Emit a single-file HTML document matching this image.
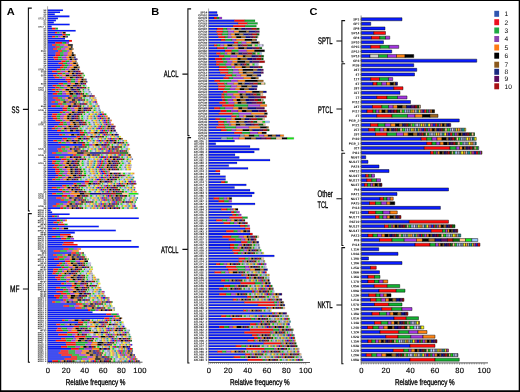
<!DOCTYPE html>
<html><head><meta charset="utf-8"><title>Figure</title>
<style>
html,body{margin:0;padding:0;background:#fff;}
body{width:520px;height:392px;overflow:hidden;}
svg{display:block;font-family:"Liberation Sans",sans-serif;will-change:transform;text-rendering:geometricPrecision;}
</style></head><body>
<svg width="520" height="392" viewBox="0 0 520 392">
<rect x="0" y="0" width="520" height="392" fill="#fff"/>
<text x="47.95" y="372.80" font-size="7.6" text-anchor="middle" font-weight="normal" fill="#000" stroke="#000" stroke-width="0.15" letter-spacing="0.3">0</text>
<text x="66.35" y="372.80" font-size="7.6" text-anchor="middle" font-weight="normal" fill="#000" stroke="#000" stroke-width="0.15" letter-spacing="0.3">20</text>
<text x="84.75" y="372.80" font-size="7.6" text-anchor="middle" font-weight="normal" fill="#000" stroke="#000" stroke-width="0.15" letter-spacing="0.3">40</text>
<text x="103.15" y="372.80" font-size="7.6" text-anchor="middle" font-weight="normal" fill="#000" stroke="#000" stroke-width="0.15" letter-spacing="0.3">60</text>
<text x="121.55" y="372.80" font-size="7.6" text-anchor="middle" font-weight="normal" fill="#000" stroke="#000" stroke-width="0.15" letter-spacing="0.3">80</text>
<text x="139.95" y="372.80" font-size="7.6" text-anchor="middle" font-weight="normal" fill="#000" stroke="#000" stroke-width="0.15" letter-spacing="0.3">100</text>
<text x="95.60" y="385.30" font-size="8.4" text-anchor="middle" font-weight="normal" fill="#000" textLength="59.8" lengthAdjust="spacingAndGlyphs" stroke="#000" stroke-width="0.32">Relative frequency %</text>
<path d="M31.80 8.10H28.40V211.00H30.00" fill="none" stroke="#111" stroke-width="1.1"/>
<path d="M31.80 213.60H28.40V362.30H30.00" fill="none" stroke="#111" stroke-width="1.1"/>
<text x="11.50" y="112.50" font-size="9.5" text-anchor="start" font-weight="normal" fill="#000" textLength="7.9" lengthAdjust="spacingAndGlyphs" stroke="#000" stroke-width="0.32">SS</text>
<text x="10.00" y="291.90" font-size="9.3" text-anchor="start" font-weight="normal" fill="#000" textLength="9.4" lengthAdjust="spacingAndGlyphs" stroke="#000" stroke-width="0.32">MF</text>
<text x="208.95" y="372.80" font-size="7.6" text-anchor="middle" font-weight="normal" fill="#000" stroke="#000" stroke-width="0.15" letter-spacing="0.3">0</text>
<text x="228.33" y="372.80" font-size="7.6" text-anchor="middle" font-weight="normal" fill="#000" stroke="#000" stroke-width="0.15" letter-spacing="0.3">20</text>
<text x="247.71" y="372.80" font-size="7.6" text-anchor="middle" font-weight="normal" fill="#000" stroke="#000" stroke-width="0.15" letter-spacing="0.3">40</text>
<text x="267.09" y="372.80" font-size="7.6" text-anchor="middle" font-weight="normal" fill="#000" stroke="#000" stroke-width="0.15" letter-spacing="0.3">60</text>
<text x="286.47" y="372.80" font-size="7.6" text-anchor="middle" font-weight="normal" fill="#000" stroke="#000" stroke-width="0.15" letter-spacing="0.3">80</text>
<text x="305.85" y="372.80" font-size="7.6" text-anchor="middle" font-weight="normal" fill="#000" stroke="#000" stroke-width="0.15" letter-spacing="0.3">100</text>
<text x="259.80" y="385.30" font-size="8.4" text-anchor="middle" font-weight="normal" fill="#000" textLength="59.8" lengthAdjust="spacingAndGlyphs" stroke="#000" stroke-width="0.32">Relative frequency %</text>
<path d="M191.10 8.90H187.90V135.60H189.50" fill="none" stroke="#111" stroke-width="1.1"/>
<path d="M191.10 137.60H187.90V363.00H189.50" fill="none" stroke="#111" stroke-width="1.1"/>
<text x="163.80" y="77.25" font-size="9.3" text-anchor="start" font-weight="normal" fill="#000" textLength="14.6" lengthAdjust="spacingAndGlyphs" stroke="#000" stroke-width="0.32">ALCL</text>
<text x="161.00" y="252.60" font-size="9.3" text-anchor="start" font-weight="normal" fill="#000" textLength="17.4" lengthAdjust="spacingAndGlyphs" stroke="#000" stroke-width="0.32">ATCLL</text>
<text x="361.45" y="372.80" font-size="7.6" text-anchor="middle" font-weight="normal" fill="#000" stroke="#000" stroke-width="0.15" letter-spacing="0.3">0</text>
<text x="386.01" y="372.80" font-size="7.6" text-anchor="middle" font-weight="normal" fill="#000" stroke="#000" stroke-width="0.15" letter-spacing="0.3">20</text>
<text x="410.57" y="372.80" font-size="7.6" text-anchor="middle" font-weight="normal" fill="#000" stroke="#000" stroke-width="0.15" letter-spacing="0.3">40</text>
<text x="435.13" y="372.80" font-size="7.6" text-anchor="middle" font-weight="normal" fill="#000" stroke="#000" stroke-width="0.15" letter-spacing="0.3">60</text>
<text x="459.69" y="372.80" font-size="7.6" text-anchor="middle" font-weight="normal" fill="#000" stroke="#000" stroke-width="0.15" letter-spacing="0.3">80</text>
<text x="484.25" y="372.80" font-size="7.6" text-anchor="middle" font-weight="normal" fill="#000" stroke="#000" stroke-width="0.15" letter-spacing="0.3">100</text>
<text x="424.80" y="385.30" font-size="8.4" text-anchor="middle" font-weight="normal" fill="#000" textLength="59.8" lengthAdjust="spacingAndGlyphs" stroke="#000" stroke-width="0.32">Relative frequency %</text>
<path d="M345.10 20.60H341.90V61.90H343.50" fill="none" stroke="#111" stroke-width="1.1"/>
<path d="M345.10 63.80H341.90V150.70H343.50" fill="none" stroke="#111" stroke-width="1.1"/>
<path d="M345.10 153.30H341.90V245.50H343.50" fill="none" stroke="#111" stroke-width="1.1"/>
<path d="M345.10 247.60H341.90V363.70H343.50" fill="none" stroke="#111" stroke-width="1.1"/>
<text x="318.00" y="44.40" font-size="9.5" text-anchor="start" font-weight="normal" fill="#000" textLength="14.6" lengthAdjust="spacingAndGlyphs" stroke="#000" stroke-width="0.32">SPTL</text>
<text x="318.00" y="112.50" font-size="9.5" text-anchor="start" font-weight="normal" fill="#000" textLength="14.6" lengthAdjust="spacingAndGlyphs" stroke="#000" stroke-width="0.32">PTCL</text>
<text x="317.60" y="196.60" font-size="9.5" text-anchor="start" font-weight="normal" fill="#000" textLength="15.2" lengthAdjust="spacingAndGlyphs" stroke="#000" stroke-width="0.32">Other</text>
<text x="317.60" y="208.00" font-size="9.5" text-anchor="start" font-weight="normal" fill="#000" textLength="10.6" lengthAdjust="spacingAndGlyphs" stroke="#000" stroke-width="0.32">TCL</text>
<text x="317.60" y="308.00" font-size="9.5" text-anchor="start" font-weight="normal" fill="#000" textLength="15.0" lengthAdjust="spacingAndGlyphs" stroke="#000" stroke-width="0.32">NKTL</text>
<text x="504.60" y="16.20" font-size="6.6" text-anchor="start" font-weight="normal" fill="#000">1</text>
<text x="504.60" y="24.60" font-size="6.6" text-anchor="start" font-weight="normal" fill="#000">2</text>
<text x="504.60" y="32.90" font-size="6.6" text-anchor="start" font-weight="normal" fill="#000">3</text>
<text x="504.60" y="41.40" font-size="6.6" text-anchor="start" font-weight="normal" fill="#000">4</text>
<text x="504.60" y="49.90" font-size="6.6" text-anchor="start" font-weight="normal" fill="#000">5</text>
<text x="504.60" y="58.10" font-size="6.6" text-anchor="start" font-weight="normal" fill="#000">6</text>
<text x="504.60" y="67.10" font-size="6.6" text-anchor="start" font-weight="normal" fill="#000">7</text>
<text x="504.60" y="74.20" font-size="6.6" text-anchor="start" font-weight="normal" fill="#000">8</text>
<text x="504.60" y="81.30" font-size="6.6" text-anchor="start" font-weight="normal" fill="#000">9</text>
<text x="504.60" y="88.70" font-size="6.6" text-anchor="start" font-weight="normal" fill="#000">10</text>
<path fill="#0a1cff" stroke="#000" stroke-width="0.07" d="M47.8 9.47h15.1v1.55h-15.1zM47.8 11.51h12.2v1.55h-12.2zM47.8 13.55h6.95v1.55h-6.95zM47.8 15.6h21.6v1.55h-21.6zM47.8 17.64h10.1v1.55h-10.1zM47.8 19.68h8.1v1.55h-8.1zM47.8 21.72h5.95v1.55h-5.95zM47.8 23.76h21.8v1.55h-21.8zM47.8 25.8h3.8v1.55h-3.8zM47.8 27.84h4.3v1.55h-4.3zM47.8 29.88h27.8v1.55h-27.8zM47.8 31.91h7.2v1.55h-7.2zM47.8 33.96h14.7v1.55h-14.7zM47.8 35.99h4.3v1.55h-4.3zM47.8 38.04h17.2v1.55h-17.2zM47.8 40.08h21.2v1.55h-21.2zM47.8 42.12h7.45v1.55h-7.45zM47.8 44.16h4.3v1.55h-4.3zM47.8 46.2h7.96v1.55h-7.96zM47.8 48.23h5.27v1.55h-5.27zM47.8 50.27h10.34v1.55h-10.34zM47.8 52.32h7.89v1.55h-7.89zM47.8 54.36h7.8v1.55h-7.8zM47.8 56.4h5.66v1.55h-5.66zM47.8 58.44h6.64v1.55h-6.64zM47.8 60.48h13.67v1.55h-13.67zM47.8 62.52h10.82v1.55h-10.82zM47.8 64.55h14v1.55h-14zM47.8 66.59h12.26v1.55h-12.26zM47.8 68.63h9.32v1.55h-9.32zM47.8 70.67h4.22v1.55h-4.22zM47.8 72.72h10.03v1.55h-10.03zM47.8 74.75h5.27v1.55h-5.27zM47.8 76.8h7.02v1.55h-7.02zM47.8 78.83h17.87v1.55h-17.87zM47.8 80.88h19.62v1.55h-19.62zM47.8 82.91h10.94v1.55h-10.94zM47.8 84.95h4.94v1.55h-4.94zM47.8 86.99h7.75v1.55h-7.75zM47.8 89.03h4.11v1.55h-4.11zM47.8 91.07h7.9v1.55h-7.9zM47.8 93.11h5.06v1.55h-5.06zM47.8 95.16h21.63v1.55h-21.63zM47.8 97.19h5.08v1.55h-5.08zM47.8 99.23h7.94v1.55h-7.94zM47.8 101.27h3.9v1.55h-3.9zM94.56 101.27h1.61v1.55h-1.61zM47.8 103.31h10.17v1.55h-10.17zM47.8 105.35h3.64v1.55h-3.64zM98.88 105.35h0.35v1.55h-0.35zM47.8 107.39h14.98v1.55h-14.98zM47.8 109.44h15.14v1.55h-15.14zM47.8 111.47h11.99v1.55h-11.99zM47.8 113.52h4.6v1.55h-4.6zM99.89 113.52h2.21v1.55h-2.21zM47.8 115.55h3.96v1.55h-3.96zM97.79 115.55h2.16v1.55h-2.16zM47.8 117.59h5.13v1.55h-5.13zM99.6 117.59h1.6v1.55h-1.6zM47.8 119.63h7.93v1.55h-7.93zM103.57 119.63h2.18v1.55h-2.18zM47.8 121.67h12.39v1.55h-12.39zM104.2 121.67h1.64v1.55h-1.64zM47.8 123.72h11.06v1.55h-11.06zM105.93 123.72h1.34v1.55h-1.34zM47.8 125.75h6.64v1.55h-6.64zM99.38 125.75h1.7v1.55h-1.7zM47.8 127.79h4.1v1.55h-4.1zM98.17 127.79h2.04v1.55h-2.04zM47.8 129.84h9.26v1.55h-9.26zM101.35 129.84h1.77v1.55h-1.77zM47.8 131.88h31.97v1.55h-31.97zM47.8 133.91h11.6v1.55h-11.6zM103.96 133.91h1.59v1.55h-1.59zM47.8 135.96h28.74v1.55h-28.74zM47.8 138h14.79v1.55h-14.79zM109.65 138h1.28v1.55h-1.28zM47.8 140.03h5.67v1.55h-5.67zM98.35 140.03h1.67v1.55h-1.67zM47.8 142.07h10.72v1.55h-10.72zM105.14 142.07h1.54v1.55h-1.54zM47.8 144.12h34.34v1.55h-34.34zM47.8 146.16h13.48v1.55h-13.48zM103.36 146.16h1.41v1.55h-1.41zM47.8 148.19h9.64v1.55h-9.64zM99.32 148.19h1.86v1.55h-1.86zM47.8 150.23h10.47v1.55h-10.47zM108.04 150.23h2.09v1.55h-2.09zM47.8 152.28h4.27v1.55h-4.27zM47.8 154.31h25.34v1.55h-25.34zM119.13 154.31h2.06v1.55h-2.06zM47.8 156.35h7.69v1.55h-7.69zM101.06 156.35h1.9v1.55h-1.9zM47.8 158.4h13.53v1.55h-13.53zM104.9 158.4h1.47v1.55h-1.47zM47.8 160.44h4.53v1.55h-4.53zM99.26 160.44h2.2v1.55h-2.2zM47.8 162.47h4.15v1.55h-4.15zM99.58 162.47h1.35v1.55h-1.35zM47.8 164.51h6.92v1.55h-6.92zM99.02 164.51h1.39v1.55h-1.39zM47.8 166.56h5v1.55h-5zM97.12 166.56h1.84v1.55h-1.84zM47.8 168.59h7.34v1.55h-7.34zM99.8 168.59h2.07v1.55h-2.07zM47.8 170.63h7.51v1.55h-7.51zM100.75 170.63h2.19v1.55h-2.19zM47.8 172.67h8.16v1.55h-8.16zM101.86 172.67h2.14v1.55h-2.14zM47.8 174.72h10.42v1.55h-10.42zM106.51 174.72h1.83v1.55h-1.83zM47.8 176.75h7.33v1.55h-7.33zM100.98 176.75h2.14v1.55h-2.14zM47.8 178.79h4.54v1.55h-4.54zM96.88 178.79h2.1v1.55h-2.1zM47.8 180.84h36.95v1.55h-36.95zM129.18 180.84h1.96v1.55h-1.96zM47.8 182.88h25.87v1.55h-25.87zM118.59 182.88h1.55v1.55h-1.55zM47.8 184.91h14.45v1.55h-14.45zM105.42 184.91h1.49v1.55h-1.49zM47.8 186.95h4.13v1.55h-4.13zM97.35 186.95h1.96v1.55h-1.96zM47.8 189h10.76v1.55h-10.76zM100.62 189h1.87v1.55h-1.87zM47.8 191.03h14.64v1.55h-14.64zM106.61 191.03h1.32v1.55h-1.32zM47.8 193.07h4.32v1.55h-4.32zM47.8 195.12h14.18v1.55h-14.18zM107.59 195.12h1.57v1.55h-1.57zM47.8 197.16h8.47v1.55h-8.47zM101.99 197.16h1.62v1.55h-1.62zM47.8 199.19h13.05v1.55h-13.05zM103.3 199.19h1.8v1.55h-1.8zM47.8 201.23h19.85v1.55h-19.85zM113.23 201.23h2.22v1.55h-2.22zM47.8 203.28h8.18v1.55h-8.18zM100.5 203.28h1.78v1.55h-1.78zM47.8 205.31h4.96v1.55h-4.96zM95.77 205.31h1.43v1.55h-1.43zM133.91 205.31h1.38v1.55h-1.38zM47.8 207.35h12.36v1.55h-12.36zM101.84 207.35h1.84v1.55h-1.84zM47.8 209.4h2.8v1.55h-2.8zM47.8 211.44h4.3v1.55h-4.3zM47.8 213.47h21.8v1.55h-21.8zM47.8 215.51h4.3v1.55h-4.3zM47.8 217.56h90.95v1.55h-90.95zM47.8 219.59h9.1v1.55h-9.1zM47.8 221.63h5.7v1.55h-5.7zM47.8 223.68h10.3v1.55h-10.3zM47.8 225.72h50.95v1.55h-50.95zM47.8 227.75h4.7v1.55h-4.7zM47.8 229.79h67.95v1.55h-67.95zM47.8 231.84h26.95v1.55h-26.95zM47.8 233.88h12.2v1.55h-12.2zM47.8 235.91h4.1v1.55h-4.1zM47.8 237.96h13.45v1.55h-13.45zM47.8 240h83.45v1.55h-83.45zM47.8 242.03h15.95v1.55h-15.95zM47.8 244.07h14.7v1.55h-14.7zM47.8 246.12h90.95v1.55h-90.95zM47.8 248.16h15.95v1.55h-15.95zM47.8 250.19h5.95v1.55h-5.95zM47.8 252.23h23.45v1.55h-23.45zM47.8 254.28h5.33v1.55h-5.33zM47.8 256.32h9.86v1.55h-9.86zM47.8 258.36h6.23v1.55h-6.23zM47.8 260.4h17.44v1.55h-17.44zM47.8 262.44h11.52v1.55h-11.52zM47.8 264.48h9.05v1.55h-9.05zM47.8 266.52h13.73v1.55h-13.73zM47.8 268.56h5.76v1.55h-5.76zM47.8 270.6h5.36v1.55h-5.36zM47.8 272.64h4.69v1.55h-4.69zM47.8 274.68h10.3v1.55h-10.3zM47.8 276.72h7.48v1.55h-7.48zM47.8 278.76h9.38v1.55h-9.38zM47.8 280.8h18.55v1.55h-18.55zM47.8 282.84h13.56v1.55h-13.56zM47.8 284.88h24.12v1.55h-24.12zM47.8 286.92h8.24v1.55h-8.24zM47.8 288.96h15.66v1.55h-15.66zM47.8 291h8.79v1.55h-8.79zM104.12 291h0.31v1.55h-0.31zM47.8 293.04h13.16v1.55h-13.16zM47.8 295.08h6.46v1.55h-6.46zM47.8 297.12h8.21v1.55h-8.21zM102.96 297.12h2.4v1.55h-2.4zM47.8 299.16h15.48v1.55h-15.48zM108.73 299.16h0.59v1.55h-0.59zM47.8 301.2h4.39v1.55h-4.39zM94.5 301.2h0.99v1.55h-0.99zM47.8 303.24h28.13v1.55h-28.13zM47.8 305.28h15.86v1.55h-15.86zM47.8 307.32h27.8v1.55h-27.8zM47.8 309.36h40.2v1.55h-40.2zM47.8 311.4h44.7v1.55h-44.7zM47.8 313.44h58.5v1.55h-58.5zM47.8 315.48h65.74v1.55h-65.74zM47.8 317.52h56.6v1.55h-56.6zM47.8 319.56h14.32v1.55h-14.32zM105.6 319.56h1.71v1.55h-1.71zM47.8 321.6h30.28v1.55h-30.28zM47.8 323.64h8.56v1.55h-8.56zM101.63 323.64h1.17v1.55h-1.17zM47.8 325.68h26.09v1.55h-26.09zM122.95 325.68h1.46v1.55h-1.46zM47.8 327.72h9.72v1.55h-9.72zM107.23 327.72h2.36v1.55h-2.36zM47.8 329.76h8.4v1.55h-8.4zM108.18 329.76h1.4v1.55h-1.4zM47.8 331.8h19.36v1.55h-19.36zM124.56 331.8h1.99v1.55h-1.99zM47.8 333.84h10.74v1.55h-10.74zM107.69 333.84h1.87v1.55h-1.87zM47.8 335.88h26.98v1.55h-26.98zM47.8 337.92h13.31v1.55h-13.31zM111.68 337.92h1.95v1.55h-1.95zM47.8 339.96h8.07v1.55h-8.07zM112.18 339.96h2.32v1.55h-2.32zM47.8 342h18.02v1.55h-18.02zM47.8 344.04h18.27v1.55h-18.27zM131.15 344.04h1.08v1.55h-1.08zM47.8 346.08h13.29v1.55h-13.29zM113.31 346.08h1.32v1.55h-1.32zM47.8 348.12h23.3v1.55h-23.3zM127.38 348.12h2.43v1.55h-2.43zM47.8 350.16h12.83v1.55h-12.83zM119.19 350.16h1.29v1.55h-1.29zM47.8 352.2h11v1.55h-11zM119.99 352.2h1.27v1.55h-1.27zM47.8 354.24h13.78v1.55h-13.78zM121.46 354.24h0.94v1.55h-0.94zM47.8 356.28h23.27v1.55h-23.27zM129.32 356.28h0.81v1.55h-0.81zM47.8 358.32h16.95v1.55h-16.95zM131.37 358.32h1.21v1.55h-1.21zM47.8 360.36h4.5v1.55h-4.5zM92.5 360.36h1.57v1.55h-1.57zM128.9 360.36h1.32v1.55h-1.32z"/>
<path fill="#ff0a0a" stroke="#000" stroke-width="0.07" d="M52.1 27.84h3.5v1.55h-3.5zM55 31.91h2.25v1.55h-2.25zM62.5 33.96h3.4v1.55h-3.4zM52.1 35.99h3.15v1.55h-3.15zM69 40.08h2.9v1.55h-2.9zM55.25 42.12h7v1.55h-7zM52.1 44.16h3.9v1.55h-3.9zM55.76 46.2h4.05v1.55h-4.05zM53.07 48.23h4.25v1.55h-4.25zM58.14 50.27h3.86v1.55h-3.86zM55.69 52.32h4.26v1.55h-4.26zM55.6 54.36h4.52v1.55h-4.52zM53.46 56.4h4.66v1.55h-4.66zM54.44 58.44h3.7v1.55h-3.7zM61.47 60.48h4.34v1.55h-4.34zM58.62 62.52h4.52v1.55h-4.52zM61.8 64.55h3.06v1.55h-3.06zM60.06 66.59h3.68v1.55h-3.68zM57.12 68.63h4.01v1.55h-4.01zM52.02 70.67h4.93v1.55h-4.93zM57.83 72.72h4.66v1.55h-4.66zM53.07 74.75h3.37v1.55h-3.37zM54.82 76.8h4.4v1.55h-4.4zM65.67 78.83h5.27v1.55h-5.27zM67.42 80.88h3.29v1.55h-3.29zM58.74 82.91h4.47v1.55h-4.47zM52.74 84.95h3.99v1.55h-3.99zM55.55 86.99h4.09v1.55h-4.09zM51.91 89.03h3.41v1.55h-3.41zM55.7 91.07h3.65v1.55h-3.65zM52.86 93.11h4.7v1.55h-4.7zM69.43 95.16h2.97v1.55h-2.97zM52.88 97.19h5.15v1.55h-5.15zM55.74 99.23h4.53v1.55h-4.53zM51.7 101.27h3.27v1.55h-3.27zM96.17 101.27h0.97v1.55h-0.97zM57.97 103.31h4.46v1.55h-4.46zM51.44 105.35h4.53v1.55h-4.53zM62.78 107.39h4.64v1.55h-4.64zM62.94 109.44h4.49v1.55h-4.49zM59.79 111.47h2.99v1.55h-2.99zM52.4 113.52h5.13v1.55h-5.13zM102.1 113.52h2.14v1.55h-2.14zM51.76 115.55h4.65v1.55h-4.65zM99.95 115.55h1.72v1.55h-1.72zM52.93 117.59h4.2v1.55h-4.2zM101.21 117.59h1.88v1.55h-1.88zM55.73 119.63h4.28v1.55h-4.28zM105.75 119.63h1.88v1.55h-1.88zM60.19 121.67h3.28v1.55h-3.28zM105.84 121.67h1.59v1.55h-1.59zM58.86 123.72h4.66v1.55h-4.66zM107.27 123.72h1.25v1.55h-1.25zM54.44 125.75h3.27v1.55h-3.27zM101.08 125.75h1.59v1.55h-1.59zM51.9 127.79h3.29v1.55h-3.29zM100.21 127.79h2.17v1.55h-2.17zM57.06 129.84h4.09v1.55h-4.09zM103.11 129.84h2.02v1.55h-2.02zM79.77 131.88h4.26v1.55h-4.26zM59.4 133.91h3.29v1.55h-3.29zM105.55 133.91h1.86v1.55h-1.86zM76.54 135.96h3.83v1.55h-3.83zM62.59 138h4.83v1.55h-4.83zM110.93 138h1.95v1.55h-1.95zM53.47 140.03h3.81v1.55h-3.81zM100.02 140.03h1.66v1.55h-1.66zM58.52 142.07h3v1.55h-3zM106.68 142.07h1.85v1.55h-1.85zM82.14 144.12h3.09v1.55h-3.09zM61.28 146.16h4.28v1.55h-4.28zM104.77 146.16h1.86v1.55h-1.86zM57.44 148.19h4.1v1.55h-4.1zM101.18 148.19h2.25v1.55h-2.25zM58.27 150.23h4.53v1.55h-4.53zM110.13 150.23h1.76v1.55h-1.76zM52.07 152.28h3.91v1.55h-3.91zM73.14 154.31h2.92v1.55h-2.92zM121.2 154.31h2.19v1.55h-2.19zM55.49 156.35h3.79v1.55h-3.79zM102.96 156.35h1.98v1.55h-1.98zM61.33 158.4h5.31v1.55h-5.31zM106.36 158.4h1.98v1.55h-1.98zM52.33 160.44h3.86v1.55h-3.86zM101.46 160.44h1.75v1.55h-1.75zM51.95 162.47h2.99v1.55h-2.99zM100.93 162.47h1.9v1.55h-1.9zM54.72 164.51h4.02v1.55h-4.02zM100.4 164.51h1.67v1.55h-1.67zM52.8 166.56h4.04v1.55h-4.04zM98.96 166.56h1.92v1.55h-1.92zM55.14 168.59h4.04v1.55h-4.04zM101.87 168.59h1.7v1.55h-1.7zM55.31 170.63h4.87v1.55h-4.87zM102.95 170.63h2.24v1.55h-2.24zM55.96 172.67h2.82v1.55h-2.82zM104.01 172.67h2.17v1.55h-2.17zM58.22 174.72h3.85v1.55h-3.85zM108.35 174.72h2.15v1.55h-2.15zM55.13 176.75h3.01v1.55h-3.01zM103.12 176.75h1.75v1.55h-1.75zM52.34 178.79h3.32v1.55h-3.32zM98.98 178.79h2.15v1.55h-2.15zM84.75 180.84h4.59v1.55h-4.59zM131.14 180.84h1.4v1.55h-1.4zM73.67 182.88h3.04v1.55h-3.04zM120.14 182.88h1.37v1.55h-1.37zM62.25 184.91h3.89v1.55h-3.89zM106.9 184.91h1.38v1.55h-1.38zM51.93 186.95h4.84v1.55h-4.84zM99.3 186.95h2.06v1.55h-2.06zM58.56 189h3.97v1.55h-3.97zM102.49 189h1.93v1.55h-1.93zM62.44 191.03h3.27v1.55h-3.27zM107.93 191.03h1.2v1.55h-1.2zM52.12 193.07h4.24v1.55h-4.24zM61.98 195.12h5.31v1.55h-5.31zM109.16 195.12h1.75v1.55h-1.75zM56.27 197.16h5.09v1.55h-5.09zM103.61 197.16h1.79v1.55h-1.79zM60.85 199.19h3.32v1.55h-3.32zM105.09 199.19h2.12v1.55h-2.12zM67.65 201.23h3.05v1.55h-3.05zM115.44 201.23h1.72v1.55h-1.72zM55.98 203.28h3.71v1.55h-3.71zM102.28 203.28h1.69v1.55h-1.69zM52.76 205.31h4.09v1.55h-4.09zM97.2 205.31h1.33v1.55h-1.33zM135.29 205.31h0.62v1.55h-0.62zM60.16 207.35h3.21v1.55h-3.21zM103.68 207.35h1.24v1.55h-1.24zM52.1 215.51h2.65v1.55h-2.65zM56.9 219.59h3.35v1.55h-3.35zM53.5 221.63h3.4v1.55h-3.4zM58.1 223.68h6.5v1.55h-6.5zM52.5 227.75h3.75v1.55h-3.75zM60 233.88h10.6v1.55h-10.6zM51.9 235.91h4.1v1.55h-4.1zM61.25 237.96h5v1.55h-5zM63.75 242.03h9.75v1.55h-9.75zM62.5 244.07h15v1.55h-15zM63.75 248.16h5v1.55h-5zM53.75 250.19h6.25v1.55h-6.25zM71.25 252.23h4.75v1.55h-4.75zM53.13 254.28h3.63v1.55h-3.63zM57.66 256.32h5.82v1.55h-5.82zM54.03 258.36h5.15v1.55h-5.15zM65.24 260.4h5.1v1.55h-5.1zM59.32 262.44h2.86v1.55h-2.86zM56.85 264.48h3.76v1.55h-3.76zM61.53 266.52h2.48v1.55h-2.48zM53.56 268.56h4.88v1.55h-4.88zM53.16 270.6h4.57v1.55h-4.57zM52.49 272.64h3.29v1.55h-3.29zM58.1 274.68h3.85v1.55h-3.85zM55.28 276.72h5.37v1.55h-5.37zM57.18 278.76h3.26v1.55h-3.26zM66.35 280.8h2.49v1.55h-2.49zM61.36 282.84h2.85v1.55h-2.85zM71.92 284.88h4.29v1.55h-4.29zM56.04 286.92h4.36v1.55h-4.36zM63.46 288.96h2.42v1.55h-2.42zM56.59 291h6.54v1.55h-6.54zM60.96 293.04h5.79v1.55h-5.79zM54.26 295.08h5.79v1.55h-5.79zM56.01 297.12h3.25v1.55h-3.25zM105.36 297.12h1.03v1.55h-1.03zM63.28 299.16h3.18v1.55h-3.18zM52.19 301.2h3.28v1.55h-3.28zM95.49 301.2h1.39v1.55h-1.39zM75.93 303.24h6.6v1.55h-6.6zM63.66 305.28h5.4v1.55h-5.4zM75.6 307.32h6.22v1.55h-6.22zM88 309.36h2.5v1.55h-2.5zM106.3 313.44h5.14v1.55h-5.14zM113.54 315.48h2.4v1.55h-2.4zM104.4 317.52h5.01v1.55h-5.01zM62.12 319.56h2.57v1.55h-2.57zM107.31 319.56h2.36v1.55h-2.36zM78.08 321.6h5.49v1.55h-5.49zM56.36 323.64h4.21v1.55h-4.21zM102.8 323.64h1.54v1.55h-1.54zM73.89 325.68h5.18v1.55h-5.18zM57.52 327.72h4.04v1.55h-4.04zM109.59 327.72h0.96v1.55h-0.96zM56.2 329.76h6.7v1.55h-6.7zM109.58 329.76h1.91v1.55h-1.91zM67.16 331.8h11.49v1.55h-11.49zM126.55 331.8h0.9v1.55h-0.9zM58.54 333.84h8.99v1.55h-8.99zM109.56 333.84h1.13v1.55h-1.13zM74.78 335.88h10.86v1.55h-10.86zM61.11 337.92h4.63v1.55h-4.63zM113.63 337.92h0.87v1.55h-0.87zM55.87 339.96h10.55v1.55h-10.55zM114.5 339.96h1.64v1.55h-1.64zM65.82 342h9.99v1.55h-9.99zM66.07 344.04h9.82v1.55h-9.82zM61.09 346.08h6.26v1.55h-6.26zM114.63 346.08h1.88v1.55h-1.88zM71.1 348.12h7.8v1.55h-7.8zM129.81 348.12h2.36v1.55h-2.36zM60.63 350.16h7.93v1.55h-7.93zM120.48 350.16h2.37v1.55h-2.37zM58.8 352.2h9.91v1.55h-9.91zM121.26 352.2h1.13v1.55h-1.13zM61.58 354.24h10.57v1.55h-10.57zM122.4 354.24h1.37v1.55h-1.37zM71.07 356.28h5.96v1.55h-5.96zM130.13 356.28h1.14v1.55h-1.14zM64.75 358.32h12.47v1.55h-12.47zM132.58 358.32h2.33v1.55h-2.33zM52.3 360.36h5.71v1.55h-5.71zM94.07 360.36h1.93v1.55h-1.93zM130.22 360.36h1.3v1.55h-1.3z"/>
<path fill="#12b030" stroke="#000" stroke-width="0.07" d="M55.6 27.84h2.3v1.55h-2.3zM57.25 31.91h2.35v1.55h-2.35zM65.9 33.96h4.1v1.55h-4.1zM55.25 35.99h2.85v1.55h-2.85zM62.25 42.12h3.75v1.55h-3.75zM56 44.16h4v1.55h-4zM59.81 46.2h3.84v1.55h-3.84zM57.32 48.23h3.83v1.55h-3.83zM62 50.27h4.85v1.55h-4.85zM59.95 52.32h3.66v1.55h-3.66zM60.12 54.36h3.63v1.55h-3.63zM58.12 56.4h3.52v1.55h-3.52zM58.15 58.44h4.65v1.55h-4.65zM65.81 60.48h3.33v1.55h-3.33zM63.13 62.52h3.89v1.55h-3.89zM64.86 64.55h3.91v1.55h-3.91zM63.74 66.59h3.43v1.55h-3.43zM61.13 68.63h4.19v1.55h-4.19zM56.95 70.67h3.79v1.55h-3.79zM62.5 72.72h3.11v1.55h-3.11zM56.45 74.75h3.04v1.55h-3.04zM59.22 76.8h2.78v1.55h-2.78zM70.95 78.83h4.1v1.55h-4.1zM70.71 80.88h4.6v1.55h-4.6zM63.21 82.91h4.46v1.55h-4.46zM56.73 84.95h4.25v1.55h-4.25zM59.64 86.99h4.18v1.55h-4.18zM55.32 89.03h2.74v1.55h-2.74zM59.35 91.07h3.02v1.55h-3.02zM57.56 93.11h4.46v1.55h-4.46zM72.4 95.16h4.56v1.55h-4.56zM58.03 97.19h4.02v1.55h-4.02zM60.27 99.23h4.83v1.55h-4.83zM54.97 101.27h3.18v1.55h-3.18zM62.43 103.31h4.21v1.55h-4.21zM55.97 105.35h4.4v1.55h-4.4zM67.42 107.39h3.03v1.55h-3.03zM67.43 109.44h4.15v1.55h-4.15zM62.78 111.47h2.76v1.55h-2.76zM57.54 113.52h4.19v1.55h-4.19zM104.24 113.52h2.06v1.55h-2.06zM56.4 115.55h3.59v1.55h-3.59zM101.67 115.55h1.43v1.55h-1.43zM57.13 117.59h3.29v1.55h-3.29zM103.09 117.59h1.65v1.55h-1.65zM60.01 119.63h2.55v1.55h-2.55zM107.63 119.63h1.52v1.55h-1.52zM63.48 121.67h3.15v1.55h-3.15zM107.43 121.67h1.72v1.55h-1.72zM63.52 123.72h3.71v1.55h-3.71zM108.52 123.72h1.25v1.55h-1.25zM57.71 125.75h4.69v1.55h-4.69zM102.67 125.75h2.17v1.55h-2.17zM55.19 127.79h2.69v1.55h-2.69zM102.38 127.79h2.06v1.55h-2.06zM61.15 129.84h3.44v1.55h-3.44zM105.13 129.84h2v1.55h-2zM84.03 131.88h3.29v1.55h-3.29zM62.69 133.91h2.71v1.55h-2.71zM107.4 133.91h1.27v1.55h-1.27zM80.37 135.96h3.19v1.55h-3.19zM67.42 138h3.45v1.55h-3.45zM112.88 138h1.93v1.55h-1.93zM57.28 140.03h3.72v1.55h-3.72zM101.68 140.03h1.22v1.55h-1.22zM61.52 142.07h4.25v1.55h-4.25zM108.52 142.07h2.16v1.55h-2.16zM85.23 144.12h3.75v1.55h-3.75zM65.56 146.16h4.05v1.55h-4.05zM106.63 146.16h1.7v1.55h-1.7zM61.55 148.19h3.66v1.55h-3.66zM103.44 148.19h1.97v1.55h-1.97zM62.8 150.23h4.62v1.55h-4.62zM111.9 150.23h1.7v1.55h-1.7zM55.99 152.28h5.77v1.55h-5.77zM76.07 154.31h3.82v1.55h-3.82zM123.39 154.31h1.44v1.55h-1.44zM59.29 156.35h4.55v1.55h-4.55zM104.94 156.35h1.37v1.55h-1.37zM66.64 158.4h2.9v1.55h-2.9zM108.34 158.4h1.2v1.55h-1.2zM56.19 160.44h4.3v1.55h-4.3zM103.2 160.44h1.3v1.55h-1.3zM54.94 162.47h4.6v1.55h-4.6zM102.83 162.47h2.08v1.55h-2.08zM58.74 164.51h3.94v1.55h-3.94zM102.08 164.51h2.03v1.55h-2.03zM56.84 166.56h2.65v1.55h-2.65zM100.89 166.56h2.19v1.55h-2.19zM59.18 168.59h3.28v1.55h-3.28zM103.56 168.59h2.01v1.55h-2.01zM60.18 170.63h4.3v1.55h-4.3zM105.19 170.63h1.7v1.55h-1.7zM58.79 172.67h4.03v1.55h-4.03zM106.17 172.67h1.25v1.55h-1.25zM62.07 174.72h3.39v1.55h-3.39zM110.5 174.72h2.05v1.55h-2.05zM58.15 176.75h3.77v1.55h-3.77zM104.86 176.75h1.7v1.55h-1.7zM55.66 178.79h4.48v1.55h-4.48zM101.13 178.79h2.11v1.55h-2.11zM89.34 180.84h3.97v1.55h-3.97zM132.54 180.84h1.23v1.55h-1.23zM76.71 182.88h4.61v1.55h-4.61zM121.51 182.88h1.72v1.55h-1.72zM66.14 184.91h3.1v1.55h-3.1zM108.29 184.91h2.09v1.55h-2.09zM56.77 186.95h3.26v1.55h-3.26zM101.37 186.95h2.12v1.55h-2.12zM62.53 189h3.04v1.55h-3.04zM104.43 189h1.83v1.55h-1.83zM65.72 191.03h3.23v1.55h-3.23zM109.13 191.03h1.44v1.55h-1.44zM56.36 193.07h6.8v1.55h-6.8zM67.29 195.12h3.11v1.55h-3.11zM110.91 195.12h1.83v1.55h-1.83zM61.36 197.16h2.52v1.55h-2.52zM105.4 197.16h1.8v1.55h-1.8zM64.18 199.19h4.51v1.55h-4.51zM107.22 199.19h2.15v1.55h-2.15zM70.71 201.23h4.53v1.55h-4.53zM117.17 201.23h2.21v1.55h-2.21zM59.7 203.28h3.25v1.55h-3.25zM103.97 203.28h2.04v1.55h-2.04zM56.85 205.31h3.71v1.55h-3.71zM98.53 205.31h1.96v1.55h-1.96zM63.36 207.35h2.94v1.55h-2.94zM104.92 207.35h1.45v1.55h-1.45zM54.75 215.51h2.15v1.55h-2.15zM60.25 219.59h2.5v1.55h-2.5zM56.9 221.63h2.5v1.55h-2.5zM64.6 223.68h2.9v1.55h-2.9zM56.25 227.75h2.75v1.55h-2.75zM56 235.91h4v1.55h-4zM66.25 237.96h4.15v1.55h-4.15zM68.75 248.16h5v1.55h-5zM60 250.19h6.9v1.55h-6.9zM76 252.23h3v1.55h-3zM56.75 254.28h5.92v1.55h-5.92zM63.48 256.32h3.28v1.55h-3.28zM59.18 258.36h5.44v1.55h-5.44zM70.34 260.4h5.33v1.55h-5.33zM62.17 262.44h2.89v1.55h-2.89zM60.62 264.48h3.76v1.55h-3.76zM64.01 266.52h4.74v1.55h-4.74zM58.44 268.56h4.24v1.55h-4.24zM57.73 270.6h4.38v1.55h-4.38zM55.79 272.64h3.49v1.55h-3.49zM61.95 274.68h3.97v1.55h-3.97zM60.66 276.72h3.52v1.55h-3.52zM60.44 278.76h5.9v1.55h-5.9zM68.84 280.8h6.03v1.55h-6.03zM64.21 282.84h2.25v1.55h-2.25zM76.21 284.88h3.79v1.55h-3.79zM60.4 286.92h5.95v1.55h-5.95zM65.88 288.96h2.26v1.55h-2.26zM63.14 291h5.55v1.55h-5.55zM66.74 293.04h3.23v1.55h-3.23zM60.05 295.08h3.02v1.55h-3.02zM59.26 297.12h3.5v1.55h-3.5zM106.39 297.12h1.3v1.55h-1.3zM66.46 299.16h2.17v1.55h-2.17zM55.48 301.2h5.22v1.55h-5.22zM96.88 301.2h1.63v1.55h-1.63zM82.53 303.24h3.06v1.55h-3.06zM69.07 305.28h4.96v1.55h-4.96zM81.82 307.32h3.42v1.55h-3.42zM90.5 309.36h5.07v1.55h-5.07zM111.44 313.44h5.49v1.55h-5.49zM115.94 315.48h3.6v1.55h-3.6zM109.41 317.52h3.01v1.55h-3.01zM64.69 319.56h3.79v1.55h-3.79zM109.67 319.56h1.29v1.55h-1.29zM83.57 321.6h3.94v1.55h-3.94zM60.58 323.64h4.18v1.55h-4.18zM104.34 323.64h1.14v1.55h-1.14zM79.07 325.68h7.93v1.55h-7.93zM61.56 327.72h5.44v1.55h-5.44zM110.54 327.72h1.61v1.55h-1.61zM62.9 329.76h5.59v1.55h-5.59zM111.5 329.76h0.95v1.55h-0.95zM78.65 331.8h3.3v1.55h-3.3zM127.46 331.8h1.21v1.55h-1.21zM67.52 333.84h4.51v1.55h-4.51zM110.7 333.84h1.85v1.55h-1.85zM85.64 335.88h6.09v1.55h-6.09zM65.74 337.92h7.44v1.55h-7.44zM114.5 337.92h2.18v1.55h-2.18zM66.43 339.96h4.77v1.55h-4.77zM116.14 339.96h1.41v1.55h-1.41zM75.82 342h11.97v1.55h-11.97zM75.89 344.04h9.39v1.55h-9.39zM67.35 346.08h8.31v1.55h-8.31zM116.51 346.08h2.43v1.55h-2.43zM78.89 348.12h5.62v1.55h-5.62zM132.17 348.12h0.61v1.55h-0.61zM68.56 350.16h6.75v1.55h-6.75zM122.85 350.16h2.42v1.55h-2.42zM68.71 352.2h6.55v1.55h-6.55zM122.39 352.2h2.04v1.55h-2.04zM72.15 354.24h7.2v1.55h-7.2zM123.77 354.24h1.34v1.55h-1.34zM77.02 356.28h10.26v1.55h-10.26zM131.27 356.28h1.4v1.55h-1.4zM77.22 358.32h4.81v1.55h-4.81zM134.9 358.32h1.14v1.55h-1.14zM58.01 360.36h1.92v1.55h-1.92zM96 360.36h1.74v1.55h-1.74zM131.51 360.36h1.63v1.55h-1.63z"/>
<path fill="#a436e0" stroke="#000" stroke-width="0.07" d="M59.6 31.91h2.3v1.55h-2.3zM58.1 35.99h2.5v1.55h-2.5zM66 42.12h3.1v1.55h-3.1zM60 44.16h4.4v1.55h-4.4zM63.65 46.2h4.1v1.55h-4.1zM61.15 48.23h4.31v1.55h-4.31zM66.84 50.27h2.58v1.55h-2.58zM63.61 52.32h4.22v1.55h-4.22zM63.75 54.36h3.95v1.55h-3.95zM61.64 56.4h4.38v1.55h-4.38zM62.8 58.44h4.47v1.55h-4.47zM69.14 60.48h2.67v1.55h-2.67zM67.02 62.52h3.25v1.55h-3.25zM68.77 64.55h3.55v1.55h-3.55zM67.17 66.59h2.65v1.55h-2.65zM65.32 68.63h3.49v1.55h-3.49zM60.74 70.67h4.33v1.55h-4.33zM65.61 72.72h3.49v1.55h-3.49zM59.48 74.75h2.82v1.55h-2.82zM62 76.8h4.4v1.55h-4.4zM75.05 78.83h3.12v1.55h-3.12zM75.31 80.88h2.43v1.55h-2.43zM67.67 82.91h3.47v1.55h-3.47zM60.99 84.95h3.55v1.55h-3.55zM63.82 86.99h3.33v1.55h-3.33zM58.06 89.03h3.78v1.55h-3.78zM62.37 91.07h3.03v1.55h-3.03zM62.03 93.11h4.16v1.55h-4.16zM76.96 95.16h3.31v1.55h-3.31zM62.04 97.19h3.48v1.55h-3.48zM65.11 99.23h3.07v1.55h-3.07zM58.15 101.27h2.35v1.55h-2.35zM66.64 103.31h4.2v1.55h-4.2zM60.37 105.35h3.84v1.55h-3.84zM70.45 107.39h3.9v1.55h-3.9zM71.58 109.44h3.76v1.55h-3.76zM65.54 111.47h3.9v1.55h-3.9zM61.73 113.52h4.22v1.55h-4.22zM59.99 115.55h3.91v1.55h-3.91zM103.09 115.55h2.16v1.55h-2.16zM60.41 117.59h3.1v1.55h-3.1zM104.74 117.59h1.52v1.55h-1.52zM62.56 119.63h3.14v1.55h-3.14zM109.15 119.63h1.33v1.55h-1.33zM66.62 121.67h3.97v1.55h-3.97zM109.15 121.67h1.57v1.55h-1.57zM67.23 123.72h2.75v1.55h-2.75zM109.77 123.72h1.61v1.55h-1.61zM62.4 125.75h3.87v1.55h-3.87zM104.84 125.75h1.4v1.55h-1.4zM57.88 127.79h3.58v1.55h-3.58zM104.44 127.79h1.33v1.55h-1.33zM64.59 129.84h2.64v1.55h-2.64zM107.14 129.84h2.03v1.55h-2.03zM87.32 131.88h3.13v1.55h-3.13zM65.4 133.91h3.37v1.55h-3.37zM108.68 133.91h1.22v1.55h-1.22zM83.56 135.96h2.94v1.55h-2.94zM70.87 138h3.49v1.55h-3.49zM114.81 138h2.14v1.55h-2.14zM61 140.03h3.09v1.55h-3.09zM102.89 140.03h1.85v1.55h-1.85zM65.78 142.07h4.15v1.55h-4.15zM110.68 142.07h1.68v1.55h-1.68zM88.98 144.12h3.61v1.55h-3.61zM69.61 146.16h2.94v1.55h-2.94zM108.33 146.16h1.33v1.55h-1.33zM65.2 148.19h2.63v1.55h-2.63zM105.4 148.19h1.7v1.55h-1.7zM67.42 150.23h4.29v1.55h-4.29zM113.59 150.23h1.76v1.55h-1.76zM61.76 152.28h5.98v1.55h-5.98zM79.88 154.31h3.75v1.55h-3.75zM124.83 154.31h1.37v1.55h-1.37zM63.84 156.35h2.46v1.55h-2.46zM106.31 156.35h1.66v1.55h-1.66zM69.54 158.4h3.63v1.55h-3.63zM109.54 158.4h1.45v1.55h-1.45zM60.49 160.44h3.74v1.55h-3.74zM104.5 160.44h1.81v1.55h-1.81zM59.54 162.47h3.56v1.55h-3.56zM104.91 162.47h2.04v1.55h-2.04zM62.68 164.51h2.45v1.55h-2.45zM104.11 164.51h1.41v1.55h-1.41zM59.49 166.56h3.22v1.55h-3.22zM103.07 166.56h1.54v1.55h-1.54zM62.46 168.59h4.27v1.55h-4.27zM105.58 168.59h1.25v1.55h-1.25zM64.48 170.63h3.41v1.55h-3.41zM106.89 170.63h1.63v1.55h-1.63zM62.82 172.67h4.27v1.55h-4.27zM107.42 172.67h1.22v1.55h-1.22zM65.46 174.72h3.86v1.55h-3.86zM112.55 174.72h1.49v1.55h-1.49zM61.91 176.75h3.88v1.55h-3.88zM106.56 176.75h1.82v1.55h-1.82zM60.14 178.79h3.4v1.55h-3.4zM103.24 178.79h1.88v1.55h-1.88zM93.31 180.84h4.25v1.55h-4.25zM133.77 180.84h2.03v1.55h-2.03zM81.32 182.88h3.95v1.55h-3.95zM123.22 182.88h1.53v1.55h-1.53zM69.24 184.91h2.73v1.55h-2.73zM110.38 184.91h1.75v1.55h-1.75zM60.03 186.95h3.94v1.55h-3.94zM103.49 186.95h1.53v1.55h-1.53zM65.58 189h3.14v1.55h-3.14zM106.25 189h1.84v1.55h-1.84zM68.95 191.03h2.64v1.55h-2.64zM110.58 191.03h1.23v1.55h-1.23zM63.16 193.07h7.21v1.55h-7.21zM70.4 195.12h3.5v1.55h-3.5zM112.74 195.12h1.88v1.55h-1.88zM63.88 197.16h2.33v1.55h-2.33zM107.2 197.16h2.13v1.55h-2.13zM68.68 199.19h3.06v1.55h-3.06zM109.37 199.19h1.74v1.55h-1.74zM75.23 201.23h3.39v1.55h-3.39zM119.37 201.23h1.45v1.55h-1.45zM62.95 203.28h3.97v1.55h-3.97zM106.01 203.28h1.45v1.55h-1.45zM60.56 205.31h2.76v1.55h-2.76zM100.49 205.31h1.49v1.55h-1.49zM66.3 207.35h2.83v1.55h-2.83zM106.37 207.35h1.31v1.55h-1.31zM56.9 215.51h2.1v1.55h-2.1zM62.75 219.59h2.25v1.55h-2.25zM59.4 221.63h1.85v1.55h-1.85zM59 227.75h2.9v1.55h-2.9zM60 235.91h3.75v1.55h-3.75zM70.4 237.96h3.6v1.55h-3.6zM73.75 248.16h3.75v1.55h-3.75zM66.9 250.19h5.6v1.55h-5.6zM79 252.23h2v1.55h-2zM62.67 254.28h2.33v1.55h-2.33zM66.76 256.32h3.06v1.55h-3.06zM64.61 258.36h5.13v1.55h-5.13zM75.67 260.4h4.32v1.55h-4.32zM65.07 262.44h2.25v1.55h-2.25zM64.38 264.48h4.18v1.55h-4.18zM68.75 266.52h3.97v1.55h-3.97zM62.68 268.56h5.19v1.55h-5.19zM62.1 270.6h2.04v1.55h-2.04zM59.27 272.64h1.8v1.55h-1.8zM65.91 274.68h4.73v1.55h-4.73zM64.18 276.72h2.27v1.55h-2.27zM66.34 278.76h3.63v1.55h-3.63zM74.87 280.8h3.05v1.55h-3.05zM66.47 282.84h5.27v1.55h-5.27zM80 284.88h3.82v1.55h-3.82zM66.35 286.92h4.27v1.55h-4.27zM68.14 288.96h4.73v1.55h-4.73zM68.69 291h1.84v1.55h-1.84zM69.97 293.04h4.57v1.55h-4.57zM63.07 295.08h3.96v1.55h-3.96zM62.77 297.12h5.06v1.55h-5.06zM107.7 297.12h0.95v1.55h-0.95zM68.63 299.16h4.6v1.55h-4.6zM60.69 301.2h4.27v1.55h-4.27zM98.51 301.2h2.34v1.55h-2.34zM85.58 303.24h2.93v1.55h-2.93zM74.03 305.28h5.37v1.55h-5.37zM85.24 307.32h1.98v1.55h-1.98zM95.58 309.36h3.08v1.55h-3.08zM116.93 313.44h1.73v1.55h-1.73zM112.42 317.52h2.62v1.55h-2.62zM68.48 319.56h3.18v1.55h-3.18zM110.96 319.56h1.35v1.55h-1.35zM87.51 321.6h1.94v1.55h-1.94zM64.75 323.64h2.86v1.55h-2.86zM105.47 323.64h1.15v1.55h-1.15zM86.99 325.68h3v1.55h-3zM67 327.72h5.68v1.55h-5.68zM112.16 327.72h2.25v1.55h-2.25zM68.5 329.76h3.12v1.55h-3.12zM112.45 329.76h0.81v1.55h-0.81zM81.95 331.8h7.64v1.55h-7.64zM128.67 331.8h0.44v1.55h-0.44zM72.03 333.84h3.59v1.55h-3.59zM112.55 333.84h2.22v1.55h-2.22zM91.73 335.88h6.88v1.55h-6.88zM73.17 337.92h3.04v1.55h-3.04zM116.68 337.92h1.11v1.55h-1.11zM71.2 339.96h4.35v1.55h-4.35zM117.55 339.96h2.44v1.55h-2.44zM87.79 342h4.22v1.55h-4.22zM85.29 344.04h5.78v1.55h-5.78zM75.66 346.08h4.8v1.55h-4.8zM118.94 346.08h1.86v1.55h-1.86zM84.52 348.12h7.56v1.55h-7.56zM75.31 350.16h6.75v1.55h-6.75zM125.28 350.16h1.69v1.55h-1.69zM75.26 352.2h5.91v1.55h-5.91zM124.42 352.2h1.67v1.55h-1.67zM79.35 354.24h6.31v1.55h-6.31zM125.1 354.24h2.31v1.55h-2.31zM87.29 356.28h5.46v1.55h-5.46zM132.67 356.28h2.28v1.55h-2.28zM82.03 358.32h6.73v1.55h-6.73zM136.04 358.32h0.8v1.55h-0.8zM59.93 360.36h1.67v1.55h-1.67zM97.74 360.36h1.15v1.55h-1.15zM133.14 360.36h1.77v1.55h-1.77z"/>
<path fill="#ff8212" stroke="#000" stroke-width="0.07" d="M61.9 31.91h1.2v1.55h-1.2zM60.6 35.99h2.3v1.55h-2.3zM64.4 44.16h3.7v1.55h-3.7zM67.76 46.2h3.18v1.55h-3.18zM65.46 48.23h3.71v1.55h-3.71zM69.42 50.27h2.85v1.55h-2.85zM67.84 52.32h4.13v1.55h-4.13zM67.71 54.36h4v1.55h-4zM66.02 56.4h3.22v1.55h-3.22zM67.26 58.44h2.52v1.55h-2.52zM71.81 60.48h3.93v1.55h-3.93zM70.27 62.52h3v1.55h-3zM72.31 64.55h4.1v1.55h-4.1zM69.82 66.59h3.89v1.55h-3.89zM68.82 68.63h2.61v1.55h-2.61zM65.07 70.67h2.9v1.55h-2.9zM69.1 72.72h2.9v1.55h-2.9zM62.3 74.75h3.42v1.55h-3.42zM66.4 76.8h3.61v1.55h-3.61zM78.17 78.83h3.26v1.55h-3.26zM77.74 80.88h2.6v1.55h-2.6zM71.14 82.91h3.8v1.55h-3.8zM64.54 84.95h2.81v1.55h-2.81zM67.14 86.99h3.21v1.55h-3.21zM61.84 89.03h3.7v1.55h-3.7zM65.41 91.07h3.57v1.55h-3.57zM66.18 93.11h3.48v1.55h-3.48zM80.27 95.16h2.82v1.55h-2.82zM65.52 97.19h2.55v1.55h-2.55zM68.18 99.23h3.76v1.55h-3.76zM60.5 101.27h2.85v1.55h-2.85zM70.84 103.31h2.9v1.55h-2.9zM64.21 105.35h3.98v1.55h-3.98zM74.35 107.39h4.01v1.55h-4.01zM75.34 109.44h2.69v1.55h-2.69zM69.45 111.47h2.63v1.55h-2.63zM65.96 113.52h2.68v1.55h-2.68zM63.9 115.55h3.36v1.55h-3.36zM105.25 115.55h2.26v1.55h-2.26zM63.51 117.59h3.67v1.55h-3.67zM106.26 117.59h2.06v1.55h-2.06zM65.71 119.63h3.88v1.55h-3.88zM110.47 119.63h1.28v1.55h-1.28zM70.6 121.67h2.12v1.55h-2.12zM69.98 123.72h3.95v1.55h-3.95zM111.38 123.72h2.12v1.55h-2.12zM66.28 125.75h2.17v1.55h-2.17zM106.24 125.75h1.58v1.55h-1.58zM61.45 127.79h2.79v1.55h-2.79zM105.77 127.79h1.72v1.55h-1.72zM67.23 129.84h2.87v1.55h-2.87zM109.16 129.84h1.5v1.55h-1.5zM90.45 131.88h3.97v1.55h-3.97zM68.78 133.91h2.43v1.55h-2.43zM109.9 133.91h1.72v1.55h-1.72zM86.5 135.96h3.88v1.55h-3.88zM74.36 138h3.83v1.55h-3.83zM116.95 138h1.88v1.55h-1.88zM64.1 140.03h2.32v1.55h-2.32zM104.75 140.03h1.71v1.55h-1.71zM69.92 142.07h3.3v1.55h-3.3zM112.36 142.07h1.46v1.55h-1.46zM92.58 144.12h2.75v1.55h-2.75zM72.54 146.16h2.08v1.55h-2.08zM109.66 146.16h2.19v1.55h-2.19zM67.83 148.19h2.07v1.55h-2.07zM107.11 148.19h1.77v1.55h-1.77zM71.71 150.23h2.62v1.55h-2.62zM115.35 150.23h1.2v1.55h-1.2zM67.73 152.28h9.39v1.55h-9.39zM83.63 154.31h3.6v1.55h-3.6zM126.2 154.31h2.2v1.55h-2.2zM66.29 156.35h3.7v1.55h-3.7zM107.97 156.35h2.02v1.55h-2.02zM73.17 158.4h2.42v1.55h-2.42zM110.99 158.4h2.1v1.55h-2.1zM64.23 160.44h3.21v1.55h-3.21zM106.31 160.44h1.77v1.55h-1.77zM63.1 162.47h3.29v1.55h-3.29zM106.95 162.47h1.63v1.55h-1.63zM65.13 164.51h3.7v1.55h-3.7zM105.52 164.51h1.62v1.55h-1.62zM62.71 166.56h2.31v1.55h-2.31zM104.62 166.56h2.24v1.55h-2.24zM66.73 168.59h3.64v1.55h-3.64zM106.83 168.59h1.73v1.55h-1.73zM67.89 170.63h2.51v1.55h-2.51zM108.52 170.63h1.3v1.55h-1.3zM67.09 172.67h3.6v1.55h-3.6zM108.64 172.67h1.25v1.55h-1.25zM69.32 174.72h3.75v1.55h-3.75zM114.04 174.72h1.19v1.55h-1.19zM65.79 176.75h2.39v1.55h-2.39zM108.39 176.75h1.39v1.55h-1.39zM63.54 178.79h3.09v1.55h-3.09zM105.12 178.79h2.18v1.55h-2.18zM97.56 180.84h2.12v1.55h-2.12zM85.28 182.88h3.16v1.55h-3.16zM124.76 182.88h2.16v1.55h-2.16zM71.97 184.91h2.44v1.55h-2.44zM112.13 184.91h1.44v1.55h-1.44zM63.98 186.95h3.57v1.55h-3.57zM105.02 186.95h1.95v1.55h-1.95zM68.71 189h2.64v1.55h-2.64zM108.09 189h1.23v1.55h-1.23zM71.6 191.03h3.21v1.55h-3.21zM111.81 191.03h1.31v1.55h-1.31zM70.38 193.07h9.54v1.55h-9.54zM73.9 195.12h3.13v1.55h-3.13zM114.63 195.12h1.2v1.55h-1.2zM66.21 197.16h3.01v1.55h-3.01zM109.34 197.16h2.22v1.55h-2.22zM71.74 199.19h2.1v1.55h-2.1zM111.11 199.19h1.34v1.55h-1.34zM78.63 201.23h2.61v1.55h-2.61zM120.82 201.23h1.61v1.55h-1.61zM66.92 203.28h2.58v1.55h-2.58zM107.46 203.28h1.58v1.55h-1.58zM63.33 205.31h3.36v1.55h-3.36zM101.98 205.31h1.62v1.55h-1.62zM69.13 207.35h2.65v1.55h-2.65zM107.68 207.35h2.04v1.55h-2.04zM65 219.59h1.9v1.55h-1.9zM61.25 221.63h1.85v1.55h-1.85zM61.9 227.75h2.1v1.55h-2.1zM63.75 235.91h3.75v1.55h-3.75zM77.5 248.16h3.4v1.55h-3.4zM72.5 250.19h6.25v1.55h-6.25zM81 252.23h1.5v1.55h-1.5zM65 254.28h3v1.55h-3zM69.82 256.32h1.85v1.55h-1.85zM69.75 258.36h2.1v1.55h-2.1zM80 260.4h4.5v1.55h-4.5zM67.32 262.44h3.62v1.55h-3.62zM68.56 264.48h4.24v1.55h-4.24zM72.72 266.52h2.52v1.55h-2.52zM67.87 268.56h2.72v1.55h-2.72zM64.14 270.6h2.88v1.55h-2.88zM61.07 272.64h3.49v1.55h-3.49zM70.65 274.68h2.7v1.55h-2.7zM66.45 276.72h4.4v1.55h-4.4zM69.97 278.76h2.73v1.55h-2.73zM77.92 280.8h3.42v1.55h-3.42zM71.73 282.84h2.66v1.55h-2.66zM83.83 284.88h2.54v1.55h-2.54zM70.62 286.92h3.9v1.55h-3.9zM72.87 288.96h3.43v1.55h-3.43zM70.52 291h2.58v1.55h-2.58zM74.54 293.04h4.73v1.55h-4.73zM67.03 295.08h3.95v1.55h-3.95zM67.83 297.12h2.77v1.55h-2.77zM108.64 297.12h0.76v1.55h-0.76zM73.24 299.16h4.32v1.55h-4.32zM64.96 301.2h1.67v1.55h-1.67zM100.86 301.2h1.39v1.55h-1.39zM88.52 303.24h1.69v1.55h-1.69zM79.4 305.28h4.24v1.55h-4.24zM87.21 307.32h4.73v1.55h-4.73zM98.65 309.36h2.22v1.55h-2.22zM115.04 317.52h4.32v1.55h-4.32zM71.66 319.56h2.9v1.55h-2.9zM112.31 319.56h1.45v1.55h-1.45zM89.45 321.6h3.8v1.55h-3.8zM67.61 323.64h1.98v1.55h-1.98zM106.63 323.64h2.43v1.55h-2.43zM89.99 325.68h5.38v1.55h-5.38zM72.68 327.72h2.85v1.55h-2.85zM114.41 327.72h1.8v1.55h-1.8zM71.62 329.76h5.57v1.55h-5.57zM113.26 329.76h1.88v1.55h-1.88zM89.59 331.8h4.15v1.55h-4.15zM75.62 333.84h1.83v1.55h-1.83zM114.77 333.84h2.12v1.55h-2.12zM98.61 335.88h2.29v1.55h-2.29zM76.21 337.92h2.89v1.55h-2.89zM117.79 337.92h1.26v1.55h-1.26zM75.55 339.96h2.43v1.55h-2.43zM119.99 339.96h0.9v1.55h-0.9zM92.02 342h5.54v1.55h-5.54zM91.06 344.04h6.29v1.55h-6.29zM80.46 346.08h2.92v1.55h-2.92zM120.8 346.08h1.96v1.55h-1.96zM92.07 348.12h7.31v1.55h-7.31zM82.06 350.16h7.05v1.55h-7.05zM126.97 350.16h1.19v1.55h-1.19zM81.17 352.2h5.09v1.55h-5.09zM126.09 352.2h1.54v1.55h-1.54zM85.66 354.24h4.18v1.55h-4.18zM127.41 354.24h2.44v1.55h-2.44zM92.75 356.28h2.94v1.55h-2.94zM134.95 356.28h0.96v1.55h-0.96zM88.76 358.32h6.39v1.55h-6.39zM136.84 358.32h0.43v1.55h-0.43zM61.6 360.36h2.16v1.55h-2.16zM98.89 360.36h1.11v1.55h-1.11zM134.91 360.36h1.36v1.55h-1.36z"/>
<path fill="#000000" stroke="#000" stroke-width="0.07" d="M63.1 31.91h1.9v1.55h-1.9zM62.9 35.99h2.1v1.55h-2.1zM68.1 44.16h4.65v1.55h-4.65zM70.93 46.2h1.63v1.55h-1.63zM69.16 48.23h2.61v1.55h-2.61zM71.96 52.32h1.52v1.55h-1.52zM71.71 54.36h2.71v1.55h-2.71zM69.24 56.4h2.37v1.55h-2.37zM69.79 58.44h2.38v1.55h-2.38zM75.74 60.48h0.62v1.55h-0.62zM73.27 62.52h2.93v1.55h-2.93zM76.41 64.55h1.99v1.55h-1.99zM73.71 66.59h3.86v1.55h-3.86zM71.43 68.63h3.77v1.55h-3.77zM67.97 70.67h2.44v1.55h-2.44zM72 72.72h2.08v1.55h-2.08zM65.72 74.75h3.66v1.55h-3.66zM70.01 76.8h2.86v1.55h-2.86zM81.43 78.83h2.25v1.55h-2.25zM80.34 80.88h2.91v1.55h-2.91zM74.94 82.91h3.59v1.55h-3.59zM67.35 84.95h2.93v1.55h-2.93zM70.36 86.99h2.85v1.55h-2.85zM65.54 89.03h3.6v1.55h-3.6zM68.98 91.07h2.02v1.55h-2.02zM69.66 93.11h3.67v1.55h-3.67zM83.09 95.16h2.96v1.55h-2.96zM68.07 97.19h2.77v1.55h-2.77zM71.94 99.23h3.22v1.55h-3.22zM63.36 101.27h2.55v1.55h-2.55zM73.73 103.31h2.54v1.55h-2.54zM68.2 105.35h3.09v1.55h-3.09zM78.36 107.39h2.82v1.55h-2.82zM78.03 109.44h2.86v1.55h-2.86zM72.08 111.47h2.58v1.55h-2.58zM68.64 113.52h2.59v1.55h-2.59zM67.26 115.55h2.44v1.55h-2.44zM67.18 117.59h2.29v1.55h-2.29zM108.33 117.59h1.21v1.55h-1.21zM69.59 119.63h3.36v1.55h-3.36zM72.71 121.67h2.86v1.55h-2.86zM73.93 123.72h2.46v1.55h-2.46zM68.44 125.75h3.06v1.55h-3.06zM107.82 125.75h2.15v1.55h-2.15zM64.24 127.79h2.49v1.55h-2.49zM107.49 127.79h1.2v1.55h-1.2zM70.11 129.84h3.02v1.55h-3.02zM110.67 129.84h1.49v1.55h-1.49zM94.42 131.88h2.77v1.55h-2.77zM71.2 133.91h2.93v1.55h-2.93zM111.62 133.91h1.71v1.55h-1.71zM90.39 135.96h2.43v1.55h-2.43zM78.19 138h3.15v1.55h-3.15zM118.83 138h2.11v1.55h-2.11zM66.41 140.03h2.31v1.55h-2.31zM106.46 140.03h1.44v1.55h-1.44zM73.23 142.07h3.22v1.55h-3.22zM113.82 142.07h2.22v1.55h-2.22zM95.33 144.12h3.36v1.55h-3.36zM74.62 146.16h1.93v1.55h-1.93zM111.86 146.16h1.45v1.55h-1.45zM69.9 148.19h1.98v1.55h-1.98zM108.87 148.19h1.59v1.55h-1.59zM74.33 150.23h3.43v1.55h-3.43zM116.55 150.23h1.22v1.55h-1.22zM77.12 152.28h6.65v1.55h-6.65zM87.23 154.31h2.82v1.55h-2.82zM128.39 154.31h2.01v1.55h-2.01zM70 156.35h1.9v1.55h-1.9zM109.99 156.35h1.81v1.55h-1.81zM75.58 158.4h2.1v1.55h-2.1zM113.09 158.4h1.94v1.55h-1.94zM67.44 160.44h2.27v1.55h-2.27zM108.08 160.44h1.96v1.55h-1.96zM66.4 162.47h2.81v1.55h-2.81zM108.59 162.47h2.26v1.55h-2.26zM68.82 164.51h2.09v1.55h-2.09zM107.14 164.51h1.76v1.55h-1.76zM65.02 166.56h2.65v1.55h-2.65zM106.86 166.56h1.74v1.55h-1.74zM70.37 168.59h2.4v1.55h-2.4zM108.56 168.59h1.77v1.55h-1.77zM70.4 170.63h2.33v1.55h-2.33zM70.69 172.67h2.18v1.55h-2.18zM109.9 172.67h2.14v1.55h-2.14zM73.07 174.72h3.11v1.55h-3.11zM115.24 174.72h1.47v1.55h-1.47zM68.18 176.75h3.05v1.55h-3.05zM109.78 176.75h1.4v1.55h-1.4zM66.63 178.79h2.16v1.55h-2.16zM107.29 178.79h1.95v1.55h-1.95zM99.68 180.84h2.05v1.55h-2.05zM88.43 182.88h2.54v1.55h-2.54zM126.91 182.88h1.31v1.55h-1.31zM74.41 184.91h2.44v1.55h-2.44zM113.57 184.91h1.38v1.55h-1.38zM67.55 186.95h2.6v1.55h-2.6zM106.97 186.95h1.6v1.55h-1.6zM71.35 189h1.95v1.55h-1.95zM109.32 189h2.23v1.55h-2.23zM74.8 191.03h2.15v1.55h-2.15zM113.12 191.03h1.56v1.55h-1.56zM79.92 193.07h4.61v1.55h-4.61zM77.03 195.12h2.91v1.55h-2.91zM115.82 195.12h1.99v1.55h-1.99zM69.22 197.16h2.58v1.55h-2.58zM111.56 197.16h1.71v1.55h-1.71zM73.84 199.19h2.68v1.55h-2.68zM112.45 199.19h1.4v1.55h-1.4zM81.24 201.23h2.49v1.55h-2.49zM122.43 201.23h1.96v1.55h-1.96zM69.5 203.28h2.8v1.55h-2.8zM109.05 203.28h1.42v1.55h-1.42zM66.68 205.31h2.38v1.55h-2.38zM103.6 205.31h2.16v1.55h-2.16zM71.78 207.35h1.82v1.55h-1.82zM109.72 207.35h1.42v1.55h-1.42zM64 227.75h4.1v1.55h-4.1zM67.5 235.91h3.75v1.55h-3.75zM82.5 252.23h1.25v1.55h-1.25zM68.01 254.28h3.03v1.55h-3.03zM71.67 256.32h2.21v1.55h-2.21zM71.85 258.36h3.65v1.55h-3.65zM84.49 260.4h3.44v1.55h-3.44zM70.94 262.44h2.54v1.55h-2.54zM72.8 264.48h4v1.55h-4zM75.24 266.52h3.04v1.55h-3.04zM70.6 268.56h2.08v1.55h-2.08zM67.02 270.6h1.59v1.55h-1.59zM64.56 272.64h2v1.55h-2zM73.35 274.68h2.41v1.55h-2.41zM70.85 276.72h2.94v1.55h-2.94zM72.7 278.76h2.91v1.55h-2.91zM81.34 280.8h3.07v1.55h-3.07zM74.4 282.84h2.43v1.55h-2.43zM86.36 284.88h1.87v1.55h-1.87zM74.52 286.92h4.05v1.55h-4.05zM76.3 288.96h3.46v1.55h-3.46zM73.11 291h3.28v1.55h-3.28zM79.28 293.04h2.69v1.55h-2.69zM70.99 295.08h4v1.55h-4zM70.6 297.12h3.28v1.55h-3.28zM77.56 299.16h3.51v1.55h-3.51zM66.63 301.2h2.84v1.55h-2.84zM102.25 301.2h1.16v1.55h-1.16zM90.2 303.24h2.7v1.55h-2.7zM83.64 305.28h3.3v1.55h-3.3zM91.94 307.32h2.15v1.55h-2.15zM100.87 309.36h1.87v1.55h-1.87zM119.35 317.52h1.76v1.55h-1.76zM74.56 319.56h4.09v1.55h-4.09zM113.77 319.56h1.57v1.55h-1.57zM93.25 321.6h2.59v1.55h-2.59zM69.59 323.64h1.98v1.55h-1.98zM109.06 323.64h1.83v1.55h-1.83zM95.38 325.68h2.11v1.55h-2.11zM75.53 327.72h3.33v1.55h-3.33zM116.21 327.72h1.71v1.55h-1.71zM77.19 329.76h4.38v1.55h-4.38zM115.14 329.76h2.21v1.55h-2.21zM93.74 331.8h4.36v1.55h-4.36zM77.45 333.84h1.87v1.55h-1.87zM116.89 333.84h0.96v1.55h-0.96zM100.9 335.88h4.47v1.55h-4.47zM79.1 337.92h5.08v1.55h-5.08zM119.05 337.92h2.41v1.55h-2.41zM77.98 339.96h3.46v1.55h-3.46zM120.88 339.96h2.2v1.55h-2.2zM97.56 342h6.07v1.55h-6.07zM97.35 344.04h4.36v1.55h-4.36zM83.38 346.08h3.38v1.55h-3.38zM122.77 346.08h2.1v1.55h-2.1zM99.38 348.12h2.27v1.55h-2.27zM89.12 350.16h2.29v1.55h-2.29zM128.15 350.16h1.74v1.55h-1.74zM86.26 352.2h2.69v1.55h-2.69zM127.63 352.2h1.13v1.55h-1.13zM89.84 354.24h3.41v1.55h-3.41zM129.85 354.24h2.23v1.55h-2.23zM95.69 356.28h2.25v1.55h-2.25zM95.14 358.32h5.6v1.55h-5.6zM63.76 360.36h1.88v1.55h-1.88zM100 360.36h1.65v1.55h-1.65zM136.27 360.36h1.12v1.55h-1.12z"/>
<path fill="#a0661e" stroke="#000" stroke-width="0.07" d="M65 31.91h0.9v1.55h-0.9zM65 35.99h1.6v1.55h-1.6zM71.78 48.23h1.78v1.55h-1.78zM74.42 54.36h1.13v1.55h-1.13zM71.6 56.4h2.59v1.55h-2.59zM72.17 58.44h2.3v1.55h-2.3zM76.2 62.52h1.48v1.55h-1.48zM77.57 66.59h2.14v1.55h-2.14zM75.2 68.63h2.49v1.55h-2.49zM70.41 70.67h2.78v1.55h-2.78zM74.07 72.72h1.91v1.55h-1.91zM69.38 74.75h3.27v1.55h-3.27zM72.87 76.8h3.1v1.55h-3.1zM83.68 78.83h1.88v1.55h-1.88zM83.26 80.88h3.12v1.55h-3.12zM78.53 82.91h2.06v1.55h-2.06zM70.28 84.95h2.76v1.55h-2.76zM73.21 86.99h3.39v1.55h-3.39zM69.14 89.03h2.08v1.55h-2.08zM71 91.07h2.73v1.55h-2.73zM73.33 93.11h2.48v1.55h-2.48zM86.05 95.16h3.33v1.55h-3.33zM70.84 97.19h2.9v1.55h-2.9zM75.17 99.23h2.84v1.55h-2.84zM65.9 101.27h3.4v1.55h-3.4zM76.27 103.31h3.39v1.55h-3.39zM71.29 105.35h1.93v1.55h-1.93zM81.18 107.39h2.4v1.55h-2.4zM80.89 109.44h2.53v1.55h-2.53zM74.66 111.47h2.74v1.55h-2.74zM71.23 113.52h2.4v1.55h-2.4zM69.69 115.55h1.84v1.55h-1.84zM69.46 117.59h1.79v1.55h-1.79zM72.95 119.63h3.11v1.55h-3.11zM75.57 121.67h3.33v1.55h-3.33zM76.39 123.72h3.04v1.55h-3.04zM71.51 125.75h2.34v1.55h-2.34zM109.97 125.75h1.22v1.55h-1.22zM66.73 127.79h3.23v1.55h-3.23zM108.69 127.79h2.19v1.55h-2.19zM73.13 129.84h2.49v1.55h-2.49zM112.16 129.84h1.48v1.55h-1.48zM97.2 131.88h2.09v1.55h-2.09zM74.14 133.91h2.93v1.55h-2.93zM113.33 133.91h1.63v1.55h-1.63zM92.82 135.96h2.6v1.55h-2.6zM81.33 138h1.98v1.55h-1.98zM120.94 138h1.86v1.55h-1.86zM68.72 140.03h2.83v1.55h-2.83zM107.9 140.03h2.01v1.55h-2.01zM76.44 142.07h1.75v1.55h-1.75zM116.05 142.07h1.7v1.55h-1.7zM98.69 144.12h2.55v1.55h-2.55zM76.56 146.16h1.93v1.55h-1.93zM113.31 146.16h1.35v1.55h-1.35zM71.88 148.19h1.73v1.55h-1.73zM110.46 148.19h1.66v1.55h-1.66zM77.76 150.23h3.05v1.55h-3.05zM117.77 150.23h2.21v1.55h-2.21zM83.77 152.28h6.28v1.55h-6.28zM90.05 154.31h2.11v1.55h-2.11zM130.4 154.31h0.57v1.55h-0.57zM71.9 156.35h1.99v1.55h-1.99zM111.8 156.35h1.33v1.55h-1.33zM77.69 158.4h1.89v1.55h-1.89zM115.03 158.4h1.82v1.55h-1.82zM69.71 160.44h2.3v1.55h-2.3zM110.03 160.44h1.74v1.55h-1.74zM69.2 162.47h1.83v1.55h-1.83zM110.84 162.47h2v1.55h-2zM70.92 164.51h2.11v1.55h-2.11zM108.91 164.51h1.84v1.55h-1.84zM67.67 166.56h2.4v1.55h-2.4zM108.59 166.56h1.71v1.55h-1.71zM72.77 168.59h1.95v1.55h-1.95zM110.33 168.59h1.59v1.55h-1.59zM72.72 170.63h2.27v1.55h-2.27zM72.87 172.67h1.82v1.55h-1.82zM112.04 172.67h1.93v1.55h-1.93zM76.18 174.72h2.47v1.55h-2.47zM116.71 174.72h1.64v1.55h-1.64zM71.22 176.75h3v1.55h-3zM111.17 176.75h1.38v1.55h-1.38zM68.79 178.79h2.98v1.55h-2.98zM109.24 178.79h1.29v1.55h-1.29zM101.72 180.84h2.73v1.55h-2.73zM90.97 182.88h2.11v1.55h-2.11zM128.23 182.88h2.24v1.55h-2.24zM76.85 184.91h2.22v1.55h-2.22zM114.94 184.91h1.83v1.55h-1.83zM70.15 186.95h1.63v1.55h-1.63zM108.57 186.95h1.99v1.55h-1.99zM73.3 189h1.86v1.55h-1.86zM111.55 189h1.25v1.55h-1.25zM76.96 191.03h2.21v1.55h-2.21zM114.68 191.03h1.37v1.55h-1.37zM84.53 193.07h5.52v1.55h-5.52zM79.94 195.12h2.19v1.55h-2.19zM117.81 195.12h2.25v1.55h-2.25zM71.79 197.16h2.9v1.55h-2.9zM113.27 197.16h1.66v1.55h-1.66zM76.52 199.19h1.74v1.55h-1.74zM113.85 199.19h1.83v1.55h-1.83zM83.73 201.23h2.13v1.55h-2.13zM124.39 201.23h1.43v1.55h-1.43zM72.3 203.28h2.94v1.55h-2.94zM110.47 203.28h1.62v1.55h-1.62zM69.06 205.31h2.5v1.55h-2.5zM105.76 205.31h2.02v1.55h-2.02zM73.6 207.35h2.01v1.55h-2.01zM111.13 207.35h2.17v1.55h-2.17zM71.25 235.91h1.85v1.55h-1.85zM71.04 254.28h1.98v1.55h-1.98zM73.88 256.32h2.81v1.55h-2.81zM75.5 258.36h3.37v1.55h-3.37zM73.48 262.44h3.75v1.55h-3.75zM76.8 264.48h1.65v1.55h-1.65zM78.28 266.52h3.69v1.55h-3.69zM72.67 268.56h2.37v1.55h-2.37zM68.61 270.6h2.36v1.55h-2.36zM66.56 272.64h2v1.55h-2zM75.76 274.68h2.07v1.55h-2.07zM73.79 276.72h3.01v1.55h-3.01zM75.61 278.76h2.03v1.55h-2.03zM84.42 280.8h1.59v1.55h-1.59zM76.83 282.84h3.43v1.55h-3.43zM88.23 284.88h1.4v1.55h-1.4zM78.57 286.92h3.39v1.55h-3.39zM79.76 288.96h1.24v1.55h-1.24zM76.38 291h2.04v1.55h-2.04zM81.97 293.04h1.95v1.55h-1.95zM74.99 295.08h3.48v1.55h-3.48zM73.89 297.12h3.45v1.55h-3.45zM81.08 299.16h1.35v1.55h-1.35zM69.48 301.2h1.83v1.55h-1.83zM103.41 301.2h2.43v1.55h-2.43zM92.9 303.24h1.96v1.55h-1.96zM86.94 305.28h1.45v1.55h-1.45zM94.09 307.32h2.93v1.55h-2.93zM102.74 309.36h2.17v1.55h-2.17zM121.11 317.52h1.02v1.55h-1.02zM78.66 319.56h2.89v1.55h-2.89zM115.34 319.56h0.95v1.55h-0.95zM95.85 321.6h2.73v1.55h-2.73zM71.57 323.64h2.91v1.55h-2.91zM110.89 323.64h1.48v1.55h-1.48zM97.48 325.68h1.43v1.55h-1.43zM78.85 327.72h1.48v1.55h-1.48zM117.92 327.72h0.95v1.55h-0.95zM81.57 329.76h3.27v1.55h-3.27zM117.35 329.76h1.31v1.55h-1.31zM98.11 331.8h2.88v1.55h-2.88zM79.33 333.84h2.52v1.55h-2.52zM117.84 333.84h2.01v1.55h-2.01zM105.37 335.88h3.13v1.55h-3.13zM84.18 337.92h2.82v1.55h-2.82zM121.46 337.92h1.41v1.55h-1.41zM81.44 339.96h3.6v1.55h-3.6zM123.09 339.96h1.95v1.55h-1.95zM103.62 342h3.67v1.55h-3.67zM101.71 344.04h2.33v1.55h-2.33zM86.76 346.08h1.8v1.55h-1.8zM124.87 346.08h1.46v1.55h-1.46zM101.65 348.12h1.6v1.55h-1.6zM91.41 350.16h1.65v1.55h-1.65zM129.89 350.16h2.18v1.55h-2.18zM88.95 352.2h4.11v1.55h-4.11zM128.76 352.2h1.98v1.55h-1.98zM93.25 354.24h2.91v1.55h-2.91zM132.08 354.24h1.69v1.55h-1.69zM97.94 356.28h3.69v1.55h-3.69zM100.74 358.32h3.64v1.55h-3.64zM65.64 360.36h1.34v1.55h-1.34zM101.65 360.36h2.21v1.55h-2.21zM137.4 360.36h0.93v1.55h-0.93z"/>
<path fill="#0a0a8c" stroke="#000" stroke-width="0.07" d="M66.6 35.99h1.15v1.55h-1.15zM74.2 56.4h1.31v1.55h-1.31zM74.46 58.44h2.13v1.55h-2.13zM77.69 68.63h1.53v1.55h-1.53zM73.19 70.67h2.51v1.55h-2.51zM75.99 72.72h2.15v1.55h-2.15zM72.65 74.75h2.46v1.55h-2.46zM75.97 76.8h1.84v1.55h-1.84zM85.56 78.83h0.88v1.55h-0.88zM86.37 80.88h0.9v1.55h-0.9zM80.59 82.91h1.93v1.55h-1.93zM73.04 84.95h2.88v1.55h-2.88zM76.6 86.99h2.74v1.55h-2.74zM71.22 89.03h2.76v1.55h-2.76zM73.73 91.07h2.34v1.55h-2.34zM75.81 93.11h2.47v1.55h-2.47zM89.38 95.16h2.06v1.55h-2.06zM73.74 97.19h2.06v1.55h-2.06zM78 99.23h2.25v1.55h-2.25zM69.3 101.27h2.13v1.55h-2.13zM79.66 103.31h1.86v1.55h-1.86zM73.21 105.35h1.7v1.55h-1.7zM83.59 107.39h2.34v1.55h-2.34zM83.41 109.44h2.31v1.55h-2.31zM77.4 111.47h2.54v1.55h-2.54zM73.63 113.52h3.07v1.55h-3.07zM71.54 115.55h2.96v1.55h-2.96zM71.25 117.59h2.87v1.55h-2.87zM76.06 119.63h3v1.55h-3zM78.9 121.67h2v1.55h-2zM79.43 123.72h1.92v1.55h-1.92zM73.84 125.75h2.12v1.55h-2.12zM111.19 125.75h1.63v1.55h-1.63zM69.97 127.79h1.64v1.55h-1.64zM110.88 127.79h1.51v1.55h-1.51zM75.62 129.84h2.35v1.55h-2.35zM113.63 129.84h1.46v1.55h-1.46zM99.29 131.88h2.71v1.55h-2.71zM77.07 133.91h2.5v1.55h-2.5zM114.96 133.91h2.04v1.55h-2.04zM95.42 135.96h2.06v1.55h-2.06zM83.32 138h2.04v1.55h-2.04zM71.55 140.03h2.8v1.55h-2.8zM109.91 140.03h2.03v1.55h-2.03zM78.19 142.07h1.64v1.55h-1.64zM117.75 142.07h1.82v1.55h-1.82zM101.25 144.12h2.35v1.55h-2.35zM78.48 146.16h2.39v1.55h-2.39zM114.66 146.16h1.29v1.55h-1.29zM73.61 148.19h1.79v1.55h-1.79zM112.12 148.19h2.17v1.55h-2.17zM80.81 150.23h1.64v1.55h-1.64zM119.98 150.23h1.44v1.55h-1.44zM90.04 152.28h11.34v1.55h-11.34zM92.17 154.31h2.11v1.55h-2.11zM73.88 156.35h1.87v1.55h-1.87zM113.13 156.35h1.68v1.55h-1.68zM79.58 158.4h1.92v1.55h-1.92zM116.85 158.4h1.88v1.55h-1.88zM72.01 160.44h2.12v1.55h-2.12zM111.77 160.44h1.87v1.55h-1.87zM71.03 162.47h1.91v1.55h-1.91zM112.85 162.47h1.89v1.55h-1.89zM73.03 164.51h2.01v1.55h-2.01zM110.75 164.51h1.93v1.55h-1.93zM70.07 166.56h2.21v1.55h-2.21zM110.3 166.56h2.15v1.55h-2.15zM74.72 168.59h2.14v1.55h-2.14zM111.92 168.59h1.35v1.55h-1.35zM74.99 170.63h1.9v1.55h-1.9zM74.69 172.67h2.1v1.55h-2.1zM113.96 172.67h1.85v1.55h-1.85zM78.65 174.72h1.86v1.55h-1.86zM118.35 174.72h1.82v1.55h-1.82zM74.22 176.75h1.77v1.55h-1.77zM112.56 176.75h1.94v1.55h-1.94zM71.78 178.79h1.83v1.55h-1.83zM110.53 178.79h1.53v1.55h-1.53zM104.45 180.84h2.69v1.55h-2.69zM93.09 182.88h2.53v1.55h-2.53zM130.46 182.88h1.25v1.55h-1.25zM79.07 184.91h1.66v1.55h-1.66zM116.78 184.91h2.08v1.55h-2.08zM71.78 186.95h2.62v1.55h-2.62zM110.56 186.95h1.26v1.55h-1.26zM75.16 189h1.79v1.55h-1.79zM112.79 189h1.58v1.55h-1.58zM79.17 191.03h1.94v1.55h-1.94zM116.05 191.03h1.25v1.55h-1.25zM90.05 193.07h11.3v1.55h-11.3zM82.13 195.12h1.56v1.55h-1.56zM120.06 195.12h1.6v1.55h-1.6zM74.7 197.16h2.41v1.55h-2.41zM114.93 197.16h1.86v1.55h-1.86zM78.25 199.19h2.14v1.55h-2.14zM115.69 199.19h1.35v1.55h-1.35zM85.86 201.23h1.48v1.55h-1.48zM125.82 201.23h1.52v1.55h-1.52zM75.24 203.28h1.94v1.55h-1.94zM112.09 203.28h1.86v1.55h-1.86zM71.56 205.31h2.12v1.55h-2.12zM107.78 205.31h2.14v1.55h-2.14zM75.61 207.35h2.2v1.55h-2.2zM113.3 207.35h1.99v1.55h-1.99zM73.01 254.28h2.37v1.55h-2.37zM76.69 256.32h2.77v1.55h-2.77zM78.87 258.36h2.8v1.55h-2.8zM77.24 262.44h3.05v1.55h-3.05zM78.46 264.48h1.77v1.55h-1.77zM81.96 266.52h2.2v1.55h-2.2zM75.04 268.56h1.69v1.55h-1.69zM70.98 270.6h3.08v1.55h-3.08zM68.56 272.64h2.72v1.55h-2.72zM77.83 274.68h2.48v1.55h-2.48zM76.8 276.72h2.95v1.55h-2.95zM77.64 278.76h1.39v1.55h-1.39zM86 280.8h2.7v1.55h-2.7zM80.26 282.84h1.66v1.55h-1.66zM89.63 284.88h1.79v1.55h-1.79zM81.97 286.92h1.83v1.55h-1.83zM81 288.96h1.71v1.55h-1.71zM78.42 291h2.05v1.55h-2.05zM83.92 293.04h2.29v1.55h-2.29zM78.46 295.08h3.06v1.55h-3.06zM77.34 297.12h1.16v1.55h-1.16zM82.42 299.16h2.87v1.55h-2.87zM71.3 301.2h2.08v1.55h-2.08zM105.83 301.2h2.28v1.55h-2.28zM94.86 303.24h1.85v1.55h-1.85zM88.39 305.28h2.52v1.55h-2.52zM97.02 307.32h2.99v1.55h-2.99zM104.91 309.36h2.64v1.55h-2.64zM81.54 319.56h2.91v1.55h-2.91zM116.29 319.56h2.22v1.55h-2.22zM98.58 321.6h3.39v1.55h-3.39zM74.49 323.64h3.23v1.55h-3.23zM112.37 323.64h2.02v1.55h-2.02zM98.91 325.68h1.13v1.55h-1.13zM80.34 327.72h1.96v1.55h-1.96zM118.87 327.72h1.03v1.55h-1.03zM84.84 329.76h2.03v1.55h-2.03zM118.66 329.76h1.24v1.55h-1.24zM100.99 331.8h2.57v1.55h-2.57zM81.84 333.84h1.94v1.55h-1.94zM119.85 333.84h1.39v1.55h-1.39zM108.5 335.88h1.44v1.55h-1.44zM87.01 337.92h2.73v1.55h-2.73zM122.86 337.92h1.18v1.55h-1.18zM85.04 339.96h2.13v1.55h-2.13zM125.03 339.96h1.74v1.55h-1.74zM107.3 342h1.91v1.55h-1.91zM104.04 344.04h2.6v1.55h-2.6zM88.56 346.08h2.44v1.55h-2.44zM126.33 346.08h2.38v1.55h-2.38zM103.25 348.12h2.81v1.55h-2.81zM93.06 350.16h2.63v1.55h-2.63zM132.07 350.16h0.66v1.55h-0.66zM93.07 352.2h3.6v1.55h-3.6zM130.74 352.2h1.13v1.55h-1.13zM96.16 354.24h2.2v1.55h-2.2zM133.77 354.24h1.07v1.55h-1.07zM101.63 356.28h2.47v1.55h-2.47zM104.38 358.32h2.31v1.55h-2.31zM66.98 360.36h1.66v1.55h-1.66zM103.86 360.36h1.15v1.55h-1.15zM138.33 360.36h0.87v1.55h-0.87z"/>
<path fill="#5a0a64" stroke="#000" stroke-width="0.07" d="M76.59 58.44h0.86v1.55h-0.86zM75.7 70.67h2.51v1.55h-2.51zM78.14 72.72h1.96v1.55h-1.96zM75.11 74.75h2.51v1.55h-2.51zM77.81 76.8h1.8v1.55h-1.8zM82.51 82.91h2.27v1.55h-2.27zM75.92 84.95h1.7v1.55h-1.7zM79.34 86.99h2.77v1.55h-2.77zM73.98 89.03h2.46v1.55h-2.46zM76.07 91.07h1.56v1.55h-1.56zM78.29 93.11h2.24v1.55h-2.24zM91.44 95.16h1.7v1.55h-1.7zM75.8 97.19h2.62v1.55h-2.62zM80.26 99.23h1.99v1.55h-1.99zM71.43 101.27h1.55v1.55h-1.55zM81.52 103.31h2.48v1.55h-2.48zM74.91 105.35h2.36v1.55h-2.36zM85.92 107.39h2.41v1.55h-2.41zM85.72 109.44h1.64v1.55h-1.64zM79.94 111.47h1.85v1.55h-1.85zM76.7 113.52h2.26v1.55h-2.26zM74.49 115.55h1.64v1.55h-1.64zM74.12 117.59h1.97v1.55h-1.97zM79.07 119.63h1.79v1.55h-1.79zM80.89 121.67h1.87v1.55h-1.87zM81.35 123.72h1.74v1.55h-1.74zM75.96 125.75h1.87v1.55h-1.87zM112.82 125.75h2.06v1.55h-2.06zM71.61 127.79h2.4v1.55h-2.4zM112.39 127.79h1.93v1.55h-1.93zM77.97 129.84h1.64v1.55h-1.64zM115.09 129.84h0.79v1.55h-0.79zM102 131.88h2.27v1.55h-2.27zM79.57 133.91h1.43v1.55h-1.43zM117 133.91h1.65v1.55h-1.65zM97.48 135.96h1.95v1.55h-1.95zM85.36 138h1.62v1.55h-1.62zM74.35 140.03h1.46v1.55h-1.46zM111.94 140.03h1.68v1.55h-1.68zM79.83 142.07h2.18v1.55h-2.18zM119.57 142.07h1.85v1.55h-1.85zM103.59 144.12h2.5v1.55h-2.5zM80.87 146.16h1.93v1.55h-1.93zM115.95 146.16h1.87v1.55h-1.87zM75.4 148.19h1.58v1.55h-1.58zM114.29 148.19h1.28v1.55h-1.28zM82.45 150.23h2.01v1.55h-2.01zM121.42 150.23h2.14v1.55h-2.14zM101.39 152.28h7.72v1.55h-7.72zM94.28 154.31h2.02v1.55h-2.02zM75.75 156.35h2.47v1.55h-2.47zM114.81 156.35h2.14v1.55h-2.14zM81.5 158.4h1.72v1.55h-1.72zM118.73 158.4h2.1v1.55h-2.1zM74.13 160.44h2.11v1.55h-2.11zM113.65 160.44h2.08v1.55h-2.08zM72.94 162.47h1.84v1.55h-1.84zM114.73 162.47h2.03v1.55h-2.03zM75.04 164.51h1.45v1.55h-1.45zM112.68 164.51h2.24v1.55h-2.24zM72.28 166.56h2.38v1.55h-2.38zM112.46 166.56h1.23v1.55h-1.23zM76.86 168.59h1.48v1.55h-1.48zM113.27 168.59h1.91v1.55h-1.91zM76.9 170.63h1.85v1.55h-1.85zM76.8 172.67h1.65v1.55h-1.65zM115.81 172.67h1.61v1.55h-1.61zM80.5 174.72h1.39v1.55h-1.39zM120.17 174.72h2.06v1.55h-2.06zM76 176.75h2.03v1.55h-2.03zM114.5 176.75h1.58v1.55h-1.58zM73.61 178.79h1.42v1.55h-1.42zM112.06 178.79h1.44v1.55h-1.44zM107.14 180.84h2.1v1.55h-2.1zM95.61 182.88h1.86v1.55h-1.86zM131.71 182.88h2.15v1.55h-2.15zM80.72 184.91h2.27v1.55h-2.27zM118.86 184.91h2.14v1.55h-2.14zM74.4 186.95h1.84v1.55h-1.84zM111.82 186.95h2.12v1.55h-2.12zM76.95 189h1.82v1.55h-1.82zM114.37 189h1.62v1.55h-1.62zM81.11 191.03h2.43v1.55h-2.43zM117.31 191.03h2.22v1.55h-2.22zM101.36 193.07h9.57v1.55h-9.57zM83.68 195.12h1.74v1.55h-1.74zM121.66 195.12h1.51v1.55h-1.51zM77.1 197.16h1.88v1.55h-1.88zM116.79 197.16h2.26v1.55h-2.26zM80.39 199.19h1.98v1.55h-1.98zM117.03 199.19h1.75v1.55h-1.75zM87.33 201.23h2.26v1.55h-2.26zM127.34 201.23h2.13v1.55h-2.13zM77.18 203.28h2.28v1.55h-2.28zM113.96 203.28h1.81v1.55h-1.81zM73.68 205.31h1.6v1.55h-1.6zM109.92 205.31h2.11v1.55h-2.11zM77.81 207.35h1.44v1.55h-1.44zM115.29 207.35h1.28v1.55h-1.28zM75.38 254.28h1.07v1.55h-1.07zM79.46 256.32h2.4v1.55h-2.4zM81.67 258.36h1.64v1.55h-1.64zM80.29 262.44h1.95v1.55h-1.95zM80.23 264.48h1.88v1.55h-1.88zM84.16 266.52h2.3v1.55h-2.3zM76.73 268.56h1.44v1.55h-1.44zM74.05 270.6h2.1v1.55h-2.1zM71.28 272.64h1.84v1.55h-1.84zM80.31 274.68h1.04v1.55h-1.04zM79.75 276.72h2.91v1.55h-2.91zM79.04 278.76h2.25v1.55h-2.25zM88.7 280.8h2.84v1.55h-2.84zM81.91 282.84h2.76v1.55h-2.76zM91.42 284.88h1.6v1.55h-1.6zM83.79 286.92h1.33v1.55h-1.33zM82.72 288.96h2.29v1.55h-2.29zM80.47 291h2.42v1.55h-2.42zM86.21 293.04h2.9v1.55h-2.9zM81.52 295.08h2.57v1.55h-2.57zM78.5 297.12h1.02v1.55h-1.02zM85.29 299.16h1.87v1.55h-1.87zM73.39 301.2h1.19v1.55h-1.19zM108.12 301.2h2.03v1.55h-2.03zM96.71 303.24h1.81v1.55h-1.81zM90.91 305.28h1.04v1.55h-1.04zM100.02 307.32h1.12v1.55h-1.12zM107.55 309.36h1.28v1.55h-1.28zM84.46 319.56h1.19v1.55h-1.19zM118.51 319.56h1.76v1.55h-1.76zM101.97 321.6h2.64v1.55h-2.64zM77.72 323.64h2.31v1.55h-2.31zM114.39 323.64h1.14v1.55h-1.14zM100.04 325.68h2.12v1.55h-2.12zM82.29 327.72h2.02v1.55h-2.02zM119.91 327.72h1.26v1.55h-1.26zM86.87 329.76h2.13v1.55h-2.13zM119.89 329.76h0.98v1.55h-0.98zM103.56 331.8h1.24v1.55h-1.24zM83.78 333.84h1.05v1.55h-1.05zM121.24 333.84h1.07v1.55h-1.07zM109.94 335.88h2.21v1.55h-2.21zM89.74 337.92h1.89v1.55h-1.89zM124.04 337.92h2.29v1.55h-2.29zM87.17 339.96h1.47v1.55h-1.47zM126.77 339.96h1.55v1.55h-1.55zM109.21 342h2.66v1.55h-2.66zM106.64 344.04h1.33v1.55h-1.33zM90.99 346.08h0.87v1.55h-0.87zM128.71 346.08h1.53v1.55h-1.53zM106.06 348.12h1.52v1.55h-1.52zM95.69 350.16h1.27v1.55h-1.27zM96.67 352.2h2.51v1.55h-2.51zM131.87 352.2h0.53v1.55h-0.53zM98.36 354.24h1.34v1.55h-1.34zM104.1 356.28h0.99v1.55h-0.99zM106.69 358.32h2.65v1.55h-2.65zM68.64 360.36h2.41v1.55h-2.41zM105.01 360.36h1.99v1.55h-1.99zM139.2 360.36h0.34v1.55h-0.34z"/>
<path fill="#b40a0a" stroke="#000" stroke-width="0.07" d="M78.21 70.67h2.28v1.55h-2.28zM80.1 72.72h2.38v1.55h-2.38zM77.62 74.75h2.51v1.55h-2.51zM79.61 76.8h2.75v1.55h-2.75zM84.79 82.91h1.3v1.55h-1.3zM77.62 84.95h2.15v1.55h-2.15zM82.11 86.99h2.63v1.55h-2.63zM76.44 89.03h1.6v1.55h-1.6zM77.63 91.07h1.83v1.55h-1.83zM80.53 93.11h2.03v1.55h-2.03zM93.14 95.16h1.48v1.55h-1.48zM78.42 97.19h2.64v1.55h-2.64zM82.24 99.23h1.45v1.55h-1.45zM72.98 101.27h2.48v1.55h-2.48zM84 103.31h2.17v1.55h-2.17zM77.27 105.35h2.55v1.55h-2.55zM88.33 107.39h2.3v1.55h-2.3zM87.37 109.44h2.45v1.55h-2.45zM81.79 111.47h1.49v1.55h-1.49zM78.95 113.52h1.78v1.55h-1.78zM76.13 115.55h1.91v1.55h-1.91zM76.09 117.59h2.23v1.55h-2.23zM80.85 119.63h1.46v1.55h-1.46zM82.76 121.67h2.32v1.55h-2.32zM83.09 123.72h2.22v1.55h-2.22zM77.84 125.75h1.51v1.55h-1.51zM114.88 125.75h0.55v1.55h-0.55zM74.01 127.79h2.12v1.55h-2.12zM114.33 127.79h0.32v1.55h-0.32zM79.61 129.84h1.8v1.55h-1.8zM104.27 131.88h2.45v1.55h-2.45zM81 133.91h2.03v1.55h-2.03zM99.43 135.96h2.28v1.55h-2.28zM86.98 138h1.48v1.55h-1.48zM75.81 140.03h1.92v1.55h-1.92zM113.62 140.03h1.38v1.55h-1.38zM82 142.07h2.06v1.55h-2.06zM121.42 142.07h1.44v1.55h-1.44zM106.1 144.12h1.38v1.55h-1.38zM82.8 146.16h1.84v1.55h-1.84zM117.82 146.16h2.12v1.55h-2.12zM76.98 148.19h2.28v1.55h-2.28zM115.56 148.19h1.89v1.55h-1.89zM84.46 150.23h1.44v1.55h-1.44zM123.56 150.23h2.04v1.55h-2.04zM109.1 152.28h10.45v1.55h-10.45zM96.3 154.31h1.56v1.55h-1.56zM78.23 156.35h1.79v1.55h-1.79zM116.95 156.35h1.44v1.55h-1.44zM83.22 158.4h1.53v1.55h-1.53zM120.83 158.4h1.91v1.55h-1.91zM76.24 160.44h1.67v1.55h-1.67zM115.73 160.44h1.75v1.55h-1.75zM74.77 162.47h2.26v1.55h-2.26zM116.76 162.47h1.69v1.55h-1.69zM76.49 164.51h1.83v1.55h-1.83zM114.91 164.51h1.29v1.55h-1.29zM74.66 166.56h1.21v1.55h-1.21zM113.68 166.56h1.96v1.55h-1.96zM78.34 168.59h1.41v1.55h-1.41zM115.18 168.59h1.93v1.55h-1.93zM78.74 170.63h1.89v1.55h-1.89zM78.45 172.67h1.8v1.55h-1.8zM117.42 172.67h1.52v1.55h-1.52zM81.9 174.72h2.23v1.55h-2.23zM122.23 174.72h2.14v1.55h-2.14zM78.03 176.75h1.92v1.55h-1.92zM116.08 176.75h1.79v1.55h-1.79zM75.03 178.79h1.67v1.55h-1.67zM113.5 178.79h1.29v1.55h-1.29zM109.24 180.84h1.51v1.55h-1.51zM97.47 182.88h1.86v1.55h-1.86zM133.86 182.88h1.91v1.55h-1.91zM82.99 184.91h2.24v1.55h-2.24zM121 184.91h1.97v1.55h-1.97zM76.25 186.95h2.12v1.55h-2.12zM113.94 186.95h2.21v1.55h-2.21zM78.78 189h1.82v1.55h-1.82zM115.99 189h2.09v1.55h-2.09zM83.54 191.03h1.68v1.55h-1.68zM119.52 191.03h2.18v1.55h-2.18zM110.92 193.07h4.97v1.55h-4.97zM85.42 195.12h1.78v1.55h-1.78zM123.17 195.12h1.76v1.55h-1.76zM78.98 197.16h2.26v1.55h-2.26zM119.05 197.16h1.56v1.55h-1.56zM82.37 199.19h1.96v1.55h-1.96zM118.78 199.19h1.74v1.55h-1.74zM89.6 201.23h1.81v1.55h-1.81zM129.47 201.23h1.71v1.55h-1.71zM79.46 203.28h1.78v1.55h-1.78zM115.77 203.28h1.51v1.55h-1.51zM75.27 205.31h1.61v1.55h-1.61zM112.03 205.31h1.33v1.55h-1.33zM79.25 207.35h2.09v1.55h-2.09zM116.58 207.35h1.93v1.55h-1.93zM76.45 254.28h1.72v1.55h-1.72zM81.86 256.32h2.05v1.55h-2.05zM83.31 258.36h1.2v1.55h-1.2zM82.24 262.44h1.26v1.55h-1.26zM82.11 264.48h1.89v1.55h-1.89zM86.46 266.52h1.41v1.55h-1.41zM78.17 268.56h2.63v1.55h-2.63zM76.15 270.6h2.17v1.55h-2.17zM73.12 272.64h2.48v1.55h-2.48zM81.35 274.68h2.52v1.55h-2.52zM82.66 276.72h0.89v1.55h-0.89zM81.29 278.76h1.25v1.55h-1.25zM91.54 280.8h2.51v1.55h-2.51zM84.67 282.84h2.17v1.55h-2.17zM93.02 284.88h2.19v1.55h-2.19zM85.12 286.92h2.5v1.55h-2.5zM85 288.96h0.89v1.55h-0.89zM82.89 291h2.38v1.55h-2.38zM89.11 293.04h1.11v1.55h-1.11zM84.08 295.08h1.83v1.55h-1.83zM79.51 297.12h2.16v1.55h-2.16zM87.16 299.16h1.66v1.55h-1.66zM74.57 301.2h0.9v1.55h-0.9zM110.14 301.2h1.26v1.55h-1.26zM98.52 303.24h2.67v1.55h-2.67zM91.95 305.28h2.17v1.55h-2.17zM101.14 307.32h2.32v1.55h-2.32zM108.84 309.36h2.07v1.55h-2.07zM85.65 319.56h1.89v1.55h-1.89zM120.27 319.56h0.61v1.55h-0.61zM104.61 321.6h2.45v1.55h-2.45zM80.03 323.64h2.16v1.55h-2.16zM115.53 323.64h1.14v1.55h-1.14zM102.16 325.68h2.4v1.55h-2.4zM84.32 327.72h1.52v1.55h-1.52zM121.16 327.72h2.3v1.55h-2.3zM89.01 329.76h0.99v1.55h-0.99zM120.87 329.76h1.2v1.55h-1.2zM104.8 331.8h2.06v1.55h-2.06zM84.84 333.84h1.38v1.55h-1.38zM122.31 333.84h2.42v1.55h-2.42zM112.15 335.88h1.19v1.55h-1.19zM91.62 337.92h1.36v1.55h-1.36zM126.34 337.92h1.83v1.55h-1.83zM88.64 339.96h2.36v1.55h-2.36zM128.32 339.96h2.06v1.55h-2.06zM111.87 342h0.86v1.55h-0.86zM107.97 344.04h2.3v1.55h-2.3zM91.86 346.08h2.19v1.55h-2.19zM107.58 348.12h1.55v1.55h-1.55zM96.96 350.16h2.42v1.55h-2.42zM99.18 352.2h2.42v1.55h-2.42zM99.7 354.24h1.4v1.55h-1.4zM105.08 356.28h2.17v1.55h-2.17zM109.34 358.32h1.82v1.55h-1.82zM71.04 360.36h1.44v1.55h-1.44zM107 360.36h2.04v1.55h-2.04z"/>
<path fill="#0a640a" stroke="#000" stroke-width="0.07" d="M82.47 72.72h1.05v1.55h-1.05zM80.12 74.75h1.45v1.55h-1.45zM82.36 76.8h1.12v1.55h-1.12zM79.77 84.95h1.61v1.55h-1.61zM84.73 86.99h1.61v1.55h-1.61zM78.04 89.03h2.33v1.55h-2.33zM79.46 91.07h2.02v1.55h-2.02zM82.56 93.11h1.67v1.55h-1.67zM81.06 97.19h1.32v1.55h-1.32zM83.7 99.23h1.42v1.55h-1.42zM75.46 101.27h1.51v1.55h-1.51zM86.17 103.31h1.31v1.55h-1.31zM79.82 105.35h1.68v1.55h-1.68zM90.63 107.39h1.94v1.55h-1.94zM89.82 109.44h1.46v1.55h-1.46zM83.28 111.47h1.64v1.55h-1.64zM80.74 113.52h1.7v1.55h-1.7zM78.04 115.55h1.6v1.55h-1.6zM78.32 117.59h1.45v1.55h-1.45zM82.31 119.63h1.38v1.55h-1.38zM85.08 121.67h1.47v1.55h-1.47zM85.31 123.72h1.52v1.55h-1.52zM79.35 125.75h1.2v1.55h-1.2zM76.13 127.79h2.18v1.55h-2.18zM81.41 129.84h1.3v1.55h-1.3zM106.72 131.88h1.3v1.55h-1.3zM83.03 133.91h1.95v1.55h-1.95zM101.71 135.96h2.26v1.55h-2.26zM88.45 138h1.26v1.55h-1.26zM77.73 140.03h2v1.55h-2zM115 140.03h1.7v1.55h-1.7zM84.06 142.07h1.31v1.55h-1.31zM122.87 142.07h1.59v1.55h-1.59zM107.48 144.12h2.25v1.55h-2.25zM84.64 146.16h2.15v1.55h-2.15zM119.95 146.16h2.03v1.55h-2.03zM79.27 148.19h1.3v1.55h-1.3zM117.46 148.19h1.38v1.55h-1.38zM85.9 150.23h2.16v1.55h-2.16zM125.59 150.23h1.61v1.55h-1.61zM119.56 152.28h8.62v1.55h-8.62zM97.85 154.31h1.99v1.55h-1.99zM80.01 156.35h1.6v1.55h-1.6zM118.4 156.35h1.4v1.55h-1.4zM84.75 158.4h1.31v1.55h-1.31zM122.73 158.4h1.89v1.55h-1.89zM77.91 160.44h1.91v1.55h-1.91zM117.47 160.44h1.63v1.55h-1.63zM77.03 162.47h2.23v1.55h-2.23zM118.45 162.47h2.03v1.55h-2.03zM78.31 164.51h1.54v1.55h-1.54zM116.2 164.51h2.16v1.55h-2.16zM75.87 166.56h2.09v1.55h-2.09zM115.64 166.56h1.86v1.55h-1.86zM79.75 168.59h1.95v1.55h-1.95zM117.11 168.59h2.13v1.55h-2.13zM80.63 170.63h2.19v1.55h-2.19zM80.25 172.67h1.67v1.55h-1.67zM118.94 172.67h1.83v1.55h-1.83zM84.13 174.72h1.94v1.55h-1.94zM124.37 174.72h1.24v1.55h-1.24zM79.94 176.75h1.69v1.55h-1.69zM117.87 176.75h1.62v1.55h-1.62zM76.7 178.79h1.83v1.55h-1.83zM114.78 178.79h2.18v1.55h-2.18zM110.75 180.84h1.82v1.55h-1.82zM99.33 182.88h1.34v1.55h-1.34zM135.77 182.88h0.53v1.55h-0.53zM85.23 184.91h1.34v1.55h-1.34zM122.97 184.91h2.01v1.55h-2.01zM78.37 186.95h1.48v1.55h-1.48zM116.16 186.95h1.72v1.55h-1.72zM80.59 189h2.01v1.55h-2.01zM118.08 189h1.96v1.55h-1.96zM85.22 191.03h1.24v1.55h-1.24zM121.7 191.03h2.16v1.55h-2.16zM115.89 193.07h6.4v1.55h-6.4zM87.2 195.12h1.32v1.55h-1.32zM124.94 195.12h2.05v1.55h-2.05zM81.24 197.16h1.74v1.55h-1.74zM120.6 197.16h1.76v1.55h-1.76zM84.33 199.19h1.93v1.55h-1.93zM120.51 199.19h1.22v1.55h-1.22zM91.41 201.23h2.22v1.55h-2.22zM131.17 201.23h2.04v1.55h-2.04zM81.24 203.28h1.6v1.55h-1.6zM117.28 203.28h1.7v1.55h-1.7zM76.88 205.31h1.28v1.55h-1.28zM113.36 205.31h1.49v1.55h-1.49zM81.34 207.35h1.8v1.55h-1.8zM118.51 207.35h1.61v1.55h-1.61zM78.17 254.28h2.45v1.55h-2.45zM83.91 256.32h0.93v1.55h-0.93zM84.51 258.36h2.19v1.55h-2.19zM83.5 262.44h1.43v1.55h-1.43zM84 264.48h1.38v1.55h-1.38zM87.87 266.52h1.38v1.55h-1.38zM80.8 268.56h1.14v1.55h-1.14zM78.32 270.6h2.07v1.55h-2.07zM75.6 272.64h1.84v1.55h-1.84zM83.87 274.68h1.21v1.55h-1.21zM83.55 276.72h1.38v1.55h-1.38zM82.54 278.76h2.18v1.55h-2.18zM94.05 280.8h0.96v1.55h-0.96zM86.84 282.84h1.36v1.55h-1.36zM95.21 284.88h1.73v1.55h-1.73zM87.62 286.92h1.72v1.55h-1.72zM85.9 288.96h1.34v1.55h-1.34zM85.28 291h1.06v1.55h-1.06zM90.22 293.04h0.82v1.55h-0.82zM85.91 295.08h1.39v1.55h-1.39zM81.67 297.12h1.21v1.55h-1.21zM88.82 299.16h1.03v1.55h-1.03zM75.47 301.2h2.46v1.55h-2.46zM111.4 301.2h1.1v1.55h-1.1zM101.19 303.24h2.05v1.55h-2.05zM94.12 305.28h1.48v1.55h-1.48zM103.45 307.32h1.92v1.55h-1.92zM110.91 309.36h1.1v1.55h-1.1zM87.54 319.56h2.37v1.55h-2.37zM107.06 321.6h1.04v1.55h-1.04zM82.19 323.64h1.04v1.55h-1.04zM116.68 323.64h1.1v1.55h-1.1zM104.55 325.68h1.5v1.55h-1.5zM85.84 327.72h1.94v1.55h-1.94zM123.46 327.72h2.22v1.55h-2.22zM90 329.76h1.07v1.55h-1.07zM122.07 329.76h1.06v1.55h-1.06zM106.86 331.8h1.06v1.55h-1.06zM86.22 333.84h1.04v1.55h-1.04zM124.73 333.84h1.93v1.55h-1.93zM113.34 335.88h1.13v1.55h-1.13zM92.99 337.92h1.16v1.55h-1.16zM128.16 337.92h2.3v1.55h-2.3zM91 339.96h2.3v1.55h-2.3zM130.38 339.96h1.53v1.55h-1.53zM112.72 342h1.72v1.55h-1.72zM110.27 344.04h1.6v1.55h-1.6zM94.05 346.08h1.75v1.55h-1.75zM109.13 348.12h1.16v1.55h-1.16zM99.38 350.16h1.17v1.55h-1.17zM101.59 352.2h1.35v1.55h-1.35zM101.1 354.24h0.98v1.55h-0.98zM107.25 356.28h2.43v1.55h-2.43zM111.16 358.32h1v1.55h-1zM72.48 360.36h2.28v1.55h-2.28zM109.04 360.36h1.93v1.55h-1.93z"/>
<path fill="#ffc896" stroke="#000" stroke-width="0.07" d="M81.57 74.75h1.97v1.55h-1.97zM81.37 84.95h1.51v1.55h-1.51zM86.35 86.99h1.8v1.55h-1.8zM80.37 89.03h2.23v1.55h-2.23zM81.48 91.07h1.74v1.55h-1.74zM84.22 93.11h1.49v1.55h-1.49zM82.38 97.19h1.21v1.55h-1.21zM85.12 99.23h1.27v1.55h-1.27zM76.97 101.27h1.39v1.55h-1.39zM87.48 103.31h2.08v1.55h-2.08zM81.5 105.35h1.67v1.55h-1.67zM92.57 107.39h1.88v1.55h-1.88zM91.28 109.44h2.24v1.55h-2.24zM84.92 111.47h1.72v1.55h-1.72zM82.44 113.52h1.48v1.55h-1.48zM79.64 115.55h1.51v1.55h-1.51zM79.77 117.59h1.48v1.55h-1.48zM83.69 119.63h1.75v1.55h-1.75zM86.55 121.67h1.75v1.55h-1.75zM86.83 123.72h2.21v1.55h-2.21zM80.55 125.75h1.49v1.55h-1.49zM78.31 127.79h1.51v1.55h-1.51zM82.71 129.84h1.27v1.55h-1.27zM108.02 131.88h1.7v1.55h-1.7zM84.98 133.91h1.56v1.55h-1.56zM103.97 135.96h1.58v1.55h-1.58zM89.72 138h1.6v1.55h-1.6zM79.73 140.03h1.23v1.55h-1.23zM116.7 140.03h1.3v1.55h-1.3zM85.37 142.07h1.33v1.55h-1.33zM124.46 142.07h1.4v1.55h-1.4zM109.73 144.12h1.86v1.55h-1.86zM86.79 146.16h1.33v1.55h-1.33zM121.97 146.16h1.62v1.55h-1.62zM80.57 148.19h1.85v1.55h-1.85zM118.83 148.19h2.26v1.55h-2.26zM88.06 150.23h2.09v1.55h-2.09zM127.2 150.23h1.47v1.55h-1.47zM128.18 152.28h1.2v1.55h-1.2zM99.85 154.31h1.25v1.55h-1.25zM81.61 156.35h2.14v1.55h-2.14zM119.79 156.35h1.51v1.55h-1.51zM86.06 158.4h2.17v1.55h-2.17zM124.62 158.4h2.13v1.55h-2.13zM79.83 160.44h2.19v1.55h-2.19zM119.1 160.44h2.21v1.55h-2.21zM79.26 162.47h2.25v1.55h-2.25zM120.48 162.47h1.44v1.55h-1.44zM79.85 164.51h2.2v1.55h-2.2zM118.35 164.51h1.78v1.55h-1.78zM77.96 166.56h1.69v1.55h-1.69zM117.5 166.56h1.55v1.55h-1.55zM81.7 168.59h1.33v1.55h-1.33zM119.24 168.59h1.28v1.55h-1.28zM82.82 170.63h1.25v1.55h-1.25zM81.92 172.67h1.99v1.55h-1.99zM120.78 172.67h2.22v1.55h-2.22zM86.07 174.72h2.08v1.55h-2.08zM125.61 174.72h2.08v1.55h-2.08zM81.63 176.75h1.41v1.55h-1.41zM119.49 176.75h1.74v1.55h-1.74zM78.52 178.79h1.84v1.55h-1.84zM116.96 178.79h1.73v1.55h-1.73zM112.57 180.84h2v1.55h-2zM100.68 182.88h1.43v1.55h-1.43zM86.57 184.91h1.88v1.55h-1.88zM124.98 184.91h1.38v1.55h-1.38zM79.84 186.95h1.39v1.55h-1.39zM117.88 186.95h1.74v1.55h-1.74zM82.6 189h1.31v1.55h-1.31zM120.04 189h2.09v1.55h-2.09zM86.46 191.03h2.24v1.55h-2.24zM123.85 191.03h1.28v1.55h-1.28zM122.29 193.07h6.53v1.55h-6.53zM88.52 195.12h1.62v1.55h-1.62zM126.99 195.12h1.66v1.55h-1.66zM82.99 197.16h1.74v1.55h-1.74zM122.36 197.16h2.06v1.55h-2.06zM86.27 199.19h1.2v1.55h-1.2zM121.73 199.19h1.27v1.55h-1.27zM93.63 201.23h1.66v1.55h-1.66zM133.21 201.23h1.45v1.55h-1.45zM82.85 203.28h1.69v1.55h-1.69zM118.98 203.28h1.41v1.55h-1.41zM78.16 205.31h1.38v1.55h-1.38zM114.85 205.31h1.22v1.55h-1.22zM83.14 207.35h1.96v1.55h-1.96zM120.12 207.35h1.99v1.55h-1.99zM80.61 254.28h1.62v1.55h-1.62zM84.85 256.32h1.84v1.55h-1.84zM86.7 258.36h1.34v1.55h-1.34zM84.93 262.44h0.85v1.55h-0.85zM85.38 264.48h1.13v1.55h-1.13zM89.24 266.52h2.29v1.55h-2.29zM81.94 268.56h2.06v1.55h-2.06zM80.39 270.6h0.99v1.55h-0.99zM77.45 272.64h2.27v1.55h-2.27zM85.08 274.68h1.4v1.55h-1.4zM84.93 276.72h1.05v1.55h-1.05zM84.71 278.76h2.02v1.55h-2.02zM95.01 280.8h1.13v1.55h-1.13zM88.2 282.84h1.98v1.55h-1.98zM96.94 284.88h2.1v1.55h-2.1zM89.34 286.92h2.07v1.55h-2.07zM87.24 288.96h0.85v1.55h-0.85zM86.34 291h0.83v1.55h-0.83zM91.03 293.04h1.6v1.55h-1.6zM87.3 295.08h1.99v1.55h-1.99zM82.88 297.12h1.4v1.55h-1.4zM89.86 299.16h2.37v1.55h-2.37zM77.94 301.2h1.33v1.55h-1.33zM103.25 303.24h1.25v1.55h-1.25zM95.6 305.28h1.74v1.55h-1.74zM105.37 307.32h2.35v1.55h-2.35zM112 309.36h2.39v1.55h-2.39zM89.91 319.56h1.98v1.55h-1.98zM108.1 321.6h1.36v1.55h-1.36zM83.23 323.64h2.36v1.55h-2.36zM117.78 323.64h2.24v1.55h-2.24zM106.05 325.68h1.91v1.55h-1.91zM87.78 327.72h0.99v1.55h-0.99zM125.68 327.72h0.84v1.55h-0.84zM91.07 329.76h1.46v1.55h-1.46zM123.13 329.76h1.25v1.55h-1.25zM107.92 331.8h1.24v1.55h-1.24zM87.25 333.84h1.13v1.55h-1.13zM126.66 333.84h2.05v1.55h-2.05zM114.47 335.88h1.57v1.55h-1.57zM94.14 337.92h1.39v1.55h-1.39zM130.46 337.92h1.41v1.55h-1.41zM93.3 339.96h1.92v1.55h-1.92zM114.44 342h1.48v1.55h-1.48zM111.86 344.04h1.84v1.55h-1.84zM95.8 346.08h1.39v1.55h-1.39zM110.29 348.12h2.02v1.55h-2.02zM100.55 350.16h1.57v1.55h-1.57zM102.95 352.2h2.46v1.55h-2.46zM102.07 354.24h2.04v1.55h-2.04zM109.68 356.28h0.94v1.55h-0.94zM112.16 358.32h1.64v1.55h-1.64zM74.76 360.36h0.92v1.55h-0.92zM110.96 360.36h2.45v1.55h-2.45z"/>
<path fill="#14f014" stroke="#000" stroke-width="0.07" d="M83.54 74.75h1.33v1.55h-1.33zM82.88 84.95h2.02v1.55h-2.02zM88.15 86.99h1.2v1.55h-1.2zM82.61 89.03h1.43v1.55h-1.43zM83.22 91.07h1.26v1.55h-1.26zM85.71 93.11h2.05v1.55h-2.05zM83.59 97.19h1.73v1.55h-1.73zM86.38 99.23h1.98v1.55h-1.98zM78.36 101.27h1.55v1.55h-1.55zM89.56 103.31h2.15v1.55h-2.15zM83.17 105.35h1.24v1.55h-1.24zM94.45 107.39h1.27v1.55h-1.27zM93.52 109.44h2.19v1.55h-2.19zM86.65 111.47h2.13v1.55h-2.13zM83.92 113.52h1.24v1.55h-1.24zM81.15 115.55h1.98v1.55h-1.98zM81.25 117.59h2v1.55h-2zM85.44 119.63h1.92v1.55h-1.92zM88.31 121.67h1.78v1.55h-1.78zM89.04 123.72h1.72v1.55h-1.72zM82.04 125.75h1.57v1.55h-1.57zM79.82 127.79h1.96v1.55h-1.96zM83.98 129.84h1.86v1.55h-1.86zM109.72 131.88h2.07v1.55h-2.07zM86.55 133.91h1.23v1.55h-1.23zM105.55 135.96h1.4v1.55h-1.4zM91.32 138h2v1.55h-2zM80.96 140.03h2.09v1.55h-2.09zM118 140.03h1.33v1.55h-1.33zM86.7 142.07h2.14v1.55h-2.14zM125.86 142.07h1.62v1.55h-1.62zM111.6 144.12h1.61v1.55h-1.61zM88.12 146.16h1.43v1.55h-1.43zM123.6 146.16h1.47v1.55h-1.47zM82.41 148.19h1.89v1.55h-1.89zM121.09 148.19h1.47v1.55h-1.47zM90.15 150.23h1.41v1.55h-1.41zM101.09 154.31h1.56v1.55h-1.56zM83.75 156.35h1.44v1.55h-1.44zM121.3 156.35h1.94v1.55h-1.94zM88.22 158.4h1.49v1.55h-1.49zM126.75 158.4h1.88v1.55h-1.88zM82.01 160.44h1.39v1.55h-1.39zM121.31 160.44h1.42v1.55h-1.42zM81.52 162.47h2.22v1.55h-2.22zM121.92 162.47h1.94v1.55h-1.94zM82.05 164.51h1.76v1.55h-1.76zM120.13 164.51h1.87v1.55h-1.87zM79.65 166.56h1.79v1.55h-1.79zM119.05 166.56h2.11v1.55h-2.11zM83.03 168.59h2.23v1.55h-2.23zM120.52 168.59h1.23v1.55h-1.23zM84.06 170.63h1.8v1.55h-1.8zM83.91 172.67h2.18v1.55h-2.18zM122.99 172.67h2.08v1.55h-2.08zM88.15 174.72h1.55v1.55h-1.55zM127.69 174.72h2.06v1.55h-2.06zM83.04 176.75h1.46v1.55h-1.46zM121.24 176.75h1.35v1.55h-1.35zM80.37 178.79h1.33v1.55h-1.33zM118.69 178.79h1.39v1.55h-1.39zM114.57 180.84h1.3v1.55h-1.3zM102.1 182.88h1.25v1.55h-1.25zM88.45 184.91h1.66v1.55h-1.66zM126.35 184.91h1.34v1.55h-1.34zM81.23 186.95h2.08v1.55h-2.08zM119.62 186.95h1.76v1.55h-1.76zM83.91 189h1.32v1.55h-1.32zM122.13 189h1.79v1.55h-1.79zM88.7 191.03h2.23v1.55h-2.23zM125.14 191.03h1.82v1.55h-1.82zM128.82 193.07h9.07v1.55h-9.07zM90.14 195.12h2.25v1.55h-2.25zM128.64 195.12h1.59v1.55h-1.59zM84.73 197.16h1.92v1.55h-1.92zM124.43 197.16h1.37v1.55h-1.37zM87.47 199.19h1.19v1.55h-1.19zM123.01 199.19h2.21v1.55h-2.21zM95.29 201.23h1.85v1.55h-1.85zM134.66 201.23h1.38v1.55h-1.38zM84.54 203.28h1.56v1.55h-1.56zM120.38 203.28h2.11v1.55h-2.11zM79.54 205.31h2.1v1.55h-2.1zM116.07 205.31h1.92v1.55h-1.92zM85.1 207.35h1.46v1.55h-1.46zM122.11 207.35h2.08v1.55h-2.08zM82.23 254.28h2.06v1.55h-2.06zM88.04 258.36h0.63v1.55h-0.63zM85.78 262.44h1.83v1.55h-1.83zM86.51 264.48h0.94v1.55h-0.94zM91.53 266.52h0.85v1.55h-0.85zM84 268.56h1.17v1.55h-1.17zM81.38 270.6h2.46v1.55h-2.46zM79.71 272.64h1.75v1.55h-1.75zM86.48 274.68h1.97v1.55h-1.97zM85.98 276.72h1.64v1.55h-1.64zM86.73 278.76h1.36v1.55h-1.36zM96.15 280.8h1.52v1.55h-1.52zM90.18 282.84h1.93v1.55h-1.93zM91.41 286.92h1.85v1.55h-1.85zM88.08 288.96h1.34v1.55h-1.34zM87.17 291h1.15v1.55h-1.15zM92.63 293.04h1.9v1.55h-1.9zM89.29 295.08h1.54v1.55h-1.54zM84.27 297.12h1.35v1.55h-1.35zM92.23 299.16h1.95v1.55h-1.95zM79.27 301.2h2.28v1.55h-2.28zM104.5 303.24h1.51v1.55h-1.51zM97.34 305.28h1.95v1.55h-1.95zM107.72 307.32h2.09v1.55h-2.09zM114.4 309.36h0.41v1.55h-0.41zM91.89 319.56h1.53v1.55h-1.53zM109.47 321.6h1.67v1.55h-1.67zM85.59 323.64h1.37v1.55h-1.37zM120.02 323.64h1.01v1.55h-1.01zM107.96 325.68h1.23v1.55h-1.23zM88.77 327.72h2.19v1.55h-2.19zM92.53 329.76h0.86v1.55h-0.86zM124.39 329.76h1.71v1.55h-1.71zM109.17 331.8h0.85v1.55h-0.85zM88.38 333.84h1.17v1.55h-1.17zM128.71 333.84h1.03v1.55h-1.03zM116.04 335.88h1.2v1.55h-1.2zM95.54 337.92h2.22v1.55h-2.22zM95.22 339.96h0.93v1.55h-0.93zM115.93 342h0.94v1.55h-0.94zM113.71 344.04h2.36v1.55h-2.36zM97.2 346.08h2.38v1.55h-2.38zM112.32 348.12h2.12v1.55h-2.12zM102.12 350.16h2.08v1.55h-2.08zM105.4 352.2h0.92v1.55h-0.92zM104.12 354.24h1.96v1.55h-1.96zM110.63 356.28h2.11v1.55h-2.11zM113.8 358.32h1.44v1.55h-1.44zM75.68 360.36h0.85v1.55h-0.85zM113.42 360.36h1.83v1.55h-1.83z"/>
<path fill="#9cc8ff" stroke="#000" stroke-width="0.07" d="M84.9 84.95h1.73v1.55h-1.73zM84.03 89.03h2.21v1.55h-2.21zM84.48 91.07h2.25v1.55h-2.25zM87.76 93.11h1.39v1.55h-1.39zM85.32 97.19h2.24v1.55h-2.24zM88.37 99.23h1.46v1.55h-1.46zM79.9 101.27h1.28v1.55h-1.28zM91.71 103.31h1.86v1.55h-1.86zM84.41 105.35h1.21v1.55h-1.21zM95.72 107.39h1.35v1.55h-1.35zM95.71 109.44h1.21v1.55h-1.21zM88.77 111.47h1.61v1.55h-1.61zM85.17 113.52h1.3v1.55h-1.3zM83.13 115.55h2.24v1.55h-2.24zM83.24 117.59h1.72v1.55h-1.72zM87.36 119.63h2.2v1.55h-2.2zM90.08 121.67h1.22v1.55h-1.22zM90.76 123.72h1.39v1.55h-1.39zM83.6 125.75h2.21v1.55h-2.21zM81.78 127.79h1.83v1.55h-1.83zM85.84 129.84h1.41v1.55h-1.41zM111.78 131.88h2.09v1.55h-2.09zM87.78 133.91h1.55v1.55h-1.55zM106.95 135.96h1.97v1.55h-1.97zM93.31 138h2.04v1.55h-2.04zM83.05 140.03h1.32v1.55h-1.32zM119.33 140.03h1.65v1.55h-1.65zM88.84 142.07h1.5v1.55h-1.5zM127.48 142.07h0.79v1.55h-0.79zM113.21 144.12h2.04v1.55h-2.04zM89.56 146.16h1.89v1.55h-1.89zM125.07 146.16h1.2v1.55h-1.2zM84.31 148.19h1.4v1.55h-1.4zM122.56 148.19h1.88v1.55h-1.88zM91.56 150.23h1.36v1.55h-1.36zM102.66 154.31h1.29v1.55h-1.29zM85.19 156.35h1.68v1.55h-1.68zM123.25 156.35h2.09v1.55h-2.09zM89.71 158.4h2.14v1.55h-2.14zM128.63 158.4h1.82v1.55h-1.82zM83.4 160.44h1.89v1.55h-1.89zM122.72 160.44h1.92v1.55h-1.92zM83.74 162.47h1.68v1.55h-1.68zM123.86 162.47h1.93v1.55h-1.93zM83.81 164.51h1.56v1.55h-1.56zM122 164.51h1.51v1.55h-1.51zM81.44 166.56h1.9v1.55h-1.9zM121.17 166.56h1.58v1.55h-1.58zM85.26 168.59h1.28v1.55h-1.28zM121.75 168.59h1.87v1.55h-1.87zM85.86 170.63h1.23v1.55h-1.23zM86.09 172.67h1.58v1.55h-1.58zM125.08 172.67h1.84v1.55h-1.84zM89.69 174.72h1.84v1.55h-1.84zM129.75 174.72h2.12v1.55h-2.12zM84.51 176.75h1.99v1.55h-1.99zM122.59 176.75h1.24v1.55h-1.24zM81.7 178.79h2.09v1.55h-2.09zM120.08 178.79h2.1v1.55h-2.1zM115.87 180.84h1.54v1.55h-1.54zM103.35 182.88h1.95v1.55h-1.95zM90.11 184.91h1.73v1.55h-1.73zM127.69 184.91h1.91v1.55h-1.91zM83.31 186.95h1.58v1.55h-1.58zM121.37 186.95h1.77v1.55h-1.77zM85.23 189h2.14v1.55h-2.14zM123.92 189h2.25v1.55h-2.25zM90.93 191.03h1.23v1.55h-1.23zM126.96 191.03h2.19v1.55h-2.19zM137.89 193.07h0.86v1.55h-0.86zM92.39 195.12h1.35v1.55h-1.35zM130.24 195.12h1.44v1.55h-1.44zM86.66 197.16h1.61v1.55h-1.61zM125.8 197.16h1.53v1.55h-1.53zM88.66 199.19h1.95v1.55h-1.95zM125.21 199.19h1.72v1.55h-1.72zM97.15 201.23h1.46v1.55h-1.46zM86.1 203.28h1.66v1.55h-1.66zM122.49 203.28h1.91v1.55h-1.91zM81.64 205.31h1.53v1.55h-1.53zM117.99 205.31h1.9v1.55h-1.9zM86.56 207.35h1.66v1.55h-1.66zM124.19 207.35h1.49v1.55h-1.49zM84.29 254.28h1.36v1.55h-1.36zM87.61 262.44h2.2v1.55h-2.2zM87.45 264.48h1.34v1.55h-1.34zM85.17 268.56h2.21v1.55h-2.21zM83.84 270.6h2.01v1.55h-2.01zM81.46 272.64h2.34v1.55h-2.34zM88.44 274.68h0.84v1.55h-0.84zM87.62 276.72h2.27v1.55h-2.27zM88.09 278.76h1.59v1.55h-1.59zM97.66 280.8h1.76v1.55h-1.76zM92.11 282.84h2.28v1.55h-2.28zM93.27 286.92h1.2v1.55h-1.2zM89.42 288.96h2.26v1.55h-2.26zM88.32 291h1.69v1.55h-1.69zM94.53 293.04h2.1v1.55h-2.1zM90.83 295.08h2.24v1.55h-2.24zM85.62 297.12h1.52v1.55h-1.52zM94.18 299.16h2.15v1.55h-2.15zM81.55 301.2h1v1.55h-1zM106.01 303.24h1.71v1.55h-1.71zM99.29 305.28h1.54v1.55h-1.54zM109.81 307.32h1.24v1.55h-1.24zM93.42 319.56h2.47v1.55h-2.47zM111.14 321.6h0.81v1.55h-0.81zM86.97 323.64h1.57v1.55h-1.57zM121.03 323.64h1.03v1.55h-1.03zM109.19 325.68h2.32v1.55h-2.32zM90.96 327.72h1.01v1.55h-1.01zM93.39 329.76h0.87v1.55h-0.87zM126.1 329.76h1.34v1.55h-1.34zM110.02 331.8h1.46v1.55h-1.46zM89.55 333.84h1.36v1.55h-1.36zM129.74 333.84h0.47v1.55h-0.47zM117.24 335.88h1.63v1.55h-1.63zM97.76 337.92h1.84v1.55h-1.84zM96.15 339.96h1.85v1.55h-1.85zM116.87 342h2.4v1.55h-2.4zM116.07 344.04h1.48v1.55h-1.48zM99.58 346.08h1.25v1.55h-1.25zM114.44 348.12h1.94v1.55h-1.94zM104.2 350.16h1.55v1.55h-1.55zM106.32 352.2h1.6v1.55h-1.6zM106.08 354.24h1.51v1.55h-1.51zM112.74 356.28h1.14v1.55h-1.14zM115.24 358.32h1.98v1.55h-1.98zM76.53 360.36h1.89v1.55h-1.89zM115.25 360.36h0.95v1.55h-0.95z"/>
<path fill="#dcd2ff" stroke="#000" stroke-width="0.07" d="M86.24 89.03h1.62v1.55h-1.62zM86.72 91.07h2.03v1.55h-2.03zM89.15 93.11h2.15v1.55h-2.15zM87.56 97.19h1.74v1.55h-1.74zM89.83 99.23h1.36v1.55h-1.36zM81.18 101.27h1.49v1.55h-1.49zM93.57 103.31h1.98v1.55h-1.98zM85.62 105.35h1.76v1.55h-1.76zM97.07 107.39h1.46v1.55h-1.46zM96.92 109.44h1.68v1.55h-1.68zM90.39 111.47h1.36v1.55h-1.36zM86.47 113.52h2.08v1.55h-2.08zM85.37 115.55h1.47v1.55h-1.47zM84.97 117.59h1.81v1.55h-1.81zM89.56 119.63h1.96v1.55h-1.96zM91.3 121.67h1.63v1.55h-1.63zM92.15 123.72h1.43v1.55h-1.43zM85.82 125.75h1.32v1.55h-1.32zM83.61 127.79h2.05v1.55h-2.05zM87.25 129.84h1.64v1.55h-1.64zM113.87 131.88h2.17v1.55h-2.17zM89.33 133.91h1.24v1.55h-1.24zM108.92 135.96h1.41v1.55h-1.41zM95.35 138h2.05v1.55h-2.05zM84.37 140.03h1.83v1.55h-1.83zM120.98 140.03h1.29v1.55h-1.29zM90.34 142.07h2.06v1.55h-2.06zM115.25 144.12h1.47v1.55h-1.47zM91.44 146.16h1.21v1.55h-1.21zM126.27 146.16h1.88v1.55h-1.88zM85.71 148.19h1.63v1.55h-1.63zM124.44 148.19h1.32v1.55h-1.32zM92.92 150.23h2.17v1.55h-2.17zM103.95 154.31h1.93v1.55h-1.93zM86.87 156.35h1.76v1.55h-1.76zM125.34 156.35h1.36v1.55h-1.36zM91.85 158.4h1.69v1.55h-1.69zM130.45 158.4h1.43v1.55h-1.43zM85.29 160.44h2.02v1.55h-2.02zM124.65 160.44h1.61v1.55h-1.61zM85.42 162.47h1.37v1.55h-1.37zM125.79 162.47h2.24v1.55h-2.24zM85.37 164.51h1.81v1.55h-1.81zM123.51 164.51h1.72v1.55h-1.72zM83.35 166.56h2.09v1.55h-2.09zM122.75 166.56h1.7v1.55h-1.7zM86.55 168.59h2.26v1.55h-2.26zM123.62 168.59h1.86v1.55h-1.86zM87.09 170.63h1.32v1.55h-1.32zM87.67 172.67h1.99v1.55h-1.99zM126.92 172.67h1.53v1.55h-1.53zM91.53 174.72h2.24v1.55h-2.24zM131.87 174.72h1.19v1.55h-1.19zM86.5 176.75h2.04v1.55h-2.04zM123.82 176.75h2.26v1.55h-2.26zM83.79 178.79h1.55v1.55h-1.55zM122.18 178.79h1.59v1.55h-1.59zM117.41 180.84h1.47v1.55h-1.47zM105.31 182.88h1.78v1.55h-1.78zM91.85 184.91h1.74v1.55h-1.74zM129.6 184.91h1.86v1.55h-1.86zM84.9 186.95h1.37v1.55h-1.37zM123.14 186.95h1.21v1.55h-1.21zM87.36 189h1.77v1.55h-1.77zM126.17 189h1.53v1.55h-1.53zM92.16 191.03h2.12v1.55h-2.12zM129.15 191.03h1.66v1.55h-1.66zM93.74 195.12h2.1v1.55h-2.1zM131.67 195.12h2.07v1.55h-2.07zM88.26 197.16h1.57v1.55h-1.57zM127.33 197.16h2.24v1.55h-2.24zM90.61 199.19h1.78v1.55h-1.78zM126.93 199.19h1.69v1.55h-1.69zM98.6 201.23h1.24v1.55h-1.24zM87.76 203.28h1.49v1.55h-1.49zM124.41 203.28h2.2v1.55h-2.2zM83.18 205.31h1.9v1.55h-1.9zM119.89 205.31h1.57v1.55h-1.57zM88.22 207.35h1.92v1.55h-1.92zM125.68 207.35h1.29v1.55h-1.29zM89.81 262.44h1.21v1.55h-1.21zM88.8 264.48h1.57v1.55h-1.57zM87.38 268.56h1.89v1.55h-1.89zM85.86 270.6h0.97v1.55h-0.97zM83.8 272.64h2.26v1.55h-2.26zM89.28 274.68h2.46v1.55h-2.46zM89.89 276.72h2.14v1.55h-2.14zM89.68 278.76h2.37v1.55h-2.37zM94.4 282.84h2.11v1.55h-2.11zM94.46 286.92h0.83v1.55h-0.83zM91.68 288.96h0.85v1.55h-0.85zM90.01 291h2.21v1.55h-2.21zM96.63 293.04h1.41v1.55h-1.41zM93.08 295.08h1.16v1.55h-1.16zM87.13 297.12h1.27v1.55h-1.27zM96.33 299.16h1.06v1.55h-1.06zM82.55 301.2h1.62v1.55h-1.62zM107.71 303.24h1.44v1.55h-1.44zM100.84 305.28h1.92v1.55h-1.92zM111.05 307.32h2.21v1.55h-2.21zM95.89 319.56h1.1v1.55h-1.1zM111.95 321.6h2.46v1.55h-2.46zM88.53 323.64h1.99v1.55h-1.99zM122.06 323.64h2.01v1.55h-2.01zM111.51 325.68h1.95v1.55h-1.95zM91.97 327.72h2.35v1.55h-2.35zM94.26 329.76h1.77v1.55h-1.77zM127.44 329.76h1.21v1.55h-1.21zM111.48 331.8h1.67v1.55h-1.67zM90.91 333.84h2.44v1.55h-2.44zM118.87 335.88h2.33v1.55h-2.33zM99.6 337.92h1.29v1.55h-1.29zM97.99 339.96h1.55v1.55h-1.55zM119.27 342h1.87v1.55h-1.87zM117.54 344.04h1.95v1.55h-1.95zM100.82 346.08h1.21v1.55h-1.21zM116.38 348.12h2.23v1.55h-2.23zM105.75 350.16h1.65v1.55h-1.65zM107.93 352.2h1.02v1.55h-1.02zM107.58 354.24h0.85v1.55h-0.85zM113.88 356.28h1.76v1.55h-1.76zM117.22 358.32h2.14v1.55h-2.14zM78.42 360.36h0.94v1.55h-0.94zM116.19 360.36h1.67v1.55h-1.67z"/>
<path fill="#7890b4" stroke="#000" stroke-width="0.07" d="M87.86 89.03h1.49v1.55h-1.49zM88.76 91.07h1.73v1.55h-1.73zM91.29 93.11h0.57v1.55h-0.57zM89.3 97.19h1.45v1.55h-1.45zM91.19 99.23h1.28v1.55h-1.28zM82.67 101.27h1.89v1.55h-1.89zM95.55 103.31h2.06v1.55h-2.06zM87.38 105.35h1.45v1.55h-1.45zM98.53 107.39h1.25v1.55h-1.25zM98.6 109.44h1.98v1.55h-1.98zM91.75 111.47h2.21v1.55h-2.21zM88.55 113.52h1.5v1.55h-1.5zM86.84 115.55h1.89v1.55h-1.89zM86.77 117.59h1.58v1.55h-1.58zM91.52 119.63h1.88v1.55h-1.88zM92.93 121.67h1.89v1.55h-1.89zM93.58 123.72h1.64v1.55h-1.64zM87.14 125.75h2.22v1.55h-2.22zM85.66 127.79h2.2v1.55h-2.2zM88.89 129.84h2.25v1.55h-2.25zM116.04 131.88h1.19v1.55h-1.19zM90.57 133.91h2.26v1.55h-2.26zM110.33 135.96h1.2v1.55h-1.2zM97.4 138h1.51v1.55h-1.51zM86.2 140.03h1.78v1.55h-1.78zM122.27 140.03h1.66v1.55h-1.66zM92.4 142.07h2.04v1.55h-2.04zM116.73 144.12h2.25v1.55h-2.25zM92.66 146.16h1.19v1.55h-1.19zM87.34 148.19h1.75v1.55h-1.75zM125.76 148.19h2.14v1.55h-2.14zM95.09 150.23h1.4v1.55h-1.4zM105.88 154.31h2.07v1.55h-2.07zM88.63 156.35h2v1.55h-2zM126.7 156.35h1.36v1.55h-1.36zM93.54 158.4h1.2v1.55h-1.2zM131.88 158.4h1.11v1.55h-1.11zM87.31 160.44h1.61v1.55h-1.61zM126.26 160.44h2.01v1.55h-2.01zM86.79 162.47h2.19v1.55h-2.19zM128.03 162.47h1.92v1.55h-1.92zM87.18 164.51h1.89v1.55h-1.89zM125.23 164.51h1.42v1.55h-1.42zM85.44 166.56h1.59v1.55h-1.59zM124.45 166.56h1.75v1.55h-1.75zM88.8 168.59h1.62v1.55h-1.62zM125.48 168.59h1.38v1.55h-1.38zM88.41 170.63h2.06v1.55h-2.06zM89.66 172.67h1.93v1.55h-1.93zM128.45 172.67h2.21v1.55h-2.21zM93.77 174.72h2.08v1.55h-2.08zM88.54 176.75h1.68v1.55h-1.68zM126.08 176.75h1.59v1.55h-1.59zM85.34 178.79h2.26v1.55h-2.26zM123.76 178.79h1.44v1.55h-1.44zM118.88 180.84h1.32v1.55h-1.32zM107.09 182.88h1.34v1.55h-1.34zM93.58 184.91h1.66v1.55h-1.66zM131.46 184.91h1.4v1.55h-1.4zM86.26 186.95h1.59v1.55h-1.59zM124.35 186.95h2.23v1.55h-2.23zM89.13 189h1.43v1.55h-1.43zM127.7 189h1.62v1.55h-1.62zM94.28 191.03h1.86v1.55h-1.86zM130.81 191.03h1.74v1.55h-1.74zM95.84 195.12h1.49v1.55h-1.49zM133.74 195.12h1.43v1.55h-1.43zM89.84 197.16h1.83v1.55h-1.83zM129.57 197.16h2.07v1.55h-2.07zM92.39 199.19h2.17v1.55h-2.17zM128.62 199.19h1.65v1.55h-1.65zM99.84 201.23h2.19v1.55h-2.19zM89.24 203.28h1.22v1.55h-1.22zM126.61 203.28h2.26v1.55h-2.26zM85.08 205.31h1.31v1.55h-1.31zM121.46 205.31h1.63v1.55h-1.63zM90.14 207.35h1.56v1.55h-1.56zM126.97 207.35h2.2v1.55h-2.2zM90.37 264.48h0.46v1.55h-0.46zM89.27 268.56h1.12v1.55h-1.12zM86.83 270.6h2.19v1.55h-2.19zM86.06 272.64h1.08v1.55h-1.08zM91.74 274.68h1.54v1.55h-1.54zM92.04 276.72h0.86v1.55h-0.86zM92.05 278.76h1.33v1.55h-1.33zM96.51 282.84h1.65v1.55h-1.65zM95.3 286.92h0.88v1.55h-0.88zM92.53 288.96h1.62v1.55h-1.62zM92.23 291h1.4v1.55h-1.4zM98.04 293.04h2.46v1.55h-2.46zM94.24 295.08h2.33v1.55h-2.33zM88.4 297.12h2.28v1.55h-2.28zM97.39 299.16h2.33v1.55h-2.33zM84.17 301.2h1.03v1.55h-1.03zM109.16 303.24h1.05v1.55h-1.05zM102.76 305.28h1.57v1.55h-1.57zM113.26 307.32h1.58v1.55h-1.58zM96.99 319.56h0.91v1.55h-0.91zM114.41 321.6h1.26v1.55h-1.26zM90.52 323.64h1.92v1.55h-1.92zM113.47 325.68h1.06v1.55h-1.06zM94.32 327.72h2.47v1.55h-2.47zM96.03 329.76h1.49v1.55h-1.49zM128.65 329.76h1.07v1.55h-1.07zM113.15 331.8h1.29v1.55h-1.29zM93.35 333.84h2.48v1.55h-2.48zM121.19 335.88h1.95v1.55h-1.95zM100.89 337.92h0.95v1.55h-0.95zM99.54 339.96h2.41v1.55h-2.41zM121.14 342h1.63v1.55h-1.63zM119.49 344.04h1.41v1.55h-1.41zM102.03 346.08h0.92v1.55h-0.92zM118.61 348.12h1.02v1.55h-1.02zM107.4 350.16h2.44v1.55h-2.44zM108.95 352.2h1.56v1.55h-1.56zM108.43 354.24h2v1.55h-2zM115.64 356.28h2.34v1.55h-2.34zM119.36 358.32h2.29v1.55h-2.29zM79.36 360.36h1.74v1.55h-1.74zM117.86 360.36h1.94v1.55h-1.94z"/>
<path fill="#ffff14" stroke="#000" stroke-width="0.07" d="M90.75 97.19h1.67v1.55h-1.67zM92.47 99.23h2.09v1.55h-2.09zM84.57 101.27h1.46v1.55h-1.46zM97.61 103.31h0.41v1.55h-0.41zM88.84 105.35h1.47v1.55h-1.47zM93.95 111.47h1.92v1.55h-1.92zM90.04 113.52h2.19v1.55h-2.19zM88.73 115.55h1.51v1.55h-1.51zM88.35 117.59h1.93v1.55h-1.93zM93.41 119.63h2.01v1.55h-2.01zM94.82 121.67h1.25v1.55h-1.25zM95.21 123.72h1.9v1.55h-1.9zM89.36 125.75h1.41v1.55h-1.41zM87.87 127.79h1.26v1.55h-1.26zM91.14 129.84h2.23v1.55h-2.23zM92.83 133.91h1.23v1.55h-1.23zM111.52 135.96h2.16v1.55h-2.16zM98.92 138h2.09v1.55h-2.09zM87.98 140.03h1.86v1.55h-1.86zM123.93 140.03h1.74v1.55h-1.74zM94.44 142.07h1.92v1.55h-1.92zM118.98 144.12h1.81v1.55h-1.81zM93.85 146.16h1.57v1.55h-1.57zM89.09 148.19h1.88v1.55h-1.88zM127.91 148.19h2.09v1.55h-2.09zM96.48 150.23h1.61v1.55h-1.61zM107.96 154.31h2.23v1.55h-2.23zM90.63 156.35h2v1.55h-2zM128.05 156.35h1.46v1.55h-1.46zM94.74 158.4h2.1v1.55h-2.1zM88.92 160.44h1.71v1.55h-1.71zM128.26 160.44h1.32v1.55h-1.32zM88.97 162.47h1.26v1.55h-1.26zM129.95 162.47h1.12v1.55h-1.12zM89.07 164.51h1.41v1.55h-1.41zM126.65 164.51h1.27v1.55h-1.27zM87.03 166.56h1.64v1.55h-1.64zM126.2 166.56h2.02v1.55h-2.02zM90.42 168.59h1.78v1.55h-1.78zM126.85 168.59h1.9v1.55h-1.9zM90.47 170.63h1.81v1.55h-1.81zM91.59 172.67h1.35v1.55h-1.35zM130.65 172.67h1.97v1.55h-1.97zM95.85 174.72h1.83v1.55h-1.83zM90.22 176.75h1.28v1.55h-1.28zM127.67 176.75h1.3v1.55h-1.3zM87.6 178.79h1.6v1.55h-1.6zM125.21 178.79h1.96v1.55h-1.96zM120.2 180.84h1.71v1.55h-1.71zM108.44 182.88h2.12v1.55h-2.12zM95.25 184.91h2.04v1.55h-2.04zM132.86 184.91h1.25v1.55h-1.25zM87.85 186.95h1.83v1.55h-1.83zM126.58 186.95h1.43v1.55h-1.43zM90.57 189h1.43v1.55h-1.43zM129.32 189h1.79v1.55h-1.79zM96.13 191.03h2.17v1.55h-2.17zM132.54 191.03h2.14v1.55h-2.14zM97.33 195.12h1.86v1.55h-1.86zM91.66 197.16h1.57v1.55h-1.57zM131.64 197.16h1.74v1.55h-1.74zM94.57 199.19h1.62v1.55h-1.62zM130.27 199.19h2.05v1.55h-2.05zM102.03 201.23h2.11v1.55h-2.11zM90.46 203.28h2.05v1.55h-2.05zM128.87 203.28h1.83v1.55h-1.83zM86.38 205.31h1.79v1.55h-1.79zM123.09 205.31h1.9v1.55h-1.9zM91.7 207.35h1.19v1.55h-1.19zM129.17 207.35h1.64v1.55h-1.64zM90.38 268.56h1.93v1.55h-1.93zM89.02 270.6h1.46v1.55h-1.46zM87.14 272.64h2.05v1.55h-2.05zM93.28 274.68h1.16v1.55h-1.16zM92.89 276.72h1.11v1.55h-1.11zM93.38 278.76h1.36v1.55h-1.36zM98.16 282.84h2.18v1.55h-2.18zM96.18 286.92h1.55v1.55h-1.55zM94.14 288.96h1.82v1.55h-1.82zM93.63 291h1.41v1.55h-1.41zM100.5 293.04h1.18v1.55h-1.18zM96.57 295.08h2.31v1.55h-2.31zM90.68 297.12h1.64v1.55h-1.64zM99.72 299.16h1.02v1.55h-1.02zM85.2 301.2h1.52v1.55h-1.52zM110.21 303.24h1.38v1.55h-1.38zM104.32 305.28h1.77v1.55h-1.77zM97.9 319.56h1.47v1.55h-1.47zM115.67 321.6h1.24v1.55h-1.24zM92.44 323.64h2.03v1.55h-2.03zM114.53 325.68h0.9v1.55h-0.9zM96.79 327.72h2.38v1.55h-2.38zM97.52 329.76h1.97v1.55h-1.97zM114.44 331.8h2.3v1.55h-2.3zM95.82 333.84h2.13v1.55h-2.13zM123.14 335.88h1.99v1.55h-1.99zM101.84 337.92h1.26v1.55h-1.26zM101.95 339.96h1.41v1.55h-1.41zM122.77 342h2.44v1.55h-2.44zM120.9 344.04h1.34v1.55h-1.34zM102.95 346.08h1.72v1.55h-1.72zM119.63 348.12h1.17v1.55h-1.17zM109.84 350.16h1.79v1.55h-1.79zM110.51 352.2h1.95v1.55h-1.95zM110.43 354.24h2.1v1.55h-2.1zM117.98 356.28h2.24v1.55h-2.24zM121.65 358.32h0.81v1.55h-0.81zM81.11 360.36h1.83v1.55h-1.83zM119.8 360.36h0.95v1.55h-0.95z"/>
<path fill="#ff9632" stroke="#000" stroke-width="0.07" d="M92.42 97.19h1.9v1.55h-1.9zM94.57 99.23h2.12v1.55h-2.12zM86.02 101.27h2.02v1.55h-2.02zM90.31 105.35h1.68v1.55h-1.68zM95.87 111.47h1.62v1.55h-1.62zM92.24 113.52h1.46v1.55h-1.46zM90.24 115.55h1.79v1.55h-1.79zM90.27 117.59h1.76v1.55h-1.76zM95.41 119.63h1.68v1.55h-1.68zM96.07 121.67h1.4v1.55h-1.4zM97.12 123.72h2.21v1.55h-2.21zM90.77 125.75h1.57v1.55h-1.57zM89.13 127.79h2.07v1.55h-2.07zM93.37 129.84h1.38v1.55h-1.38zM94.06 133.91h1.97v1.55h-1.97zM113.68 135.96h1.64v1.55h-1.64zM101 138h1.24v1.55h-1.24zM89.84 140.03h1.52v1.55h-1.52zM125.67 140.03h1.22v1.55h-1.22zM96.36 142.07h1.96v1.55h-1.96zM120.79 144.12h1.58v1.55h-1.58zM95.42 146.16h1.3v1.55h-1.3zM90.96 148.19h1.88v1.55h-1.88zM98.09 150.23h1.83v1.55h-1.83zM110.18 154.31h1.82v1.55h-1.82zM92.62 156.35h1.88v1.55h-1.88zM129.51 156.35h1.54v1.55h-1.54zM96.85 158.4h1.66v1.55h-1.66zM90.63 160.44h2.23v1.55h-2.23zM129.58 160.44h1.51v1.55h-1.51zM90.24 162.47h2.05v1.55h-2.05zM90.49 164.51h1.27v1.55h-1.27zM127.92 164.51h2.09v1.55h-2.09zM88.67 166.56h2.22v1.55h-2.22zM128.21 166.56h1.42v1.55h-1.42zM92.2 168.59h1.62v1.55h-1.62zM128.75 168.59h2.12v1.55h-2.12zM92.28 170.63h2.17v1.55h-2.17zM92.94 172.67h2v1.55h-2zM132.62 172.67h1.69v1.55h-1.69zM97.68 174.72h1.52v1.55h-1.52zM91.51 176.75h2.05v1.55h-2.05zM128.98 176.75h1.87v1.55h-1.87zM89.19 178.79h1.22v1.55h-1.22zM127.17 178.79h1.37v1.55h-1.37zM121.91 180.84h1.37v1.55h-1.37zM110.56 182.88h1.48v1.55h-1.48zM97.28 184.91h2.2v1.55h-2.2zM89.68 186.95h1.19v1.55h-1.19zM128.01 186.95h1.39v1.55h-1.39zM92 189h1.91v1.55h-1.91zM131.11 189h1.54v1.55h-1.54zM98.31 191.03h1.86v1.55h-1.86zM134.68 191.03h1.98v1.55h-1.98zM99.18 195.12h1.31v1.55h-1.31zM93.23 197.16h2.21v1.55h-2.21zM133.38 197.16h1.31v1.55h-1.31zM96.18 199.19h1.3v1.55h-1.3zM132.32 199.19h1.89v1.55h-1.89zM104.13 201.23h1.53v1.55h-1.53zM92.51 203.28h1.45v1.55h-1.45zM130.69 203.28h1.66v1.55h-1.66zM88.18 205.31h1.58v1.55h-1.58zM124.98 205.31h1.94v1.55h-1.94zM92.89 207.35h2.08v1.55h-2.08zM130.82 207.35h2.19v1.55h-2.19zM92.31 268.56h0.39v1.55h-0.39zM90.48 270.6h1.09v1.55h-1.09zM89.2 272.64h1.37v1.55h-1.37zM94 276.72h1.63v1.55h-1.63zM94.75 278.76h1.61v1.55h-1.61zM97.73 286.92h2.3v1.55h-2.3zM95.97 288.96h2.14v1.55h-2.14zM95.03 291h1.38v1.55h-1.38zM101.69 293.04h2.07v1.55h-2.07zM98.88 295.08h1.45v1.55h-1.45zM92.32 297.12h2.45v1.55h-2.45zM100.74 299.16h1.31v1.55h-1.31zM86.72 301.2h1.1v1.55h-1.1zM106.09 305.28h1.6v1.55h-1.6zM99.37 319.56h1.03v1.55h-1.03zM116.91 321.6h1.33v1.55h-1.33zM94.46 323.64h0.81v1.55h-0.81zM115.42 325.68h1.97v1.55h-1.97zM99.17 327.72h1.68v1.55h-1.68zM99.49 329.76h1.5v1.55h-1.5zM116.74 331.8h0.94v1.55h-0.94zM97.95 333.84h1.61v1.55h-1.61zM125.14 335.88h1.46v1.55h-1.46zM103.09 337.92h1.98v1.55h-1.98zM103.36 339.96h1.91v1.55h-1.91zM125.21 342h1.41v1.55h-1.41zM122.23 344.04h2.13v1.55h-2.13zM104.67 346.08h2.07v1.55h-2.07zM120.81 348.12h2.23v1.55h-2.23zM111.63 350.16h1.8v1.55h-1.8zM112.46 352.2h1.99v1.55h-1.99zM112.53 354.24h1.38v1.55h-1.38zM120.22 356.28h1.37v1.55h-1.37zM122.46 358.32h1.75v1.55h-1.75zM82.94 360.36h2.13v1.55h-2.13zM120.75 360.36h1.2v1.55h-1.2z"/>
<path fill="#b4b4c8" stroke="#000" stroke-width="0.07" d="M94.31 97.19h1.89v1.55h-1.89zM88.04 101.27h1.29v1.55h-1.29zM91.99 105.35h1.27v1.55h-1.27zM97.5 111.47h1.97v1.55h-1.97zM93.69 113.52h1.47v1.55h-1.47zM92.03 115.55h1.61v1.55h-1.61zM92.03 117.59h2.04v1.55h-2.04zM97.09 119.63h1.78v1.55h-1.78zM97.47 121.67h2.14v1.55h-2.14zM99.32 123.72h1.35v1.55h-1.35zM92.35 125.75h2.07v1.55h-2.07zM91.2 127.79h1.3v1.55h-1.3zM94.74 129.84h1.33v1.55h-1.33zM96.03 133.91h2.17v1.55h-2.17zM115.32 135.96h2.07v1.55h-2.07zM102.24 138h2.17v1.55h-2.17zM91.36 140.03h1.64v1.55h-1.64zM98.33 142.07h1.43v1.55h-1.43zM122.36 144.12h2.01v1.55h-2.01zM96.73 146.16h1.57v1.55h-1.57zM92.85 148.19h1.63v1.55h-1.63zM99.92 150.23h1.6v1.55h-1.6zM112.01 154.31h2.22v1.55h-2.22zM94.51 156.35h1.56v1.55h-1.56zM131.05 156.35h0.69v1.55h-0.69zM98.51 158.4h1.43v1.55h-1.43zM92.87 160.44h1.23v1.55h-1.23zM92.28 162.47h1.4v1.55h-1.4zM91.76 164.51h1.5v1.55h-1.5zM130.01 164.51h1.56v1.55h-1.56zM90.89 166.56h1.27v1.55h-1.27zM129.63 166.56h1.66v1.55h-1.66zM93.83 168.59h1.8v1.55h-1.8zM94.45 170.63h1.67v1.55h-1.67zM94.94 172.67h1.5v1.55h-1.5zM99.2 174.72h1.65v1.55h-1.65zM93.56 176.75h2.02v1.55h-2.02zM130.84 176.75h2.03v1.55h-2.03zM90.41 178.79h1.23v1.55h-1.23zM128.54 178.79h2.2v1.55h-2.2zM123.28 180.84h1.45v1.55h-1.45zM112.03 182.88h1.63v1.55h-1.63zM99.48 184.91h1.5v1.55h-1.5zM90.87 186.95h1.75v1.55h-1.75zM129.39 186.95h1.3v1.55h-1.3zM93.91 189h1.68v1.55h-1.68zM132.65 189h1.35v1.55h-1.35zM100.17 191.03h1.86v1.55h-1.86zM100.49 195.12h2.1v1.55h-2.1zM95.43 197.16h1.91v1.55h-1.91zM134.69 197.16h2.15v1.55h-2.15zM97.48 199.19h1.21v1.55h-1.21zM134.2 199.19h1.92v1.55h-1.92zM105.66 201.23h2.15v1.55h-2.15zM93.96 203.28h1.33v1.55h-1.33zM132.35 203.28h2.25v1.55h-2.25zM89.75 205.31h1.73v1.55h-1.73zM126.92 205.31h1.46v1.55h-1.46zM94.98 207.35h2.02v1.55h-2.02zM133 207.35h1.93v1.55h-1.93zM91.57 270.6h0.41v1.55h-0.41zM90.57 272.64h2.08v1.55h-2.08zM96.36 278.76h1.18v1.55h-1.18zM100.03 286.92h1.1v1.55h-1.1zM98.11 288.96h1.09v1.55h-1.09zM96.41 291h1.94v1.55h-1.94zM103.76 293.04h0.47v1.55h-0.47zM100.34 295.08h1.16v1.55h-1.16zM94.77 297.12h2.13v1.55h-2.13zM102.05 299.16h1.64v1.55h-1.64zM87.82 301.2h1.95v1.55h-1.95zM107.69 305.28h1.89v1.55h-1.89zM100.39 319.56h2.06v1.55h-2.06zM118.24 321.6h1.23v1.55h-1.23zM95.28 323.64h0.91v1.55h-0.91zM117.39 325.68h0.87v1.55h-0.87zM100.86 327.72h1.29v1.55h-1.29zM100.99 329.76h2.21v1.55h-2.21zM117.68 331.8h1.77v1.55h-1.77zM99.56 333.84h1.64v1.55h-1.64zM126.6 335.88h2.12v1.55h-2.12zM105.07 337.92h1.54v1.55h-1.54zM105.27 339.96h1.86v1.55h-1.86zM126.61 342h2.32v1.55h-2.32zM124.37 344.04h1.59v1.55h-1.59zM106.74 346.08h1.94v1.55h-1.94zM123.03 348.12h1.2v1.55h-1.2zM113.43 350.16h0.85v1.55h-0.85zM114.45 352.2h1.56v1.55h-1.56zM113.91 354.24h2.24v1.55h-2.24zM121.59 356.28h1.74v1.55h-1.74zM124.21 358.32h2.05v1.55h-2.05zM85.07 360.36h1.7v1.55h-1.7zM121.95 360.36h2.28v1.55h-2.28z"/>
<path fill="#14a0a0" stroke="#000" stroke-width="0.07" d="M89.33 101.27h2.07v1.55h-2.07zM93.25 105.35h2.19v1.55h-2.19zM99.47 111.47h1.64v1.55h-1.64zM95.17 113.52h1.74v1.55h-1.74zM93.64 115.55h1.37v1.55h-1.37zM94.06 117.59h2.1v1.55h-2.1zM98.87 119.63h1.23v1.55h-1.23zM99.6 121.67h1.88v1.55h-1.88zM100.67 123.72h1.61v1.55h-1.61zM94.42 125.75h2.07v1.55h-2.07zM92.51 127.79h1.96v1.55h-1.96zM96.08 129.84h1.68v1.55h-1.68zM98.2 133.91h2.06v1.55h-2.06zM117.39 135.96h1.63v1.55h-1.63zM104.41 138h1.53v1.55h-1.53zM93 140.03h1.81v1.55h-1.81zM99.75 142.07h2.08v1.55h-2.08zM124.37 144.12h1.66v1.55h-1.66zM98.3 146.16h1.43v1.55h-1.43zM94.48 148.19h1.85v1.55h-1.85zM101.52 150.23h2.1v1.55h-2.1zM114.22 154.31h1.74v1.55h-1.74zM96.07 156.35h1.54v1.55h-1.54zM99.93 158.4h2.24v1.55h-2.24zM94.1 160.44h1.77v1.55h-1.77zM93.68 162.47h1.88v1.55h-1.88zM93.26 164.51h1.84v1.55h-1.84zM92.16 166.56h1.87v1.55h-1.87zM95.63 168.59h1.62v1.55h-1.62zM96.12 170.63h1.21v1.55h-1.21zM96.45 172.67h1.79v1.55h-1.79zM100.85 174.72h2.14v1.55h-2.14zM95.58 176.75h1.44v1.55h-1.44zM132.88 176.75h1.36v1.55h-1.36zM91.64 178.79h1.59v1.55h-1.59zM130.74 178.79h2.2v1.55h-2.2zM124.72 180.84h1.34v1.55h-1.34zM113.66 182.88h1.36v1.55h-1.36zM100.98 184.91h1.58v1.55h-1.58zM92.62 186.95h1.67v1.55h-1.67zM130.69 186.95h1.46v1.55h-1.46zM95.59 189h1.61v1.55h-1.61zM134 189h1.11v1.55h-1.11zM102.03 191.03h2.05v1.55h-2.05zM102.59 195.12h1.93v1.55h-1.93zM97.35 197.16h1.75v1.55h-1.75zM136.84 197.16h1.18v1.55h-1.18zM98.68 199.19h1.22v1.55h-1.22zM136.13 199.19h0.91v1.55h-0.91zM107.81 201.23h2.06v1.55h-2.06zM95.29 203.28h1.4v1.55h-1.4zM134.61 203.28h0.58v1.55h-0.58zM91.48 205.31h1.51v1.55h-1.51zM128.38 205.31h2.1v1.55h-2.1zM97 207.35h1.5v1.55h-1.5zM134.93 207.35h1.98v1.55h-1.98zM97.54 278.76h1.22v1.55h-1.22zM99.21 288.96h2.25v1.55h-2.25zM98.36 291h2.25v1.55h-2.25zM101.49 295.08h2.13v1.55h-2.13zM96.9 297.12h1.6v1.55h-1.6zM103.7 299.16h1.39v1.55h-1.39zM89.77 301.2h1.05v1.55h-1.05zM109.58 305.28h1.59v1.55h-1.59zM102.46 319.56h0.82v1.55h-0.82zM119.46 321.6h2.24v1.55h-2.24zM96.19 323.64h2.4v1.55h-2.4zM118.26 325.68h2.2v1.55h-2.2zM102.15 327.72h1.38v1.55h-1.38zM103.2 329.76h0.93v1.55h-0.93zM119.45 331.8h1.19v1.55h-1.19zM101.2 333.84h2.11v1.55h-2.11zM128.71 335.88h2.13v1.55h-2.13zM106.61 337.92h1.91v1.55h-1.91zM107.13 339.96h1.43v1.55h-1.43zM128.93 342h0.77v1.55h-0.77zM125.96 344.04h0.99v1.55h-0.99zM108.68 346.08h1.49v1.55h-1.49zM124.24 348.12h1.01v1.55h-1.01zM114.29 350.16h1.7v1.55h-1.7zM116.02 352.2h1.37v1.55h-1.37zM116.15 354.24h1.41v1.55h-1.41zM123.33 356.28h1.58v1.55h-1.58zM126.26 358.32h1.18v1.55h-1.18zM86.77 360.36h1.99v1.55h-1.99zM124.23 360.36h2.45v1.55h-2.45z"/>
<path fill="#f5f014" stroke="#000" stroke-width="0.07" d="M91.4 101.27h1.34v1.55h-1.34zM95.44 105.35h2.15v1.55h-2.15zM101.1 111.47h1.59v1.55h-1.59zM96.91 113.52h1.39v1.55h-1.39zM95.01 115.55h1.36v1.55h-1.36zM96.16 117.59h1.29v1.55h-1.29zM100.11 119.63h2.03v1.55h-2.03zM101.49 121.67h1.28v1.55h-1.28zM102.28 123.72h1.42v1.55h-1.42zM96.49 125.75h1.65v1.55h-1.65zM94.46 127.79h1.69v1.55h-1.69zM97.76 129.84h2.14v1.55h-2.14zM100.26 133.91h2.07v1.55h-2.07zM119.02 135.96h1.8v1.55h-1.8zM105.94 138h1.84v1.55h-1.84zM94.81 140.03h1.65v1.55h-1.65zM101.83 142.07h1.84v1.55h-1.84zM126.04 144.12h1.38v1.55h-1.38zM99.73 146.16h1.82v1.55h-1.82zM96.33 148.19h1.73v1.55h-1.73zM103.62 150.23h2.18v1.55h-2.18zM115.97 154.31h1.81v1.55h-1.81zM97.61 156.35h1.36v1.55h-1.36zM102.17 158.4h1.51v1.55h-1.51zM95.87 160.44h1.36v1.55h-1.36zM95.56 162.47h1.96v1.55h-1.96zM95.1 164.51h1.81v1.55h-1.81zM94.03 166.56h1.87v1.55h-1.87zM97.25 168.59h1.31v1.55h-1.31zM97.32 170.63h1.6v1.55h-1.6zM98.23 172.67h1.72v1.55h-1.72zM102.99 174.72h1.59v1.55h-1.59zM97.02 176.75h1.81v1.55h-1.81zM93.22 178.79h1.95v1.55h-1.95zM132.94 178.79h0.67v1.55h-0.67zM126.06 180.84h1.92v1.55h-1.92zM115.02 182.88h1.48v1.55h-1.48zM102.56 184.91h1.23v1.55h-1.23zM94.29 186.95h1.74v1.55h-1.74zM132.15 186.95h2.07v1.55h-2.07zM97.21 189h2.21v1.55h-2.21zM104.08 191.03h1.23v1.55h-1.23zM104.53 195.12h1.5v1.55h-1.5zM99.1 197.16h1.3v1.55h-1.3zM99.9 199.19h1.38v1.55h-1.38zM109.88 201.23h1.52v1.55h-1.52zM96.69 203.28h1.77v1.55h-1.77zM92.99 205.31h1.26v1.55h-1.26zM130.48 205.31h1.57v1.55h-1.57zM98.5 207.35h1.24v1.55h-1.24zM136.91 207.35h0.67v1.55h-0.67zM98.76 278.76h0.58v1.55h-0.58zM100.61 291h1.06v1.55h-1.06zM103.62 295.08h0.84v1.55h-0.84zM98.5 297.12h2.37v1.55h-2.37zM105.09 299.16h2.06v1.55h-2.06zM90.82 301.2h2.04v1.55h-2.04zM111.17 305.28h1.23v1.55h-1.23zM103.27 319.56h1.19v1.55h-1.19zM121.71 321.6h1.73v1.55h-1.73zM98.59 323.64h2.18v1.55h-2.18zM120.46 325.68h1.29v1.55h-1.29zM103.53 327.72h2.06v1.55h-2.06zM104.12 329.76h2.02v1.55h-2.02zM120.64 331.8h1.8v1.55h-1.8zM103.31 333.84h2.33v1.55h-2.33zM130.85 335.88h0.34v1.55h-0.34zM108.52 337.92h2.16v1.55h-2.16zM108.56 339.96h1.68v1.55h-1.68zM126.95 344.04h2.36v1.55h-2.36zM110.17 346.08h2.16v1.55h-2.16zM125.25 348.12h1.27v1.55h-1.27zM115.99 350.16h1.59v1.55h-1.59zM117.39 352.2h1.12v1.55h-1.12zM117.56 354.24h2.29v1.55h-2.29zM124.91 356.28h2.09v1.55h-2.09zM127.44 358.32h2.04v1.55h-2.04zM88.76 360.36h1.91v1.55h-1.91zM126.68 360.36h0.95v1.55h-0.95z"/>
<path fill="#c83296" stroke="#000" stroke-width="0.07" d="M92.74 101.27h1.82v1.55h-1.82zM97.59 105.35h1.29v1.55h-1.29zM102.7 111.47h0.65v1.55h-0.65zM98.3 113.52h1.59v1.55h-1.59zM96.37 115.55h1.41v1.55h-1.41zM97.45 117.59h2.15v1.55h-2.15zM102.14 119.63h1.44v1.55h-1.44zM102.76 121.67h1.43v1.55h-1.43zM103.7 123.72h2.23v1.55h-2.23zM98.14 125.75h1.24v1.55h-1.24zM96.15 127.79h2.02v1.55h-2.02zM99.91 129.84h1.44v1.55h-1.44zM102.33 133.91h1.63v1.55h-1.63zM107.78 138h1.87v1.55h-1.87zM96.46 140.03h1.9v1.55h-1.9zM103.68 142.07h1.46v1.55h-1.46zM127.41 144.12h1.86v1.55h-1.86zM101.54 146.16h1.82v1.55h-1.82zM98.06 148.19h1.26v1.55h-1.26zM105.8 150.23h2.24v1.55h-2.24zM117.77 154.31h1.36v1.55h-1.36zM98.97 156.35h2.09v1.55h-2.09zM103.68 158.4h1.21v1.55h-1.21zM97.23 160.44h2.03v1.55h-2.03zM97.52 162.47h2.06v1.55h-2.06zM96.91 164.51h2.1v1.55h-2.1zM95.9 166.56h1.22v1.55h-1.22zM98.56 168.59h1.24v1.55h-1.24zM98.93 170.63h1.82v1.55h-1.82zM99.96 172.67h1.91v1.55h-1.91zM104.59 174.72h1.92v1.55h-1.92zM98.83 176.75h2.15v1.55h-2.15zM95.17 178.79h1.71v1.55h-1.71zM127.98 180.84h1.2v1.55h-1.2zM116.5 182.88h2.09v1.55h-2.09zM103.79 184.91h1.63v1.55h-1.63zM96.03 186.95h1.32v1.55h-1.32zM134.22 186.95h1.09v1.55h-1.09zM99.41 189h1.21v1.55h-1.21zM105.31 191.03h1.3v1.55h-1.3zM106.03 195.12h1.57v1.55h-1.57zM100.4 197.16h1.59v1.55h-1.59zM101.28 199.19h2.01v1.55h-2.01zM111.39 201.23h1.84v1.55h-1.84zM98.47 203.28h2.03v1.55h-2.03zM94.25 205.31h1.52v1.55h-1.52zM132.04 205.31h1.86v1.55h-1.86zM99.73 207.35h2.1v1.55h-2.1zM101.67 291h2.45v1.55h-2.45zM104.46 295.08h0.86v1.55h-0.86zM100.87 297.12h2.09v1.55h-2.09zM107.15 299.16h1.58v1.55h-1.58zM92.86 301.2h1.64v1.55h-1.64zM104.46 319.56h1.14v1.55h-1.14zM100.77 323.64h0.86v1.55h-0.86zM121.76 325.68h1.19v1.55h-1.19zM105.59 327.72h1.63v1.55h-1.63zM106.15 329.76h2.03v1.55h-2.03zM122.44 331.8h2.12v1.55h-2.12zM105.63 333.84h2.06v1.55h-2.06zM110.68 337.92h1v1.55h-1zM110.24 339.96h1.94v1.55h-1.94zM129.3 344.04h1.85v1.55h-1.85zM112.33 346.08h0.99v1.55h-0.99zM126.52 348.12h0.86v1.55h-0.86zM117.57 350.16h1.61v1.55h-1.61zM118.51 352.2h1.48v1.55h-1.48zM119.84 354.24h1.62v1.55h-1.62zM127 356.28h2.32v1.55h-2.32zM129.48 358.32h1.89v1.55h-1.89zM90.67 360.36h1.83v1.55h-1.83zM127.64 360.36h1.26v1.55h-1.26z"/>
<path fill="#0a1cff" stroke="#000" stroke-width="0.17" d="M208.8 11.57h8.3v1.85h-8.3zM208.8 14.31h9.1v1.85h-9.1zM208.8 17.04h5.2v1.85h-5.2zM208.8 19.78h25.6v1.85h-25.6zM208.8 22.51h29.3v1.85h-29.3zM208.8 25.25h24.37v1.85h-24.37zM208.8 27.98h8.23v1.85h-8.23zM208.8 30.72h7.75v1.85h-7.75zM208.8 33.45h8.71v1.85h-8.71zM208.8 36.19h9.75v1.85h-9.75zM208.8 38.92h12.22v1.85h-12.22zM208.8 41.66h25.21v1.85h-25.21zM208.8 44.4h5.34v1.85h-5.34zM208.8 47.13h8.25v1.85h-8.25zM208.8 49.87h16.3v1.85h-16.3zM208.8 52.6h7.58v1.85h-7.58zM208.8 55.34h10.32v1.85h-10.32zM208.8 58.07h6.45v1.85h-6.45zM208.8 60.8h7.57v1.85h-7.57zM208.8 63.54h7.39v1.85h-7.39zM208.8 66.27h10.17v1.85h-10.17zM208.8 69.01h10.23v1.85h-10.23zM208.8 71.74h11.44v1.85h-11.44zM208.8 74.48h16.71v1.85h-16.71zM208.8 77.22h14.89v1.85h-14.89zM208.8 79.95h5.81v1.85h-5.81zM208.8 82.69h8.57v1.85h-8.57zM208.8 85.42h9.47v1.85h-9.47zM208.8 88.16h9.33v1.85h-9.33zM208.8 90.89h14.35v1.85h-14.35zM208.8 93.62h12.82v1.85h-12.82zM208.8 96.36h12.66v1.85h-12.66zM208.8 99.09h13.82v1.85h-13.82zM208.8 101.83h10.74v1.85h-10.74zM208.8 104.56h13.48v1.85h-13.48zM208.8 107.3h5.54v1.85h-5.54zM208.8 110.03h11.86v1.85h-11.86zM208.8 112.77h10.01v1.85h-10.01zM208.8 115.5h22.61v1.85h-22.61zM208.8 118.24h6.86v1.85h-6.86zM208.8 120.97h9.33v1.85h-9.33zM208.8 123.71h9.6v1.85h-9.6zM208.8 126.44h7.5v1.85h-7.5zM208.8 129.18h12.22v1.85h-12.22zM208.8 131.91h25.46v1.85h-25.46zM208.8 134.65h31.2v1.85h-31.2zM208.8 137.38h12.45v1.85h-12.45zM208.8 140.12h25.7v1.85h-25.7zM208.8 142.85h6.95v1.85h-6.95zM208.8 145.59h41.2v1.85h-41.2zM208.8 148.32h50.45v1.85h-50.45zM208.8 151.06h45.45v1.85h-45.45zM208.8 153.79h26.2v1.85h-26.2zM208.8 156.53h30.45v1.85h-30.45zM208.8 159.26h61.2v1.85h-61.2zM208.8 162h28.2v1.85h-28.2zM208.8 164.73h19.95v1.85h-19.95zM208.8 167.47h39.2v1.85h-39.2zM208.8 170.2h6.95v1.85h-6.95zM208.8 172.94h11.2v1.85h-11.2zM208.8 175.67h16.7v1.85h-16.7zM208.8 178.41h16.7v1.85h-16.7zM208.8 181.14h12.45v1.85h-12.45zM208.8 183.88h37.45v1.85h-37.45zM208.8 186.61h25.7v1.85h-25.7zM208.8 189.35h41.2v1.85h-41.2zM208.8 192.08h45.45v1.85h-45.45zM208.8 194.82h43.2v1.85h-43.2zM208.8 197.55h4.95v1.85h-4.95zM208.8 200.29h9.95v1.85h-9.95zM208.8 203.02h46.2v1.85h-46.2zM208.8 205.76h22.95v1.85h-22.95zM208.8 208.49h12.45v1.85h-12.45zM208.8 211.23h22.45v1.85h-22.45zM208.8 213.96h23.7v1.85h-23.7zM208.8 216.7h20.7v1.85h-20.7zM208.8 219.43h7.45v1.85h-7.45zM208.8 222.17h14.95v1.85h-14.95zM208.8 224.9h31.2v1.85h-31.2zM208.8 227.64h36.2v1.85h-36.2zM208.8 230.37h17.45v1.85h-17.45zM208.8 233.11h41.2v1.85h-41.2zM208.8 235.84h13.7v1.85h-13.7zM208.8 238.58h19.95v1.85h-19.95zM208.8 241.31h32.45v1.85h-32.45zM208.8 244.05h21.2v1.85h-21.2zM208.8 246.78h21.2v1.85h-21.2zM208.8 249.52h23.7v1.85h-23.7zM208.8 252.25h24.95v1.85h-24.95zM208.8 254.99h65.45v1.85h-65.45zM208.8 257.72h29.95v1.85h-29.95zM208.8 260.46h29.95v1.85h-29.95zM208.8 263.19h7.45v1.85h-7.45zM259.11 263.19h1.73v1.85h-1.73zM208.8 265.93h17.45v1.85h-17.45zM208.8 268.66h19.2v1.85h-19.2zM208.8 271.4h5.8v1.85h-5.8zM263.09 271.4h1.82v1.85h-1.82zM208.8 274.13h32.7v1.85h-32.7zM208.8 276.87h37.5v1.85h-37.5zM208.8 279.6h12.5v1.85h-12.5zM260.36 279.6h1.25v1.85h-1.25zM208.8 282.34h31.8v1.85h-31.8zM208.8 285.07h15.4v1.85h-15.4zM267.04 285.07h2.04v1.85h-2.04zM208.8 287.81h10.6v1.85h-10.6zM260.41 287.81h1.33v1.85h-1.33zM208.8 290.54h43.3v1.85h-43.3zM208.8 293.28h10.6v1.85h-10.6zM266.55 293.28h1.47v1.85h-1.47zM208.8 296.01h38.5v1.85h-38.5zM208.8 298.75h24.1v1.85h-24.1zM268.49 298.75h1.55v1.85h-1.55zM208.8 301.48h35.6v1.85h-35.6zM208.8 304.22h49.1v1.85h-49.1zM208.8 306.95h57.7v1.85h-57.7zM208.8 309.69h34.7v1.85h-34.7zM208.8 312.42h63.5v1.85h-63.5zM208.8 315.16h12.5v1.85h-12.5zM260.43 315.16h1.66v1.85h-1.66zM208.8 317.89h23.1v1.85h-23.1zM285.19 317.89h1.25v1.85h-1.25zM208.8 320.63h52v1.85h-52zM208.8 323.36h41.4v1.85h-41.4zM287.72 323.36h1.88v1.85h-1.88zM208.8 326.1h10.6v1.85h-10.6zM266.64 326.1h2.09v1.85h-2.09zM208.8 328.83h41.4v1.85h-41.4zM208.8 331.57h35.6v1.85h-35.6zM208.8 334.3h43.3v1.85h-43.3zM287.95 334.3h1.73v1.85h-1.73zM208.8 337.04h45.2v1.85h-45.2zM290.65 337.04h1.89v1.85h-1.89zM208.8 339.77h38.9v1.85h-38.9zM286.91 339.77h1.79v1.85h-1.79zM208.8 342.51h54.9v1.85h-54.9zM208.8 345.24h27v1.85h-27zM278.71 345.24h1.5v1.85h-1.5zM208.8 347.98h37.5v1.85h-37.5zM208.8 350.71h8.7v1.85h-8.7zM262.67 350.71h1.79v1.85h-1.79zM208.8 353.45h36.6v1.85h-36.6zM281.93 353.45h1.39v1.85h-1.39zM208.8 356.18h25v1.85h-25zM276.56 356.18h1.23v1.85h-1.23zM208.8 358.92h38.9v1.85h-38.9zM297.71 358.92h1.35v1.85h-1.35z"/>
<path fill="#ff0a0a" stroke="#000" stroke-width="0.17" d="M214 17.04h2.9v1.85h-2.9zM234.4 19.78h10.35v1.85h-10.35zM238.1 22.51h9.4v1.85h-9.4zM233.17 25.25h12.02v1.85h-12.02zM217.03 27.98h6.21v1.85h-6.21zM216.55 30.72h6.39v1.85h-6.39zM217.51 33.45h4.47v1.85h-4.47zM218.55 36.19h6.46v1.85h-6.46zM221.02 38.92h4.28v1.85h-4.28zM234.01 41.66h4.12v1.85h-4.12zM214.14 44.4h2.81v1.85h-2.81zM217.05 47.13h6.98v1.85h-6.98zM225.1 49.87h6.68v1.85h-6.68zM216.38 52.6h4.18v1.85h-4.18zM219.12 55.34h5.02v1.85h-5.02zM215.25 58.07h6.98v1.85h-6.98zM216.37 60.8h7.19v1.85h-7.19zM216.19 63.54h3.36v1.85h-3.36zM218.97 66.27h7.75v1.85h-7.75zM219.03 69.01h9.35v1.85h-9.35zM220.24 71.74h7.98v1.85h-7.98zM225.51 74.48h6.5v1.85h-6.5zM223.69 77.22h5.27v1.85h-5.27zM214.61 79.95h5.32v1.85h-5.32zM217.37 82.69h7.02v1.85h-7.02zM218.27 85.42h7.07v1.85h-7.07zM218.13 88.16h6.34v1.85h-6.34zM223.15 90.89h4.11v1.85h-4.11zM221.62 93.62h2.39v1.85h-2.39zM221.46 96.36h3.19v1.85h-3.19zM222.62 99.09h2.39v1.85h-2.39zM219.54 101.83h6.3v1.85h-6.3zM222.28 104.56h11.89v1.85h-11.89zM214.34 107.3h5.61v1.85h-5.61zM220.66 110.03h6.05v1.85h-6.05zM218.81 112.77h13.95v1.85h-13.95zM231.41 115.5h4.8v1.85h-4.8zM215.66 118.24h4.17v1.85h-4.17zM218.13 120.97h5.85v1.85h-5.85zM218.4 123.71h5.91v1.85h-5.91zM216.3 126.44h8.85v1.85h-8.85zM221.02 129.18h5.75v1.85h-5.75zM234.26 131.91h7.93v1.85h-7.93zM215.75 170.2h4.25v1.85h-4.25zM221.25 181.14h3.75v1.85h-3.75zM213.75 197.55h5.5v1.85h-5.5zM218.75 200.29h5.5v1.85h-5.5zM221.25 208.49h5.75v1.85h-5.75zM231.25 211.23h2.75v1.85h-2.75zM232.5 213.96h3.5v1.85h-3.5zM229.5 216.7h13v1.85h-13zM216.25 219.43h6.25v1.85h-6.25zM223.75 222.17h6.25v1.85h-6.25zM240 224.9h5v1.85h-5zM245 227.64h5v1.85h-5zM226.25 230.37h7.5v1.85h-7.5zM250 233.11h2.5v1.85h-2.5zM222.5 235.84h8.75v1.85h-8.75zM228.75 238.58h6.75v1.85h-6.75zM241.25 241.31h6.25v1.85h-6.25zM230 244.05h4.5v1.85h-4.5zM230 246.78h4v1.85h-4zM232.5 249.52h7.5v1.85h-7.5zM233.75 252.25h4.25v1.85h-4.25zM238.75 257.72h6.25v1.85h-6.25zM238.75 260.46h3.75v1.85h-3.75zM216.25 263.19h3.75v1.85h-3.75zM260.84 263.19h1.81v1.85h-1.81zM226.25 265.93h10v1.85h-10zM228 268.66h9.7v1.85h-9.7zM214.6 271.4h6.7v1.85h-6.7zM264.91 271.4h1.59v1.85h-1.59zM241.5 274.13h2v1.85h-2zM246.3 276.87h2.9v1.85h-2.9zM221.3 279.6h3.9v1.85h-3.9zM261.62 279.6h1.68v1.85h-1.68zM240.6 282.34h14.4v1.85h-14.4zM224.2 285.07h5.8v1.85h-5.8zM269.07 285.07h1.75v1.85h-1.75zM219.4 287.81h3.9v1.85h-3.9zM261.74 287.81h1.88v1.85h-1.88zM252.1 290.54h1.9v1.85h-1.9zM219.4 293.28h6.8v1.85h-6.8zM268.01 293.28h1.74v1.85h-1.74zM247.3 296.01h3.9v1.85h-3.9zM232.9 298.75h3.8v1.85h-3.8zM270.04 298.75h1.79v1.85h-1.79zM244.4 301.48h29.8v1.85h-29.8zM257.9 304.22h17.3v1.85h-17.3zM266.5 306.95h1.65v1.85h-1.65zM243.5 309.69h2.8v1.85h-2.8zM272.3 312.42h1.66v1.85h-1.66zM221.3 315.16h4.9v1.85h-4.9zM262.09 315.16h1.49v1.85h-1.49zM231.9 317.89h19.3v1.85h-19.3zM286.44 317.89h1.58v1.85h-1.58zM260.8 320.63h1.42v1.85h-1.42zM250.2 323.36h5.8v1.85h-5.8zM219.4 326.1h4.8v1.85h-4.8zM268.73 326.1h1.5v1.85h-1.5zM250.2 328.83h23.1v1.85h-23.1zM244.4 331.57h26v1.85h-26zM252.1 334.3h4.8v1.85h-4.8zM289.68 334.3h1.96v1.85h-1.96zM254 337.04h3.9v1.85h-3.9zM292.54 337.04h1.83v1.85h-1.83zM247.7 339.77h6.3v1.85h-6.3zM288.7 339.77h1.81v1.85h-1.81zM263.7 342.51h17.3v1.85h-17.3zM235.8 345.24h5.7v1.85h-5.7zM280.21 345.24h1.97v1.85h-1.97zM246.3 347.98h18.3v1.85h-18.3zM217.5 350.71h4.8v1.85h-4.8zM264.46 350.71h1.58v1.85h-1.58zM245.4 353.45h4.8v1.85h-4.8zM283.32 353.45h1.99v1.85h-1.99zM233.8 356.18h6.8v1.85h-6.8zM277.79 356.18h1.4v1.85h-1.4zM247.7 358.92h15v1.85h-15zM299.06 358.92h1.25v1.85h-1.25z"/>
<path fill="#12b030" stroke="#000" stroke-width="0.17" d="M216.9 17.04h2.2v1.85h-2.2zM244.75 19.78h10.25v1.85h-10.25zM247.5 22.51h10v1.85h-10zM245.2 25.25h11.15v1.85h-11.15zM223.24 27.98h3.73v1.85h-3.73zM222.94 30.72h5.02v1.85h-5.02zM221.98 33.45h6.2v1.85h-6.2zM225.01 36.19h2.81v1.85h-2.81zM225.3 38.92h6.66v1.85h-6.66zM238.13 41.66h3.54v1.85h-3.54zM216.95 44.4h3.23v1.85h-3.23zM224.03 47.13h3.1v1.85h-3.1zM231.79 49.87h6.76v1.85h-6.76zM220.57 52.6h4.14v1.85h-4.14zM224.14 55.34h6.34v1.85h-6.34zM222.22 58.07h3.53v1.85h-3.53zM223.56 60.8h3.78v1.85h-3.78zM219.54 63.54h6.24v1.85h-6.24zM226.72 66.27h4.77v1.85h-4.77zM228.38 69.01h4.71v1.85h-4.71zM228.22 71.74h4.48v1.85h-4.48zM232.01 74.48h4.22v1.85h-4.22zM228.95 77.22h4.24v1.85h-4.24zM219.93 79.95h11.27v1.85h-11.27zM224.39 82.69h2.66v1.85h-2.66zM225.34 85.42h5.81v1.85h-5.81zM224.48 88.16h5.34v1.85h-5.34zM227.26 90.89h10.54v1.85h-10.54zM224.02 93.62h2.78v1.85h-2.78zM224.65 96.36h6.88v1.85h-6.88zM225.01 99.09h2.7v1.85h-2.7zM225.84 101.83h2.6v1.85h-2.6zM234.18 104.56h13.96v1.85h-13.96zM219.95 107.3h5v1.85h-5zM226.71 110.03h4.48v1.85h-4.48zM232.76 112.77h5.93v1.85h-5.93zM236.2 115.5h2.88v1.85h-2.88zM219.83 118.24h6.04v1.85h-6.04zM223.97 120.97h2.85v1.85h-2.85zM224.31 123.71h4.52v1.85h-4.52zM225.14 126.44h10.81v1.85h-10.81zM226.77 129.18h4.81v1.85h-4.81zM242.19 131.91h7.73v1.85h-7.73zM254 134.65h5v1.85h-5zM227 137.38h6v1.85h-6zM225 181.14h2.5v1.85h-2.5zM219.25 197.55h4.5v1.85h-4.5zM224.25 200.29h4.5v1.85h-4.5zM227 208.49h3.75v1.85h-3.75zM234 211.23h2.5v1.85h-2.5zM236 213.96h2.5v1.85h-2.5zM242.5 216.7h5v1.85h-5zM222.5 219.43h4.5v1.85h-4.5zM230 222.17h4v1.85h-4zM245 224.9h2.5v1.85h-2.5zM233.75 230.37h3.75v1.85h-3.75zM231.25 235.84h7.5v1.85h-7.5zM235.5 238.58h5.75v1.85h-5.75zM247.5 241.31h3v1.85h-3zM234.5 244.05h4v1.85h-4zM234 246.78h3.5v1.85h-3.5zM240 249.52h3.75v1.85h-3.75zM238 252.25h3.5v1.85h-3.5zM245 257.72h3.5v1.85h-3.5zM242.5 260.46h1.38v1.85h-1.38zM220 263.19h3.75v1.85h-3.75zM262.65 263.19h1.51v1.85h-1.51zM236.25 265.93h8.75v1.85h-8.75zM237.7 268.66h7.7v1.85h-7.7zM221.3 271.4h3.9v1.85h-3.9zM243.5 274.13h1.25v1.85h-1.25zM249.2 276.87h1.97v1.85h-1.97zM225.2 279.6h3.8v1.85h-3.8zM263.29 279.6h1.81v1.85h-1.81zM255 282.34h6.7v1.85h-6.7zM230 285.07h4.8v1.85h-4.8zM270.83 285.07h1.47v1.85h-1.47zM223.3 287.81h3.8v1.85h-3.8zM263.63 287.81h1.72v1.85h-1.72zM254 290.54h1.54v1.85h-1.54zM226.2 293.28h4.8v1.85h-4.8zM269.75 293.28h1.98v1.85h-1.98zM251.2 296.01h1.6v1.85h-1.6zM236.7 298.75h1.35v1.85h-1.35zM271.83 298.75h1.63v1.85h-1.63zM274.2 301.48h2.8v1.85h-2.8zM275.2 304.22h1.65v1.85h-1.65zM268.15 306.95h1.45v1.85h-1.45zM246.3 309.69h1.53v1.85h-1.53zM273.96 312.42h1.31v1.85h-1.31zM226.2 315.16h3.8v1.85h-3.8zM263.59 315.16h2.07v1.85h-2.07zM251.2 317.89h3.8v1.85h-3.8zM288.03 317.89h1.57v1.85h-1.57zM262.22 320.63h1.94v1.85h-1.94zM256 323.36h1.78v1.85h-1.78zM224.2 326.1h4.8v1.85h-4.8zM270.23 326.1h1.44v1.85h-1.44zM273.3 328.83h5.7v1.85h-5.7zM270.4 331.57h1.31v1.85h-1.31zM256.9 334.3h1.57v1.85h-1.57zM291.65 334.3h1.87v1.85h-1.87zM257.9 337.04h2.07v1.85h-2.07zM294.37 337.04h0.63v1.85h-0.63zM254 339.77h1.42v1.85h-1.42zM290.5 339.77h1.77v1.85h-1.77zM281 342.51h1.52v1.85h-1.52zM241.5 345.24h4.5v1.85h-4.5zM282.18 345.24h2v1.85h-2zM264.6 347.98h9.6v1.85h-9.6zM222.3 350.71h3.9v1.85h-3.9zM266.04 350.71h1.5v1.85h-1.5zM250.2 353.45h1.6v1.85h-1.6zM285.31 353.45h1.52v1.85h-1.52zM240.6 356.18h4.4v1.85h-4.4zM279.19 356.18h2.06v1.85h-2.06zM262.7 358.92h2.8v1.85h-2.8zM300.31 358.92h2.04v1.85h-2.04z"/>
<path fill="#a436e0" stroke="#000" stroke-width="0.17" d="M219.1 17.04h2.8v1.85h-2.8zM226.97 27.98h3.88v1.85h-3.88zM227.95 30.72h6.11v1.85h-6.11zM228.18 33.45h2.67v1.85h-2.67zM227.82 36.19h3.83v1.85h-3.83zM231.96 38.92h4.15v1.85h-4.15zM241.67 41.66h4.67v1.85h-4.67zM220.18 44.4h3.8v1.85h-3.8zM227.13 47.13h7.18v1.85h-7.18zM238.55 49.87h8.16v1.85h-8.16zM224.71 52.6h2.46v1.85h-2.46zM230.48 55.34h6.61v1.85h-6.61zM225.75 58.07h4.53v1.85h-4.53zM227.34 60.8h5.03v1.85h-5.03zM225.79 63.54h5.51v1.85h-5.51zM231.5 66.27h3.51v1.85h-3.51zM233.09 69.01h5.36v1.85h-5.36zM232.7 71.74h6.27v1.85h-6.27zM236.23 74.48h4.62v1.85h-4.62zM233.19 77.22h10.28v1.85h-10.28zM231.19 79.95h6.53v1.85h-6.53zM227.05 82.69h6.64v1.85h-6.64zM231.15 85.42h5.57v1.85h-5.57zM229.82 88.16h5.5v1.85h-5.5zM237.8 90.89h8.02v1.85h-8.02zM226.8 93.62h6.48v1.85h-6.48zM231.54 96.36h4.02v1.85h-4.02zM227.71 99.09h5.32v1.85h-5.32zM228.44 101.83h5.99v1.85h-5.99zM248.13 104.56h12.05v1.85h-12.05zM224.95 107.3h8.28v1.85h-8.28zM231.18 110.03h6.86v1.85h-6.86zM238.69 112.77h12.65v1.85h-12.65zM239.08 115.5h4.34v1.85h-4.34zM225.87 118.24h5.44v1.85h-5.44zM226.82 120.97h3.08v1.85h-3.08zM228.83 123.71h2.04v1.85h-2.04zM235.96 126.44h12.93v1.85h-12.93zM231.58 129.18h4.29v1.85h-4.29zM249.92 131.91h8.06v1.85h-8.06zM259 134.65h5v1.85h-5zM233 137.38h6v1.85h-6zM223.75 197.55h3.25v1.85h-3.25zM228.75 200.29h3v1.85h-3zM230.75 208.49h2.25v1.85h-2.25zM236.5 211.23h3v1.85h-3zM238.5 213.96h2.75v1.85h-2.75zM227 219.43h4v1.85h-4zM234 222.17h3.5v1.85h-3.5zM247.5 224.9h2v1.85h-2zM237.5 230.37h3v1.85h-3zM238.75 235.84h4.75v1.85h-4.75zM241.25 238.58h3.75v1.85h-3.75zM250.5 241.31h1.39v1.85h-1.39zM238.5 244.05h3.5v1.85h-3.5zM237.5 246.78h1.9v1.85h-1.9zM243.75 249.52h3.25v1.85h-3.25zM241.5 252.25h1.81v1.85h-1.81zM248.5 257.72h1.37v1.85h-1.37zM243.88 260.46h1.73v1.85h-1.73zM223.75 263.19h3.25v1.85h-3.25zM264.16 263.19h2.09v1.85h-2.09zM245 265.93h4v1.85h-4zM245.4 268.66h4.6v1.85h-4.6zM225.2 271.4h3.8v1.85h-3.8zM244.75 274.13h1.93v1.85h-1.93zM251.17 276.87h1.55v1.85h-1.55zM229 279.6h1.35v1.85h-1.35zM265.11 279.6h1.23v1.85h-1.23zM261.7 282.34h1.61v1.85h-1.61zM234.8 285.07h2.02v1.85h-2.02zM227.1 287.81h1.44v1.85h-1.44zM265.34 287.81h2.02v1.85h-2.02zM255.54 290.54h1.99v1.85h-1.99zM231 293.28h4.8v1.85h-4.8zM271.73 293.28h1.86v1.85h-1.86zM252.8 296.01h1.22v1.85h-1.22zM238.05 298.75h2.02v1.85h-2.02zM273.46 298.75h1.68v1.85h-1.68zM277 301.48h2.01v1.85h-2.01zM276.85 304.22h2.08v1.85h-2.08zM269.6 306.95h1.5v1.85h-1.5zM247.83 309.69h2.05v1.85h-2.05zM275.26 312.42h1.95v1.85h-1.95zM230 315.16h1.2v1.85h-1.2zM265.66 315.16h1.56v1.85h-1.56zM255 317.89h1.79v1.85h-1.79zM264.16 320.63h1.42v1.85h-1.42zM257.78 323.36h1.58v1.85h-1.58zM229 326.1h3.9v1.85h-3.9zM271.67 326.1h1.8v1.85h-1.8zM279 328.83h1.37v1.85h-1.37zM271.71 331.57h1.82v1.85h-1.82zM258.47 334.3h1.94v1.85h-1.94zM293.52 334.3h0.88v1.85h-0.88zM259.97 337.04h1.78v1.85h-1.78zM255.42 339.77h2.03v1.85h-2.03zM292.28 339.77h1.82v1.85h-1.82zM282.52 342.51h1.23v1.85h-1.23zM246 345.24h1.92v1.85h-1.92zM284.18 345.24h1.58v1.85h-1.58zM274.2 347.98h2.09v1.85h-2.09zM226.2 350.71h4.8v1.85h-4.8zM267.54 350.71h1.42v1.85h-1.42zM251.8 353.45h2.09v1.85h-2.09zM286.83 353.45h1.5v1.85h-1.5zM245 356.18h1.49v1.85h-1.49zM281.25 356.18h1.81v1.85h-1.81zM265.5 358.92h1.46v1.85h-1.46zM302.35 358.92h0.75v1.85h-0.75z"/>
<path fill="#ff8212" stroke="#000" stroke-width="0.17" d="M230.84 27.98h4.01v1.85h-4.01zM234.06 30.72h4.86v1.85h-4.86zM230.85 33.45h4.12v1.85h-4.12zM231.65 36.19h4.75v1.85h-4.75zM236.11 38.92h8.8v1.85h-8.8zM246.34 41.66h5.17v1.85h-5.17zM223.98 44.4h3.63v1.85h-3.63zM234.32 47.13h4.09v1.85h-4.09zM246.71 49.87h7.78v1.85h-7.78zM227.17 52.6h4.22v1.85h-4.22zM237.09 55.34h5.97v1.85h-5.97zM230.28 58.07h7.39v1.85h-7.39zM232.38 60.8h5.04v1.85h-5.04zM231.3 63.54h3.19v1.85h-3.19zM235 66.27h6.99v1.85h-6.99zM238.46 69.01h4.36v1.85h-4.36zM238.97 71.74h4.08v1.85h-4.08zM240.85 74.48h5.93v1.85h-5.93zM243.48 77.22h7.64v1.85h-7.64zM237.72 79.95h7.44v1.85h-7.44zM233.7 82.69h4.56v1.85h-4.56zM236.72 85.42h4.72v1.85h-4.72zM235.32 88.16h4.57v1.85h-4.57zM245.82 90.89h6.48v1.85h-6.48zM233.27 93.62h6.47v1.85h-6.47zM235.55 96.36h4.76v1.85h-4.76zM233.04 99.09h3.79v1.85h-3.79zM234.43 101.83h3.39v1.85h-3.39zM260.18 104.56h6.62v1.85h-6.62zM233.23 107.3h5.27v1.85h-5.27zM238.04 110.03h4.08v1.85h-4.08zM251.34 112.77h13.12v1.85h-13.12zM243.42 115.5h2.77v1.85h-2.77zM231.31 118.24h3.75v1.85h-3.75zM229.9 120.97h6.42v1.85h-6.42zM230.87 123.71h5.07v1.85h-5.07zM248.89 126.44h11.39v1.85h-11.39zM235.87 129.18h6.95v1.85h-6.95zM257.99 131.91h4.03v1.85h-4.03zM244 134.65h5v1.85h-5zM264 134.65h4v1.85h-4zM280 134.65h3.75v1.85h-3.75zM239 137.38h6v1.85h-6zM227 197.55h2.25v1.85h-2.25zM233 208.49h2.5v1.85h-2.5zM231 219.43h3.5v1.85h-3.5zM237.5 222.17h1.29v1.85h-1.29zM240.5 230.37h3v1.85h-3zM243.5 235.84h3.5v1.85h-3.5zM245 238.58h3v1.85h-3zM251.89 241.31h1.22v1.85h-1.22zM242 244.05h1.62v1.85h-1.62zM239.4 246.78h1.92v1.85h-1.92zM247 249.52h1.62v1.85h-1.62zM243.31 252.25h1.33v1.85h-1.33zM249.87 257.72h1.48v1.85h-1.48zM245.61 260.46h1.33v1.85h-1.33zM227 263.19h3v1.85h-3zM249 265.93h1.56v1.85h-1.56zM250 268.66h5v1.85h-5zM229 271.4h4v1.85h-4zM246.68 274.13h1.33v1.85h-1.33zM252.72 276.87h1.28v1.85h-1.28zM230.35 279.6h1.36v1.85h-1.36zM266.34 279.6h1.6v1.85h-1.6zM263.31 282.34h1.99v1.85h-1.99zM236.82 285.07h1.7v1.85h-1.7zM228.54 287.81h2.01v1.85h-2.01zM267.36 287.81h1.73v1.85h-1.73zM257.53 290.54h1.75v1.85h-1.75zM235.8 293.28h1.43v1.85h-1.43zM273.59 293.28h2.04v1.85h-2.04zM254.02 296.01h1.27v1.85h-1.27zM240.06 298.75h1.4v1.85h-1.4zM275.14 298.75h1.38v1.85h-1.38zM279.01 301.48h1.62v1.85h-1.62zM278.92 304.22h1.5v1.85h-1.5zM271.1 306.95h1.72v1.85h-1.72zM249.88 309.69h1.77v1.85h-1.77zM277.22 312.42h1.8v1.85h-1.8zM231.2 315.16h1.24v1.85h-1.24zM267.22 315.16h1.83v1.85h-1.83zM256.79 317.89h1.35v1.85h-1.35zM265.58 320.63h1.28v1.85h-1.28zM259.37 323.36h1.48v1.85h-1.48zM232.9 326.1h3.8v1.85h-3.8zM273.48 326.1h1.4v1.85h-1.4zM280.37 328.83h1.8v1.85h-1.8zM273.53 331.57h1.83v1.85h-1.83zM260.41 334.3h1.35v1.85h-1.35zM261.75 337.04h2.05v1.85h-2.05zM257.46 339.77h1.66v1.85h-1.66zM294.1 339.77h1.3v1.85h-1.3zM283.75 342.51h2.07v1.85h-2.07zM247.92 345.24h1.86v1.85h-1.86zM285.77 345.24h1.37v1.85h-1.37zM276.29 347.98h1.55v1.85h-1.55zM231 350.71h3.8v1.85h-3.8zM268.95 350.71h1.77v1.85h-1.77zM253.89 353.45h1.28v1.85h-1.28zM288.33 353.45h1.75v1.85h-1.75zM246.49 356.18h1.5v1.85h-1.5zM283.07 356.18h1.81v1.85h-1.81zM266.96 358.92h1.68v1.85h-1.68z"/>
<path fill="#000000" stroke="#000" stroke-width="0.17" d="M234.86 27.98h3.8v1.85h-3.8zM238.93 30.72h7.36v1.85h-7.36zM234.96 33.45h4.49v1.85h-4.49zM236.4 36.19h4.65v1.85h-4.65zM244.91 38.92h7.2v1.85h-7.2zM251.5 41.66h6.64v1.85h-6.64zM227.61 44.4h4.81v1.85h-4.81zM238.4 47.13h5.69v1.85h-5.69zM254.49 49.87h10.07v1.85h-10.07zM231.38 52.6h3.86v1.85h-3.86zM243.06 55.34h2.56v1.85h-2.56zM237.67 58.07h3.1v1.85h-3.1zM237.42 60.8h7.76v1.85h-7.76zM234.49 63.54h3.15v1.85h-3.15zM242 66.27h3.79v1.85h-3.79zM242.81 69.01h10.22v1.85h-10.22zM243.05 71.74h3.57v1.85h-3.57zM246.78 74.48h5.6v1.85h-5.6zM251.12 77.22h4.68v1.85h-4.68zM245.16 79.95h12.59v1.85h-12.59zM238.26 82.69h3.83v1.85h-3.83zM241.44 85.42h5.8v1.85h-5.8zM239.89 88.16h4.43v1.85h-4.43zM252.31 90.89h7.38v1.85h-7.38zM239.75 93.62h2.73v1.85h-2.73zM240.31 96.36h2.93v1.85h-2.93zM236.83 99.09h3.76v1.85h-3.76zM237.82 101.83h3.64v1.85h-3.64zM238.5 107.3h3.6v1.85h-3.6zM242.12 110.03h4.52v1.85h-4.52zM264.47 112.77h2.89v1.85h-2.89zM246.19 115.5h6.83v1.85h-6.83zM235.06 118.24h5.97v1.85h-5.97zM236.32 120.97h2.55v1.85h-2.55zM235.93 123.71h4.31v1.85h-4.31zM260.28 126.44h6.5v1.85h-6.5zM242.81 129.18h6.53v1.85h-6.53zM262.02 131.91h4.36v1.85h-4.36zM249 134.65h5v1.85h-5zM268 134.65h4v1.85h-4zM245 137.38h6v1.85h-6zM282 137.38h5v1.85h-5zM229.25 197.55h2.5v1.85h-2.5zM235.5 208.49h2.5v1.85h-2.5zM234.5 219.43h3v1.85h-3zM238.79 222.17h1.91v1.85h-1.91zM243.5 230.37h2.5v1.85h-2.5zM247 235.84h1.64v1.85h-1.64zM248 238.58h1.22v1.85h-1.22zM253.11 241.31h1.65v1.85h-1.65zM243.62 244.05h1.34v1.85h-1.34zM241.32 246.78h2.01v1.85h-2.01zM248.62 249.52h1.73v1.85h-1.73zM244.64 252.25h1.61v1.85h-1.61zM251.36 257.72h1.65v1.85h-1.65zM246.94 260.46h1.35v1.85h-1.35zM230 263.19h1.21v1.85h-1.21zM250.56 265.93h1.36v1.85h-1.36zM255 268.66h5v1.85h-5zM233 271.4h4v1.85h-4zM248.01 274.13h1.41v1.85h-1.41zM254 276.87h1.99v1.85h-1.99zM231.71 279.6h1.75v1.85h-1.75zM267.93 279.6h1.47v1.85h-1.47zM265.3 282.34h1.74v1.85h-1.74zM238.53 285.07h1.33v1.85h-1.33zM230.56 287.81h1.91v1.85h-1.91zM269.09 287.81h1.58v1.85h-1.58zM259.27 290.54h1.59v1.85h-1.59zM237.23 293.28h1.9v1.85h-1.9zM275.64 293.28h1.52v1.85h-1.52zM255.3 296.01h1.91v1.85h-1.91zM241.46 298.75h1.97v1.85h-1.97zM276.51 298.75h1.43v1.85h-1.43zM280.63 301.48h2.04v1.85h-2.04zM280.42 304.22h1.51v1.85h-1.51zM272.82 306.95h1.36v1.85h-1.36zM251.65 309.69h1.69v1.85h-1.69zM279.02 312.42h1.82v1.85h-1.82zM232.45 315.16h1.58v1.85h-1.58zM269.05 315.16h1.26v1.85h-1.26zM258.13 317.89h1.85v1.85h-1.85zM266.86 320.63h1.63v1.85h-1.63zM260.84 323.36h1.66v1.85h-1.66zM236.7 326.1h4.8v1.85h-4.8zM274.88 326.1h1.56v1.85h-1.56zM282.18 328.83h1.65v1.85h-1.65zM275.36 331.57h1.72v1.85h-1.72zM261.76 334.3h1.59v1.85h-1.59zM263.81 337.04h1.71v1.85h-1.71zM259.12 339.77h1.54v1.85h-1.54zM285.82 342.51h1.67v1.85h-1.67zM249.78 345.24h1.64v1.85h-1.64zM287.14 345.24h1.9v1.85h-1.9zM277.84 347.98h1.37v1.85h-1.37zM234.8 350.71h1.62v1.85h-1.62zM270.72 350.71h1.67v1.85h-1.67zM255.17 353.45h1.62v1.85h-1.62zM290.09 353.45h1.71v1.85h-1.71zM247.99 356.18h1.96v1.85h-1.96zM284.88 356.18h1.65v1.85h-1.65zM268.64 358.92h1.84v1.85h-1.84z"/>
<path fill="#a0661e" stroke="#000" stroke-width="0.17" d="M238.65 27.98h2.64v1.85h-2.64zM246.28 30.72h2.65v1.85h-2.65zM239.45 33.45h3.94v1.85h-3.94zM241.05 36.19h4.75v1.85h-4.75zM252.11 38.92h3.81v1.85h-3.81zM258.14 41.66h1.28v1.85h-1.28zM232.42 44.4h5.63v1.85h-5.63zM244.09 47.13h2.84v1.85h-2.84zM235.24 52.6h3.42v1.85h-3.42zM245.62 55.34h6.04v1.85h-6.04zM240.77 58.07h6.55v1.85h-6.55zM245.18 60.8h4.43v1.85h-4.43zM237.64 63.54h2.62v1.85h-2.62zM245.78 66.27h4.09v1.85h-4.09zM253.04 69.01h4.34v1.85h-4.34zM246.62 71.74h6.78v1.85h-6.78zM252.38 74.48h4.81v1.85h-4.81zM255.8 77.22h2.64v1.85h-2.64zM257.75 79.95h5.62v1.85h-5.62zM242.09 82.69h2.6v1.85h-2.6zM247.24 85.42h4.56v1.85h-4.56zM244.32 88.16h4.59v1.85h-4.59zM259.69 90.89h3.51v1.85h-3.51zM242.47 93.62h3.45v1.85h-3.45zM243.24 96.36h5v1.85h-5zM240.6 99.09h5.02v1.85h-5.02zM241.46 101.83h5.16v1.85h-5.16zM242.1 107.3h5.53v1.85h-5.53zM246.64 110.03h5.29v1.85h-5.29zM253.03 115.5h2.44v1.85h-2.44zM241.03 118.24h3.98v1.85h-3.98zM238.87 120.97h5.49v1.85h-5.49zM240.25 123.71h5.35v1.85h-5.35zM266.77 126.44h1.81v1.85h-1.81zM249.34 129.18h2.95v1.85h-2.95zM272 134.65h4v1.85h-4zM251 137.38h5v1.85h-5zM237.5 219.43h1.85v1.85h-1.85zM240.71 222.17h1.74v1.85h-1.74zM246 230.37h1.27v1.85h-1.27zM248.64 235.84h1.88v1.85h-1.88zM249.22 238.58h1.78v1.85h-1.78zM254.76 241.31h2.01v1.85h-2.01zM244.96 244.05h1.39v1.85h-1.39zM243.33 246.78h1.35v1.85h-1.35zM250.35 249.52h1.39v1.85h-1.39zM246.25 252.25h1.77v1.85h-1.77zM253.01 257.72h1.37v1.85h-1.37zM248.29 260.46h1.27v1.85h-1.27zM231.21 263.19h1.96v1.85h-1.96zM251.93 265.93h1.3v1.85h-1.3zM260 268.66h4v1.85h-4zM237 271.4h1.78v1.85h-1.78zM249.42 274.13h1.25v1.85h-1.25zM255.99 276.87h1.88v1.85h-1.88zM233.46 279.6h1.81v1.85h-1.81zM267.04 282.34h1.5v1.85h-1.5zM239.86 285.07h1.36v1.85h-1.36zM232.47 287.81h1.91v1.85h-1.91zM270.67 287.81h2.04v1.85h-2.04zM260.87 290.54h1.99v1.85h-1.99zM239.14 293.28h1.39v1.85h-1.39zM277.16 293.28h1.97v1.85h-1.97zM257.21 296.01h2v1.85h-2zM243.44 298.75h1.4v1.85h-1.4zM277.94 298.75h1.67v1.85h-1.67zM282.67 301.48h1.13v1.85h-1.13zM281.93 304.22h1.29v1.85h-1.29zM274.18 306.95h1.89v1.85h-1.89zM253.34 309.69h1.98v1.85h-1.98zM280.83 312.42h2.03v1.85h-2.03zM234.03 315.16h2.07v1.85h-2.07zM270.31 315.16h1.95v1.85h-1.95zM259.99 317.89h1.7v1.85h-1.7zM268.49 320.63h1.55v1.85h-1.55zM262.5 323.36h2.04v1.85h-2.04zM241.5 326.1h1.29v1.85h-1.29zM276.44 326.1h1.82v1.85h-1.82zM283.82 328.83h1.93v1.85h-1.93zM277.08 331.57h2.08v1.85h-2.08zM263.35 334.3h1.36v1.85h-1.36zM265.51 337.04h1.38v1.85h-1.38zM260.65 339.77h1.46v1.85h-1.46zM287.49 342.51h1.8v1.85h-1.8zM251.42 345.24h1.53v1.85h-1.53zM289.03 345.24h1.54v1.85h-1.54zM279.21 347.98h1.9v1.85h-1.9zM236.42 350.71h1.9v1.85h-1.9zM272.39 350.71h1.7v1.85h-1.7zM256.79 353.45h1.39v1.85h-1.39zM291.79 353.45h1.46v1.85h-1.46zM249.95 356.18h1.5v1.85h-1.5zM286.52 356.18h1.63v1.85h-1.63zM270.49 358.92h1.86v1.85h-1.86z"/>
<path fill="#0a0a8c" stroke="#000" stroke-width="0.17" d="M241.3 27.98h4.15v1.85h-4.15zM248.94 30.72h6.75v1.85h-6.75zM243.39 33.45h5.36v1.85h-5.36zM245.8 36.19h4.66v1.85h-4.66zM255.93 38.92h0.63v1.85h-0.63zM238.04 44.4h2.28v1.85h-2.28zM246.93 47.13h5.7v1.85h-5.7zM238.67 52.6h3.64v1.85h-3.64zM251.66 55.34h4.15v1.85h-4.15zM247.32 58.07h5.15v1.85h-5.15zM249.61 60.8h2.8v1.85h-2.8zM240.27 63.54h2.05v1.85h-2.05zM249.87 66.27h3.7v1.85h-3.7zM257.38 69.01h4.15v1.85h-4.15zM253.39 71.74h7.81v1.85h-7.81zM257.19 74.48h3.83v1.85h-3.83zM244.68 82.69h5.08v1.85h-5.08zM251.8 85.42h5.58v1.85h-5.58zM248.91 88.16h5.46v1.85h-5.46zM263.19 90.89h3.23v1.85h-3.23zM245.93 93.62h4.14v1.85h-4.14zM248.24 96.36h6.61v1.85h-6.61zM245.61 99.09h4.16v1.85h-4.16zM246.62 101.83h5.27v1.85h-5.27zM247.63 107.3h8.53v1.85h-8.53zM251.93 110.03h6.43v1.85h-6.43zM255.46 115.5h3.45v1.85h-3.45zM245.01 118.24h4.27v1.85h-4.27zM244.35 120.97h3.38v1.85h-3.38zM245.59 123.71h5.41v1.85h-5.41zM252.29 129.18h7.43v1.85h-7.43zM276 134.65h4v1.85h-4zM256 137.38h5v1.85h-5zM239.35 219.43h1.59v1.85h-1.59zM242.45 222.17h1.25v1.85h-1.25zM247.27 230.37h1.58v1.85h-1.58zM250.52 235.84h1.21v1.85h-1.21zM251 238.58h1.99v1.85h-1.99zM256.77 241.31h1.98v1.85h-1.98zM246.35 244.05h1.34v1.85h-1.34zM244.68 246.78h1.9v1.85h-1.9zM251.75 249.52h1.95v1.85h-1.95zM248.03 252.25h2.1v1.85h-2.1zM254.38 257.72h1.63v1.85h-1.63zM249.56 260.46h1.83v1.85h-1.83zM233.17 263.19h1.86v1.85h-1.86zM253.23 265.93h2.01v1.85h-2.01zM264 268.66h3.5v1.85h-3.5zM238.78 271.4h1.63v1.85h-1.63zM250.67 274.13h1.44v1.85h-1.44zM257.87 276.87h1.74v1.85h-1.74zM235.26 279.6h2.07v1.85h-2.07zM268.54 282.34h1.86v1.85h-1.86zM241.21 285.07h1.54v1.85h-1.54zM234.38 287.81h1.94v1.85h-1.94zM272.71 287.81h0.59v1.85h-0.59zM262.86 290.54h1.93v1.85h-1.93zM240.52 293.28h1.66v1.85h-1.66zM279.12 293.28h1.97v1.85h-1.97zM259.2 296.01h1.39v1.85h-1.39zM244.84 298.75h1.43v1.85h-1.43zM279.61 298.75h1.31v1.85h-1.31zM283.21 304.22h1.59v1.85h-1.59zM276.07 306.95h1.49v1.85h-1.49zM255.32 309.69h1.8v1.85h-1.8zM282.87 312.42h2.09v1.85h-2.09zM236.1 315.16h1.48v1.85h-1.48zM272.26 315.16h2.08v1.85h-2.08zM261.68 317.89h1.52v1.85h-1.52zM270.04 320.63h1.5v1.85h-1.5zM264.55 323.36h1.42v1.85h-1.42zM242.79 326.1h1.87v1.85h-1.87zM278.26 326.1h1.59v1.85h-1.59zM285.75 328.83h1.46v1.85h-1.46zM279.16 331.57h1.24v1.85h-1.24zM264.71 334.3h1.32v1.85h-1.32zM266.89 337.04h1.67v1.85h-1.67zM262.12 339.77h1.56v1.85h-1.56zM289.29 342.51h2.07v1.85h-2.07zM252.95 345.24h1.44v1.85h-1.44zM290.57 345.24h1.31v1.85h-1.31zM281.11 347.98h1.86v1.85h-1.86zM238.32 350.71h1.99v1.85h-1.99zM274.09 350.71h1.47v1.85h-1.47zM258.18 353.45h1.2v1.85h-1.2zM293.25 353.45h1.28v1.85h-1.28zM251.46 356.18h1.58v1.85h-1.58zM288.15 356.18h1.38v1.85h-1.38zM272.35 358.92h1.3v1.85h-1.3z"/>
<path fill="#5a0a64" stroke="#000" stroke-width="0.17" d="M245.44 27.98h6.41v1.85h-6.41zM255.69 30.72h3.74v1.85h-3.74zM248.75 33.45h3.26v1.85h-3.26zM250.46 36.19h2.68v1.85h-2.68zM240.32 44.4h2.29v1.85h-2.29zM252.64 47.13h3.2v1.85h-3.2zM242.31 52.6h5.17v1.85h-5.17zM255.82 55.34h2.9v1.85h-2.9zM252.47 58.07h3.87v1.85h-3.87zM252.41 60.8h7.04v1.85h-7.04zM242.32 63.54h1.85v1.85h-1.85zM253.56 66.27h5.03v1.85h-5.03zM261.52 69.01h1.83v1.85h-1.83zM261.21 71.74h2.21v1.85h-2.21zM249.76 82.69h3.43v1.85h-3.43zM254.37 88.16h2.48v1.85h-2.48zM250.07 93.62h3.22v1.85h-3.22zM254.85 96.36h5.63v1.85h-5.63zM249.78 99.09h4.81v1.85h-4.81zM251.89 101.83h4.8v1.85h-4.8zM256.16 107.3h7.88v1.85h-7.88zM258.36 110.03h6.58v1.85h-6.58zM258.91 115.5h5.47v1.85h-5.47zM249.27 118.24h2.3v1.85h-2.3zM247.74 120.97h2.93v1.85h-2.93zM251.01 123.71h2.97v1.85h-2.97zM259.72 129.18h3.42v1.85h-3.42zM261 137.38h5v1.85h-5zM240.93 219.43h1.28v1.85h-1.28zM243.7 222.17h1.53v1.85h-1.53zM248.84 230.37h1.16v1.85h-1.16zM251.73 235.84h1.98v1.85h-1.98zM252.99 238.58h1.3v1.85h-1.3zM247.69 244.05h1.59v1.85h-1.59zM246.59 246.78h1.68v1.85h-1.68zM253.7 249.52h1.58v1.85h-1.58zM250.12 252.25h1.5v1.85h-1.5zM256.01 257.72h1.6v1.85h-1.6zM251.39 260.46h2.07v1.85h-2.07zM235.03 263.19h1.52v1.85h-1.52zM255.24 265.93h1.92v1.85h-1.92zM240.4 271.4h1.5v1.85h-1.5zM252.11 274.13h1.86v1.85h-1.86zM259.6 276.87h2.08v1.85h-2.08zM237.33 279.6h1.52v1.85h-1.52zM242.76 285.07h1.82v1.85h-1.82zM236.32 287.81h2.09v1.85h-2.09zM264.79 290.54h1.27v1.85h-1.27zM242.18 293.28h1.65v1.85h-1.65zM281.09 293.28h0.91v1.85h-0.91zM260.6 296.01h1.74v1.85h-1.74zM246.27 298.75h1.25v1.85h-1.25zM280.92 298.75h1.08v1.85h-1.08zM277.56 306.95h1.61v1.85h-1.61zM257.12 309.69h1.52v1.85h-1.52zM284.96 312.42h1.74v1.85h-1.74zM237.58 315.16h1.71v1.85h-1.71zM274.34 315.16h1.3v1.85h-1.3zM263.21 317.89h2.01v1.85h-2.01zM271.54 320.63h1.89v1.85h-1.89zM265.97 323.36h1.34v1.85h-1.34zM244.66 326.1h1.85v1.85h-1.85zM279.84 326.1h1.34v1.85h-1.34zM287.21 328.83h2.04v1.85h-2.04zM280.4 331.57h1.84v1.85h-1.84zM266.03 334.3h1.69v1.85h-1.69zM268.56 337.04h1.63v1.85h-1.63zM263.68 339.77h1.84v1.85h-1.84zM291.36 342.51h1.92v1.85h-1.92zM254.39 345.24h1.64v1.85h-1.64zM291.88 345.24h2.01v1.85h-2.01zM282.97 347.98h1.3v1.85h-1.3zM240.31 350.71h1.31v1.85h-1.31zM275.56 350.71h1.62v1.85h-1.62zM259.38 353.45h1.28v1.85h-1.28zM294.53 353.45h2.06v1.85h-2.06zM253.03 356.18h2.06v1.85h-2.06zM289.53 356.18h1.36v1.85h-1.36zM273.65 358.92h1.45v1.85h-1.45z"/>
<path fill="#b40a0a" stroke="#000" stroke-width="0.17" d="M251.85 27.98h4.85v1.85h-4.85zM252.02 33.45h5.01v1.85h-5.01zM253.14 36.19h2.64v1.85h-2.64zM242.61 44.4h4.96v1.85h-4.96zM255.84 47.13h3.61v1.85h-3.61zM247.48 52.6h4.99v1.85h-4.99zM258.71 55.34h2.55v1.85h-2.55zM256.34 58.07h5.07v1.85h-5.07zM259.45 60.8h5.26v1.85h-5.26zM244.17 63.54h2.31v1.85h-2.31zM258.6 66.27h2.14v1.85h-2.14zM253.19 82.69h4.67v1.85h-4.67zM253.29 93.62h3.52v1.85h-3.52zM260.49 96.36h5.26v1.85h-5.26zM254.58 99.09h3.41v1.85h-3.41zM256.69 101.83h5.91v1.85h-5.91zM264.04 107.3h0.42v1.85h-0.42zM264.94 110.03h1.62v1.85h-1.62zM264.38 115.5h2.27v1.85h-2.27zM251.57 118.24h5.6v1.85h-5.6zM250.67 120.97h2.88v1.85h-2.88zM253.97 123.71h4.77v1.85h-4.77zM263.14 129.18h4.09v1.85h-4.09zM266 137.38h5v1.85h-5zM242.22 219.43h1.67v1.85h-1.67zM245.23 222.17h2.27v1.85h-2.27zM253.71 235.84h1.74v1.85h-1.74zM254.29 238.58h1.96v1.85h-1.96zM249.28 244.05h1.23v1.85h-1.23zM248.27 246.78h1.41v1.85h-1.41zM255.28 249.52h1.66v1.85h-1.66zM251.63 252.25h1.89v1.85h-1.89zM257.6 257.72h2.08v1.85h-2.08zM253.46 260.46h1.56v1.85h-1.56zM236.54 263.19h1.77v1.85h-1.77zM257.16 265.93h1.22v1.85h-1.22zM241.9 271.4h1.55v1.85h-1.55zM253.97 274.13h1.85v1.85h-1.85zM261.68 276.87h1.23v1.85h-1.23zM238.86 279.6h2.08v1.85h-2.08zM244.58 285.07h1.2v1.85h-1.2zM238.41 287.81h1.82v1.85h-1.82zM266.06 290.54h1.6v1.85h-1.6zM243.83 293.28h1.67v1.85h-1.67zM262.34 296.01h1.99v1.85h-1.99zM247.53 298.75h1.34v1.85h-1.34zM279.17 306.95h2.06v1.85h-2.06zM258.64 309.69h1.74v1.85h-1.74zM239.3 315.16h1.21v1.85h-1.21zM275.64 315.16h1.87v1.85h-1.87zM265.22 317.89h1.43v1.85h-1.43zM273.43 320.63h1.4v1.85h-1.4zM267.31 323.36h1.47v1.85h-1.47zM246.51 326.1h1.66v1.85h-1.66zM281.18 326.1h1.26v1.85h-1.26zM289.25 328.83h1.93v1.85h-1.93zM282.24 331.57h1.92v1.85h-1.92zM267.72 334.3h1.59v1.85h-1.59zM270.19 337.04h1.5v1.85h-1.5zM265.52 339.77h1.94v1.85h-1.94zM293.29 342.51h1.41v1.85h-1.41zM256.03 345.24h1.84v1.85h-1.84zM293.89 345.24h1.6v1.85h-1.6zM284.28 347.98h1.49v1.85h-1.49zM241.62 350.71h1.71v1.85h-1.71zM277.18 350.71h1.84v1.85h-1.84zM260.66 353.45h1.28v1.85h-1.28zM296.59 353.45h1.53v1.85h-1.53zM255.09 356.18h1.52v1.85h-1.52zM290.88 356.18h1.78v1.85h-1.78zM275.09 358.92h1.47v1.85h-1.47z"/>
<path fill="#0a640a" stroke="#000" stroke-width="0.17" d="M256.69 27.98h2.62v1.85h-2.62zM257.02 33.45h2.2v1.85h-2.2zM255.78 36.19h1.77v1.85h-1.77zM247.57 44.4h4.38v1.85h-4.38zM259.45 47.13h2.48v1.85h-2.48zM252.47 52.6h3.17v1.85h-3.17zM261.26 55.34h2.45v1.85h-2.45zM261.41 58.07h1.97v1.85h-1.97zM246.48 63.54h2.94v1.85h-2.94zM260.74 66.27h1.6v1.85h-1.6zM257.86 82.69h3.29v1.85h-3.29zM256.82 93.62h3.67v1.85h-3.67zM258 99.09h3.2v1.85h-3.2zM262.59 101.83h2.35v1.85h-2.35zM257.17 118.24h5.45v1.85h-5.45zM253.55 120.97h3.64v1.85h-3.64zM258.74 123.71h4.55v1.85h-4.55zM267.24 129.18h2.02v1.85h-2.02zM271 137.38h5v1.85h-5zM243.89 219.43h1.11v1.85h-1.11zM255.46 235.84h1.54v1.85h-1.54zM250.51 244.05h1.32v1.85h-1.32zM249.68 246.78h1.94v1.85h-1.94zM256.94 249.52h1.64v1.85h-1.64zM253.52 252.25h1.42v1.85h-1.42zM259.68 257.72h1.64v1.85h-1.64zM255.02 260.46h1.52v1.85h-1.52zM238.31 263.19h2.03v1.85h-2.03zM258.38 265.93h1.49v1.85h-1.49zM243.45 271.4h1.75v1.85h-1.75zM255.81 274.13h2.02v1.85h-2.02zM262.92 276.87h1.25v1.85h-1.25zM240.94 279.6h1.59v1.85h-1.59zM245.78 285.07h1.92v1.85h-1.92zM240.23 287.81h1.49v1.85h-1.49zM267.67 290.54h1.53v1.85h-1.53zM245.5 293.28h1.89v1.85h-1.89zM264.33 296.01h1.27v1.85h-1.27zM248.87 298.75h2.1v1.85h-2.1zM281.23 306.95h1.61v1.85h-1.61zM260.39 309.69h1.47v1.85h-1.47zM240.5 315.16h1.57v1.85h-1.57zM277.51 315.16h1.44v1.85h-1.44zM266.65 317.89h1.33v1.85h-1.33zM274.83 320.63h1.8v1.85h-1.8zM268.78 323.36h1.49v1.85h-1.49zM248.17 326.1h1.35v1.85h-1.35zM282.45 326.1h1.69v1.85h-1.69zM291.19 328.83h1.63v1.85h-1.63zM284.16 331.57h1.3v1.85h-1.3zM269.31 334.3h1.41v1.85h-1.41zM271.7 337.04h1.54v1.85h-1.54zM267.45 339.77h1.63v1.85h-1.63zM294.7 342.51h1.6v1.85h-1.6zM257.87 345.24h2.01v1.85h-2.01zM295.49 345.24h1.81v1.85h-1.81zM285.77 347.98h1.31v1.85h-1.31zM243.34 350.71h1.66v1.85h-1.66zM279.02 350.71h1.62v1.85h-1.62zM261.95 353.45h1.53v1.85h-1.53zM298.12 353.45h1.3v1.85h-1.3zM256.62 356.18h1.56v1.85h-1.56zM292.66 356.18h1.82v1.85h-1.82zM276.56 358.92h1.38v1.85h-1.38z"/>
<path fill="#ffc896" stroke="#000" stroke-width="0.17" d="M257.55 36.19h0.59v1.85h-0.59zM251.95 44.4h2.96v1.85h-2.96zM255.63 52.6h1.84v1.85h-1.84zM249.42 63.54h3.29v1.85h-3.29zM261.15 82.69h3.64v1.85h-3.64zM260.49 93.62h2.53v1.85h-2.53zM261.2 99.09h1.68v1.85h-1.68zM262.61 118.24h1.95v1.85h-1.95zM257.19 120.97h5.5v1.85h-5.5zM263.29 123.71h2.04v1.85h-2.04zM276 137.38h6v1.85h-6zM257 235.84h1.75v1.85h-1.75zM251.83 244.05h1.82v1.85h-1.82zM251.62 246.78h1.41v1.85h-1.41zM258.58 249.52h1.2v1.85h-1.2zM254.94 252.25h1.38v1.85h-1.38zM261.32 257.72h2.43v1.85h-2.43zM256.54 260.46h1.58v1.85h-1.58zM240.34 263.19h1.56v1.85h-1.56zM259.87 265.93h1.63v1.85h-1.63zM245.2 271.4h1.91v1.85h-1.91zM257.83 274.13h2.05v1.85h-2.05zM264.17 276.87h1.31v1.85h-1.31zM242.53 279.6h1.55v1.85h-1.55zM247.71 285.07h1.91v1.85h-1.91zM241.71 287.81h1.88v1.85h-1.88zM269.2 290.54h1.23v1.85h-1.23zM247.4 293.28h1.82v1.85h-1.82zM265.6 296.01h1.46v1.85h-1.46zM250.97 298.75h1.47v1.85h-1.47zM282.84 306.95h1.96v1.85h-1.96zM261.86 309.69h2.07v1.85h-2.07zM242.08 315.16h2.01v1.85h-2.01zM278.95 315.16h1.33v1.85h-1.33zM267.97 317.89h1.34v1.85h-1.34zM276.63 320.63h1.95v1.85h-1.95zM270.27 323.36h2.02v1.85h-2.02zM249.52 326.1h1.8v1.85h-1.8zM284.14 326.1h2.09v1.85h-2.09zM292.81 328.83h0.69v1.85h-0.69zM285.47 331.57h1.49v1.85h-1.49zM270.72 334.3h2.02v1.85h-2.02zM273.23 337.04h1.66v1.85h-1.66zM269.09 339.77h1.86v1.85h-1.86zM259.88 345.24h1.96v1.85h-1.96zM287.08 347.98h1.23v1.85h-1.23zM245 350.71h1.97v1.85h-1.97zM280.64 350.71h1.21v1.85h-1.21zM263.48 353.45h1.59v1.85h-1.59zM299.42 353.45h1.78v1.85h-1.78zM258.18 356.18h1.35v1.85h-1.35zM294.49 356.18h1.43v1.85h-1.43zM277.94 358.92h2.08v1.85h-2.08z"/>
<path fill="#14f014" stroke="#000" stroke-width="0.17" d="M254.9 44.4h2.7v1.85h-2.7zM257.47 52.6h2.23v1.85h-2.23zM252.71 63.54h1.81v1.85h-1.81zM264.79 82.69h0.32v1.85h-0.32zM262.87 99.09h0.31v1.85h-0.31zM262.69 120.97h2.28v1.85h-2.28zM287 137.38h6.75v1.85h-6.75zM253.65 244.05h1.74v1.85h-1.74zM253.03 246.78h1.36v1.85h-1.36zM259.78 249.52h1.47v1.85h-1.47zM256.32 252.25h1.35v1.85h-1.35zM258.13 260.46h1.52v1.85h-1.52zM241.9 263.19h1.59v1.85h-1.59zM261.51 265.93h1.65v1.85h-1.65zM247.11 271.4h1.43v1.85h-1.43zM259.88 274.13h1.7v1.85h-1.7zM265.48 276.87h1.22v1.85h-1.22zM244.08 279.6h1.43v1.85h-1.43zM249.61 285.07h1.66v1.85h-1.66zM243.6 287.81h1.44v1.85h-1.44zM270.43 290.54h1.95v1.85h-1.95zM249.22 293.28h1.78v1.85h-1.78zM267.06 296.01h1.96v1.85h-1.96zM252.44 298.75h2.09v1.85h-2.09zM263.93 309.69h1.42v1.85h-1.42zM244.09 315.16h1.73v1.85h-1.73zM280.29 315.16h1.53v1.85h-1.53zM269.32 317.89h1.33v1.85h-1.33zM278.58 320.63h1.61v1.85h-1.61zM272.29 323.36h1.84v1.85h-1.84zM251.32 326.1h1.59v1.85h-1.59zM286.23 326.1h2.03v1.85h-2.03zM286.95 331.57h1.25v1.85h-1.25zM272.74 334.3h1.79v1.85h-1.79zM274.89 337.04h1.73v1.85h-1.73zM270.94 339.77h1.39v1.85h-1.39zM261.84 345.24h1.98v1.85h-1.98zM288.31 347.98h1.84v1.85h-1.84zM246.97 350.71h1.28v1.85h-1.28zM281.86 350.71h1.8v1.85h-1.8zM265.07 353.45h1.66v1.85h-1.66zM259.52 356.18h1.8v1.85h-1.8zM295.92 356.18h1.78v1.85h-1.78zM280.02 358.92h1.91v1.85h-1.91z"/>
<path fill="#9cc8ff" stroke="#000" stroke-width="0.17" d="M257.61 44.4h1.86v1.85h-1.86zM259.7 52.6h1.99v1.85h-1.99zM254.52 63.54h2.77v1.85h-2.77zM264.97 120.97h4.51v1.85h-4.51zM255.39 244.05h1.41v1.85h-1.41zM254.38 246.78h1.99v1.85h-1.99zM257.66 252.25h1.57v1.85h-1.57zM259.64 260.46h1.82v1.85h-1.82zM243.49 263.19h1.47v1.85h-1.47zM263.15 265.93h1.53v1.85h-1.53zM248.54 271.4h1.53v1.85h-1.53zM261.58 274.13h2.03v1.85h-2.03zM266.7 276.87h1.84v1.85h-1.84zM245.51 279.6h1.41v1.85h-1.41zM251.28 285.07h1.21v1.85h-1.21zM245.03 287.81h1.75v1.85h-1.75zM272.38 290.54h1.82v1.85h-1.82zM251 293.28h1.45v1.85h-1.45zM269.02 296.01h1.75v1.85h-1.75zM254.53 298.75h1.26v1.85h-1.26zM265.35 309.69h2.08v1.85h-2.08zM245.82 315.16h1.94v1.85h-1.94zM281.81 315.16h1.8v1.85h-1.8zM270.65 317.89h1.73v1.85h-1.73zM280.19 320.63h1.65v1.85h-1.65zM274.13 323.36h1.59v1.85h-1.59zM252.91 326.1h1.8v1.85h-1.8zM288.26 326.1h1.29v1.85h-1.29zM288.2 331.57h1.72v1.85h-1.72zM274.53 334.3h1.43v1.85h-1.43zM276.62 337.04h1.4v1.85h-1.4zM272.34 339.77h1.61v1.85h-1.61zM263.82 345.24h1.6v1.85h-1.6zM290.16 347.98h1.39v1.85h-1.39zM248.25 350.71h1.61v1.85h-1.61zM283.65 350.71h1.62v1.85h-1.62zM266.73 353.45h1.46v1.85h-1.46zM261.32 356.18h1.8v1.85h-1.8zM297.7 356.18h1.32v1.85h-1.32zM281.93 358.92h2.05v1.85h-2.05z"/>
<path fill="#dcd2ff" stroke="#000" stroke-width="0.17" d="M259.47 44.4h3.33v1.85h-3.33zM257.28 63.54h1.14v1.85h-1.14zM256.8 244.05h1.39v1.85h-1.39zM256.37 246.78h2.08v1.85h-2.08zM259.23 252.25h1.76v1.85h-1.76zM261.46 260.46h1.55v1.85h-1.55zM244.96 263.19h1.7v1.85h-1.7zM264.68 265.93h1.57v1.85h-1.57zM250.08 271.4h1.55v1.85h-1.55zM263.61 274.13h1.28v1.85h-1.28zM268.54 276.87h0.86v1.85h-0.86zM246.92 279.6h2.08v1.85h-2.08zM252.48 285.07h1.92v1.85h-1.92zM246.78 287.81h1.34v1.85h-1.34zM252.45 293.28h1.78v1.85h-1.78zM270.77 296.01h2.06v1.85h-2.06zM255.79 298.75h1.54v1.85h-1.54zM267.43 309.69h1.26v1.85h-1.26zM247.76 315.16h1.21v1.85h-1.21zM283.61 315.16h2.06v1.85h-2.06zM272.38 317.89h1.92v1.85h-1.92zM281.84 320.63h2.03v1.85h-2.03zM275.71 323.36h1.35v1.85h-1.35zM254.7 326.1h1.28v1.85h-1.28zM289.55 326.1h1.05v1.85h-1.05zM289.93 331.57h1.85v1.85h-1.85zM275.96 334.3h1.31v1.85h-1.31zM278.02 337.04h1.45v1.85h-1.45zM273.94 339.77h1.52v1.85h-1.52zM265.42 345.24h1.58v1.85h-1.58zM291.54 347.98h1.72v1.85h-1.72zM249.86 350.71h1.41v1.85h-1.41zM285.27 350.71h1.74v1.85h-1.74zM268.19 353.45h1.83v1.85h-1.83zM263.12 356.18h1.6v1.85h-1.6zM299.02 356.18h1.75v1.85h-1.75zM283.98 358.92h1.95v1.85h-1.95z"/>
<path fill="#7890b4" stroke="#000" stroke-width="0.17" d="M262.79 44.4h0.42v1.85h-0.42zM240 134.65h4v1.85h-4zM221.25 137.38h5.75v1.85h-5.75zM258.2 244.05h1.05v1.85h-1.05zM258.45 246.78h1.55v1.85h-1.55zM260.99 252.25h1.47v1.85h-1.47zM263.02 260.46h1.34v1.85h-1.34zM246.66 263.19h1.8v1.85h-1.8zM251.62 271.4h1.53v1.85h-1.53zM264.89 274.13h2.03v1.85h-2.03zM249 279.6h2.1v1.85h-2.1zM254.4 285.07h1.57v1.85h-1.57zM248.12 287.81h1.97v1.85h-1.97zM254.23 293.28h1.49v1.85h-1.49zM272.83 296.01h1.78v1.85h-1.78zM257.34 298.75h1.76v1.85h-1.76zM268.68 309.69h1.21v1.85h-1.21zM248.97 315.16h1.38v1.85h-1.38zM285.67 315.16h2.09v1.85h-2.09zM274.3 317.89h1.34v1.85h-1.34zM283.87 320.63h1.74v1.85h-1.74zM277.06 323.36h1.24v1.85h-1.24zM255.99 326.1h2.01v1.85h-2.01zM291.78 331.57h0.72v1.85h-0.72zM277.27 334.3h1.93v1.85h-1.93zM279.47 337.04h1.65v1.85h-1.65zM275.47 339.77h1.48v1.85h-1.48zM267 345.24h1.48v1.85h-1.48zM293.26 347.98h1.72v1.85h-1.72zM251.28 350.71h1.6v1.85h-1.6zM287.01 350.71h1.36v1.85h-1.36zM270.02 353.45h1.66v1.85h-1.66zM264.72 356.18h1.57v1.85h-1.57zM300.77 356.18h0.93v1.85h-0.93zM285.93 358.92h1.8v1.85h-1.8z"/>
<path fill="#ffff14" stroke="#000" stroke-width="0.17" d="M262.46 252.25h1.29v1.85h-1.29zM264.35 260.46h0.65v1.85h-0.65zM248.45 263.19h1.86v1.85h-1.86zM253.15 271.4h2.02v1.85h-2.02zM266.92 274.13h1.59v1.85h-1.59zM251.09 279.6h1.84v1.85h-1.84zM255.97 285.07h1.8v1.85h-1.8zM250.1 287.81h1.64v1.85h-1.64zM255.72 293.28h1.82v1.85h-1.82zM274.61 296.01h1.88v1.85h-1.88zM259.1 298.75h2.07v1.85h-2.07zM269.89 309.69h1.41v1.85h-1.41zM250.36 315.16h1.36v1.85h-1.36zM287.76 315.16h0.84v1.85h-0.84zM275.64 317.89h1.65v1.85h-1.65zM285.62 320.63h1.36v1.85h-1.36zM278.3 323.36h1.31v1.85h-1.31zM258 326.1h1.2v1.85h-1.2zM279.2 334.3h1.28v1.85h-1.28zM281.12 337.04h1.65v1.85h-1.65zM276.94 339.77h1.52v1.85h-1.52zM268.48 345.24h2.08v1.85h-2.08zM294.98 347.98h1.41v1.85h-1.41zM252.87 350.71h2.09v1.85h-2.09zM288.37 350.71h1.74v1.85h-1.74zM271.68 353.45h2.08v1.85h-2.08zM266.29 356.18h1.41v1.85h-1.41zM287.73 358.92h1.87v1.85h-1.87z"/>
<path fill="#ff9632" stroke="#000" stroke-width="0.17" d="M250.32 263.19h2.05v1.85h-2.05zM255.17 271.4h1.69v1.85h-1.69zM268.51 274.13h0.89v1.85h-0.89zM252.93 279.6h1.36v1.85h-1.36zM257.78 285.07h1.71v1.85h-1.71zM251.74 287.81h1.45v1.85h-1.45zM257.53 293.28h1.83v1.85h-1.83zM276.49 296.01h1.78v1.85h-1.78zM261.17 298.75h1.39v1.85h-1.39zM251.72 315.16h1.95v1.85h-1.95zM277.3 317.89h1.72v1.85h-1.72zM286.98 320.63h1.26v1.85h-1.26zM279.61 323.36h1.96v1.85h-1.96zM259.2 326.1h1.4v1.85h-1.4zM280.48 334.3h1.4v1.85h-1.4zM282.78 337.04h1.58v1.85h-1.58zM278.46 339.77h1.88v1.85h-1.88zM270.56 345.24h1.37v1.85h-1.37zM296.39 347.98h1.29v1.85h-1.29zM254.97 350.71h2.02v1.85h-2.02zM290.11 350.71h1.62v1.85h-1.62zM273.77 353.45h1.35v1.85h-1.35zM267.7 356.18h1.91v1.85h-1.91zM289.6 358.92h1.49v1.85h-1.49z"/>
<path fill="#b4b4c8" stroke="#000" stroke-width="0.17" d="M252.37 263.19h1.33v1.85h-1.33zM256.86 271.4h1.45v1.85h-1.45zM254.29 279.6h1.36v1.85h-1.36zM259.49 285.07h1.86v1.85h-1.86zM253.18 287.81h2.03v1.85h-2.03zM259.36 293.28h2.06v1.85h-2.06zM278.27 296.01h0.73v1.85h-0.73zM262.56 298.75h1.57v1.85h-1.57zM253.67 315.16h1.29v1.85h-1.29zM279.01 317.89h1.7v1.85h-1.7zM288.24 320.63h1.27v1.85h-1.27zM281.58 323.36h1.78v1.85h-1.78zM260.6 326.1h1.56v1.85h-1.56zM281.88 334.3h1.34v1.85h-1.34zM284.35 337.04h1.8v1.85h-1.8zM280.34 339.77h1.86v1.85h-1.86zM271.92 345.24h1.34v1.85h-1.34zM297.68 347.98h1.52v1.85h-1.52zM256.99 350.71h1.21v1.85h-1.21zM291.73 350.71h2.06v1.85h-2.06zM275.12 353.45h1.66v1.85h-1.66zM269.61 356.18h1.61v1.85h-1.61zM291.09 358.92h1.31v1.85h-1.31z"/>
<path fill="#14a0a0" stroke="#000" stroke-width="0.17" d="M253.7 263.19h1.53v1.85h-1.53zM258.31 271.4h1.5v1.85h-1.5zM255.65 279.6h1.34v1.85h-1.34zM261.34 285.07h1.57v1.85h-1.57zM255.21 287.81h1.27v1.85h-1.27zM261.42 293.28h1.24v1.85h-1.24zM264.13 298.75h1.62v1.85h-1.62zM254.96 315.16h2.04v1.85h-2.04zM280.72 317.89h1.57v1.85h-1.57zM289.52 320.63h1.08v1.85h-1.08zM283.36 323.36h1.34v1.85h-1.34zM262.16 326.1h1.38v1.85h-1.38zM283.22 334.3h1.99v1.85h-1.99zM286.15 337.04h1.37v1.85h-1.37zM282.2 339.77h1.39v1.85h-1.39zM273.26 345.24h1.45v1.85h-1.45zM258.2 350.71h1.41v1.85h-1.41zM293.79 350.71h1.34v1.85h-1.34zM276.78 353.45h1.64v1.85h-1.64zM271.22 356.18h1.95v1.85h-1.95zM292.4 358.92h1.97v1.85h-1.97z"/>
<path fill="#f5f014" stroke="#000" stroke-width="0.17" d="M255.23 263.19h1.97v1.85h-1.97zM259.81 271.4h1.94v1.85h-1.94zM256.99 279.6h1.52v1.85h-1.52zM262.91 285.07h2.06v1.85h-2.06zM256.49 287.81h2.04v1.85h-2.04zM262.66 293.28h1.95v1.85h-1.95zM265.76 298.75h1.48v1.85h-1.48zM257 315.16h1.44v1.85h-1.44zM282.29 317.89h1.69v1.85h-1.69zM284.7 323.36h1.76v1.85h-1.76zM263.54 326.1h1.28v1.85h-1.28zM285.2 334.3h1.28v1.85h-1.28zM287.52 337.04h1.68v1.85h-1.68zM283.59 339.77h1.41v1.85h-1.41zM274.72 345.24h2.03v1.85h-2.03zM259.61 350.71h1.5v1.85h-1.5zM295.13 350.71h2.06v1.85h-2.06zM278.42 353.45h1.53v1.85h-1.53zM273.17 356.18h1.54v1.85h-1.54zM294.37 358.92h1.64v1.85h-1.64z"/>
<path fill="#c83296" stroke="#000" stroke-width="0.17" d="M257.2 263.19h1.91v1.85h-1.91zM261.74 271.4h1.34v1.85h-1.34zM258.5 279.6h1.86v1.85h-1.86zM264.98 285.07h2.06v1.85h-2.06zM258.53 287.81h1.88v1.85h-1.88zM264.62 293.28h1.93v1.85h-1.93zM267.24 298.75h1.25v1.85h-1.25zM258.44 315.16h1.99v1.85h-1.99zM283.98 317.89h1.21v1.85h-1.21zM286.46 323.36h1.25v1.85h-1.25zM264.82 326.1h1.82v1.85h-1.82zM286.48 334.3h1.48v1.85h-1.48zM289.2 337.04h1.45v1.85h-1.45zM285 339.77h1.91v1.85h-1.91zM276.75 345.24h1.97v1.85h-1.97zM261.11 350.71h1.56v1.85h-1.56zM297.19 350.71h2.01v1.85h-2.01zM279.96 353.45h1.98v1.85h-1.98zM274.7 356.18h1.86v1.85h-1.86zM296.01 358.92h1.69v1.85h-1.69z"/>
<path fill="#0a1cff" stroke="#000" stroke-width="0.45" d="M361.3 17.75h40.7v3h-40.7zM361.3 22.35h9.45v3h-9.45zM361.3 26.95h23.7v3h-23.7zM361.3 31.55h12.45v3h-12.45zM361.3 36.15h10.2v3h-10.2zM361.3 40.75h22.2v3h-22.2zM361.3 45.35h9.45v3h-9.45zM361.3 49.95h30.45v3h-30.45zM361.3 54.55h8.7v3h-8.7zM361.3 59.15h115.45v3h-115.45zM361.3 63.75h52.45v3h-52.45zM361.3 68.35h55.45v3h-55.45zM361.3 72.95h53.2v3h-53.2zM361.3 77.55h9.45v3h-9.45zM361.3 82.15h11.7v3h-11.7zM361.3 86.75h32.45v3h-32.45zM361.3 91.35h38.7v3h-38.7zM361.3 95.95h15.45v3h-15.45zM361.3 100.55h49.2v3h-49.2zM361.3 105.15h11.2v3h-11.2zM361.3 109.75h5.7v3h-5.7zM422.6 109.75h1.6v3h-1.6zM361.3 114.35h15.45v3h-15.45zM361.3 118.95h97.95v3h-97.95zM361.3 123.55h9.2v3h-9.2zM432.78 123.55h2.57v3h-2.57zM361.3 128.15h7.45v3h-7.45zM421.67 128.15h2.37v3h-2.37zM361.3 132.75h14.2v3h-14.2zM448.14 132.75h2.11v3h-2.11zM361.3 137.35h59.95v3h-59.95zM361.3 141.95h65.45v3h-65.45zM361.3 146.55h62.95v3h-62.95zM361.3 151.15h69.2v3h-69.2zM474.12 151.15h2v3h-2zM361.3 155.75h4.45v3h-4.45zM361.3 160.35h6.7v3h-6.7zM361.3 164.95h17.7v3h-17.7zM361.3 169.55h27.7v3h-27.7zM361.3 174.15h4.45v3h-4.45zM361.3 178.75h5.45v3h-5.45zM361.3 183.35h3.2v3h-3.2zM361.3 187.95h87.2v3h-87.2zM361.3 192.55h35.7v3h-35.7zM361.3 197.15h18.7v3h-18.7zM361.3 201.75h8.2v3h-8.2zM361.3 206.35h79.1v3h-79.1zM361.3 210.95h7.2v3h-7.2zM361.3 215.55h14.2v3h-14.2zM361.3 220.15h47.95v3h-47.95zM361.3 224.75h23.2v3h-23.2zM431.19 224.75h2.4v3h-2.4zM361.3 229.35h69.95v3h-69.95zM361.3 233.95h6.7v3h-6.7zM419.36 233.95h1.59v3h-1.59zM361.3 238.55h18.2v3h-18.2zM361.3 243.15h53.7v3h-53.7zM475.6 243.15h2.17v3h-2.17zM361.3 247.75h17.45v3h-17.45zM361.3 252.35h36.7v3h-36.7zM361.3 256.95h7.2v3h-7.2zM361.3 261.55h40.7v3h-40.7zM361.3 266.15h9.2v3h-9.2zM361.3 270.75h18.2v3h-18.2zM361.3 275.35h6.7v3h-6.7zM361.3 279.95h6.7v3h-6.7zM361.3 284.55h12.95v3h-12.95zM361.3 289.15h17.7v3h-17.7zM361.3 293.75h7.45v3h-7.45zM361.3 298.35h9.2v3h-9.2zM361.3 302.95h13.2v3h-13.2zM361.3 307.55h20.45v3h-20.45zM361.3 312.15h10.7v3h-10.7zM361.3 316.75h32.7v3h-32.7zM361.3 321.35h13.2v3h-13.2zM361.3 325.95h6.2v3h-6.2zM361.3 330.55h18.7v3h-18.7zM361.3 335.15h24.45v3h-24.45zM361.3 339.75h6.7v3h-6.7zM417.03 339.75h2.16v3h-2.16zM361.3 344.35h48.7v3h-48.7zM361.3 348.95h31.95v3h-31.95zM361.3 353.55h4.95v3h-4.95zM426.54 353.55h1.77v3h-1.77zM361.3 358.15h48.7v3h-48.7z"/>
<path fill="#ff0a0a" stroke="#000" stroke-width="0.45" d="M373.75 31.55h11.75v3h-11.75zM371.5 36.15h8.25v3h-8.25zM370.75 45.35h9.5v3h-9.5zM370.75 77.55h8.75v3h-8.75zM373 82.15h4v3h-4zM393.75 86.75h9.25v3h-9.25zM376.75 95.95h10.25v3h-10.25zM372.5 105.15h9.25v3h-9.25zM367 109.75h6v3h-6zM424.19 109.75h2.41v3h-2.41zM376.75 114.35h15.25v3h-15.25zM370.5 123.55h7.5v3h-7.5zM435.35 123.55h2.11v3h-2.11zM368.75 128.15h6.25v3h-6.25zM424.04 128.15h2.01v3h-2.01zM375.5 132.75h11.5v3h-11.5zM450.25 132.75h2.12v3h-2.12zM421.25 137.35h5.5v3h-5.5zM426.75 141.95h5.25v3h-5.25zM424.25 146.55h25.75v3h-25.75zM430.5 151.15h3.25v3h-3.25zM476.12 151.15h2.04v3h-2.04zM365.75 174.15h3v3h-3zM366.75 178.75h5v3h-5zM364.5 183.35h3v3h-3zM380 197.15h3.5v3h-3.5zM369.5 201.75h6v3h-6zM368.5 210.95h7.25v3h-7.25zM375.5 215.55h3.75v3h-3.75zM409.25 220.15h39.25v3h-39.25zM384.5 224.75h4.25v3h-4.25zM433.59 224.75h1.73v3h-1.73zM431.25 229.35h11.25v3h-11.25zM368 233.95h5v3h-5zM420.95 233.95h1.55v3h-1.55zM379.5 238.55h12.5v3h-12.5zM415 243.15h15v3h-15zM477.78 243.15h2.22v3h-2.22zM370.5 266.15h5.75v3h-5.75zM368 275.35h6.5v3h-6.5zM368 279.95h6.5v3h-6.5zM374.25 284.55h13v3h-13zM379 289.15h17.25v3h-17.25zM368.75 293.75h7.25v3h-7.25zM370.5 298.35h5.75v3h-5.75zM374.5 302.95h14.25v3h-14.25zM381.75 307.55h10v3h-10zM372 312.15h7.5v3h-7.5zM394 316.75h12.25v3h-12.25zM374.5 321.35h6.75v3h-6.75zM367.5 325.95h5.5v3h-5.5zM380 330.55h18.75v3h-18.75zM385.75 335.15h12.25v3h-12.25zM368 339.75h3.75v3h-3.75zM419.19 339.75h1.58v3h-1.58zM410 344.35h25v3h-25zM393.25 348.95h10.5v3h-10.5zM366.25 353.55h5.5v3h-5.5zM428.31 353.55h1.98v3h-1.98zM410 358.15h25v3h-25z"/>
<path fill="#12b030" stroke="#000" stroke-width="0.45" d="M379.75 36.15h5.75v3h-5.75zM380.25 45.35h9v3h-9zM378.5 54.55h9v3h-9zM379.5 77.55h9v3h-9zM377 82.15h4.75v3h-4.75zM387 95.95h10.5v3h-10.5zM381.75 105.15h6.75v3h-6.75zM373 109.75h3v3h-3zM426.6 109.75h2v3h-2zM392 114.35h15.5v3h-15.5zM378 123.55h7v3h-7zM437.46 123.55h1.51v3h-1.51zM375 128.15h5v3h-5zM426.05 128.15h1.88v3h-1.88zM387 132.75h9.5v3h-9.5zM452.37 132.75h2.49v3h-2.49zM426.75 137.35h5.25v3h-5.25zM432 141.95h4.25v3h-4.25zM450 146.55h6.25v3h-6.25zM433.75 151.15h2.38v3h-2.38zM478.16 151.15h1.53v3h-1.53zM368.75 174.15h2.75v3h-2.75zM371.75 178.75h4.75v3h-4.75zM367.5 183.35h3v3h-3zM383.5 197.15h3.5v3h-3.5zM375.5 201.75h5.75v3h-5.75zM375.75 210.95h7.25v3h-7.25zM379.25 215.55h3.75v3h-3.75zM388.75 224.75h2.5v3h-2.5zM435.32 224.75h1.55v3h-1.55zM442.5 229.35h3v3h-3zM373 233.95h4.5v3h-4.5zM422.5 233.95h1.82v3h-1.82zM392 238.55h12.25v3h-12.25zM430 243.15h5.5v3h-5.5zM374.5 275.35h5.5v3h-5.5zM374.5 279.95h4.5v3h-4.5zM387.25 284.55h12.5v3h-12.5zM396.25 289.15h8.75v3h-8.75zM376 293.75h4v3h-4zM376.25 298.35h5v3h-5zM388.75 302.95h13.25v3h-13.25zM391.75 307.55h10.25v3h-10.25zM379.5 312.15h7v3h-7zM406.25 316.75h12.25v3h-12.25zM381.25 321.35h6.75v3h-6.75zM373 325.95h5.75v3h-5.75zM398.75 330.55h10v3h-10zM398 335.15h12.75v3h-12.75zM371.75 339.75h3.75v3h-3.75zM420.77 339.75h1.82v3h-1.82zM403.75 348.95h5v3h-5zM371.75 353.55h5v3h-5zM430.28 353.55h2.01v3h-2.01zM435 358.15h24.25v3h-24.25z"/>
<path fill="#a436e0" stroke="#000" stroke-width="0.45" d="M385.5 36.15h4.25v3h-4.25zM389.25 45.35h9.5v3h-9.5zM387.5 54.55h9v3h-9zM388.5 77.55h4.25v3h-4.25zM381.75 82.15h4.75v3h-4.75zM397.5 95.95h9.5v3h-9.5zM388.5 105.15h4.75v3h-4.75zM376 109.75h3v3h-3zM428.6 109.75h1.76v3h-1.76zM407.5 114.35h7.5v3h-7.5zM385 123.55h5.75v3h-5.75zM438.96 123.55h1.56v3h-1.56zM380 128.15h3.75v3h-3.75zM427.93 128.15h2.03v3h-2.03zM396.5 132.75h7v3h-7zM454.85 132.75h2.27v3h-2.27zM432 137.35h5v3h-5zM436.25 141.95h3.75v3h-3.75zM456.25 146.55h3.25v3h-3.25zM436.13 151.15h1.57v3h-1.57zM479.68 151.15h1.75v3h-1.75zM371.5 174.15h3v3h-3zM376.5 178.75h4v3h-4zM370.5 183.35h2.5v3h-2.5zM387 197.15h3.25v3h-3.25zM381.25 201.75h5.5v3h-5.5zM383 210.95h7v3h-7zM383 215.55h4v3h-4zM391.25 224.75h1.75v3h-1.75zM436.88 224.75h1.74v3h-1.74zM445.5 229.35h2v3h-2zM377.5 233.95h4.25v3h-4.25zM424.32 233.95h2.38v3h-2.38zM404.25 238.55h12.25v3h-12.25zM435.5 243.15h3.25v3h-3.25zM379 279.95h4.25v3h-4.25zM380 293.75h3.75v3h-3.75zM381.25 298.35h4.25v3h-4.25zM402 307.55h10v3h-10zM386.5 312.15h3.5v3h-3.5zM388 321.35h3.25v3h-3.25zM378.75 325.95h5v3h-5zM408.75 330.55h9.25v3h-9.25zM410.75 335.15h12.25v3h-12.25zM375.5 339.75h3.25v3h-3.25zM422.59 339.75h2.57v3h-2.57zM408.75 348.95h2.5v3h-2.5zM376.75 353.55h5v3h-5zM432.3 353.55h2.54v3h-2.54z"/>
<path fill="#d0d0d0" stroke="#000" stroke-width="0.45" d="M370 54.55h8.5v3h-8.5z"/>
<path fill="#ff8212" stroke="#000" stroke-width="0.45" d="M396.5 54.55h8.5v3h-8.5zM386.5 82.15h3.75v3h-3.75zM393.25 105.15h4.25v3h-4.25zM379 109.75h3v3h-3zM430.36 109.75h1.7v3h-1.7zM415 114.35h7.5v3h-7.5zM390.75 123.55h4.75v3h-4.75zM440.53 123.55h1.81v3h-1.81zM383.75 128.15h3.25v3h-3.25zM429.96 128.15h2.19v3h-2.19zM403.5 132.75h4.75v3h-4.75zM457.13 132.75h1.69v3h-1.69zM437 137.35h5v3h-5zM440 141.95h3.75v3h-3.75zM459.5 146.55h3v3h-3zM437.7 151.15h2.13v3h-2.13zM481.43 151.15h0.57v3h-0.57zM373 183.35h2v3h-2zM390.25 197.15h3v3h-3zM386.75 201.75h3.5v3h-3.5zM390 210.95h7.25v3h-7.25zM387 215.55h3v3h-3zM393 224.75h2v3h-2zM438.61 224.75h2.55v3h-2.55zM447.5 229.35h2v3h-2zM381.75 233.95h3.25v3h-3.25zM426.7 233.95h2.26v3h-2.26zM416.5 238.55h6v3h-6zM438.75 243.15h2v3h-2zM383.25 279.95h4.5v3h-4.5zM383.75 293.75h3.25v3h-3.25zM385.5 298.35h3.5v3h-3.5zM390 312.15h3.5v3h-3.5zM391.25 321.35h3.25v3h-3.25zM383.75 325.95h4.25v3h-4.25zM418 330.55h9v3h-9zM423 335.15h12v3h-12zM378.75 339.75h2.5v3h-2.5zM425.15 339.75h1.99v3h-1.99zM411.25 348.95h3.75v3h-3.75zM381.75 353.55h4.5v3h-4.5zM434.84 353.55h2.44v3h-2.44z"/>
<path fill="#000000" stroke="#000" stroke-width="0.45" d="M405 54.55h8.75v3h-8.75zM390.25 82.15h3.25v3h-3.25zM397.5 105.15h4.75v3h-4.75zM382 109.75h3v3h-3zM432.07 109.75h1.85v3h-1.85zM422.5 114.35h7.5v3h-7.5zM395.5 123.55h3.5v3h-3.5zM442.34 123.55h1.84v3h-1.84zM387 128.15h2.16v3h-2.16zM432.15 128.15h2.34v3h-2.34zM408.25 132.75h4.75v3h-4.75zM458.81 132.75h2.24v3h-2.24zM442 137.35h4.25v3h-4.25zM443.75 141.95h3.25v3h-3.25zM462.5 146.55h1.69v3h-1.69zM439.83 151.15h2.49v3h-2.49zM375 183.35h2.5v3h-2.5zM390.25 201.75h4.5v3h-4.5zM390 215.55h3.75v3h-3.75zM395 224.75h2v3h-2zM441.16 224.75h2.49v3h-2.49zM449.5 229.35h1.97v3h-1.97zM385 233.95h3v3h-3zM428.95 233.95h1.68v3h-1.68zM422.5 238.55h6.25v3h-6.25zM440.75 243.15h1.99v3h-1.99zM387 293.75h4v3h-4zM389 298.35h3.5v3h-3.5zM393.5 312.15h4v3h-4zM394.5 321.35h3v3h-3zM388 325.95h4v3h-4zM381.25 339.75h2.5v3h-2.5zM427.14 339.75h2.14v3h-2.14zM415 348.95h2.1v3h-2.1zM386.25 353.55h5.5v3h-5.5zM437.28 353.55h2.38v3h-2.38z"/>
<path fill="#a0661e" stroke="#000" stroke-width="0.45" d="M393.5 82.15h2v3h-2zM402.25 105.15h4.25v3h-4.25zM385 109.75h3v3h-3zM433.91 109.75h0.59v3h-0.59zM430 114.35h8v3h-8zM399 123.55h3.5v3h-3.5zM444.18 123.55h2.54v3h-2.54zM389.16 128.15h2.47v3h-2.47zM434.49 128.15h2.38v3h-2.38zM413 132.75h4.5v3h-4.5zM461.05 132.75h1.61v3h-1.61zM446.25 137.35h2.43v3h-2.43zM447 141.95h2.03v3h-2.03zM464.19 146.55h1.88v3h-1.88zM442.31 151.15h1.72v3h-1.72zM377.5 183.35h2v3h-2zM393.75 215.55h2v3h-2zM397 224.75h1.84v3h-1.84zM443.65 224.75h2.59v3h-2.59zM451.47 229.35h1.51v3h-1.51zM388 233.95h1.71v3h-1.71zM430.63 233.95h1.6v3h-1.6zM428.75 238.55h6.25v3h-6.25zM442.74 243.15h1.62v3h-1.62zM392.5 298.35h3.75v3h-3.75zM397.5 312.15h3.75v3h-3.75zM397.5 321.35h2.16v3h-2.16zM392 325.95h2.5v3h-2.5zM383.75 339.75h1.98v3h-1.98zM429.28 339.75h1.84v3h-1.84zM417.1 348.95h2.22v3h-2.22zM391.75 353.55h4.5v3h-4.5zM439.66 353.55h1.65v3h-1.65z"/>
<path fill="#0a0a8c" stroke="#000" stroke-width="0.45" d="M395.5 82.15h2v3h-2zM406.5 105.15h4.75v3h-4.75zM388 109.75h3v3h-3zM402.5 123.55h2.16v3h-2.16zM446.73 123.55h2.23v3h-2.23zM391.63 128.15h1.92v3h-1.92zM436.87 128.15h2.28v3h-2.28zM417.5 132.75h1.77v3h-1.77zM462.66 132.75h2.57v3h-2.57zM448.68 137.35h1.67v3h-1.67zM449.03 141.95h1.61v3h-1.61zM466.07 146.55h1.61v3h-1.61zM444.03 151.15h1.73v3h-1.73zM379.5 183.35h1v3h-1zM395.75 215.55h1.75v3h-1.75zM398.84 224.75h1.93v3h-1.93zM446.25 224.75h2.06v3h-2.06zM452.98 229.35h1.78v3h-1.78zM389.71 233.95h2.4v3h-2.4zM432.23 233.95h2.21v3h-2.21zM435 238.55h6.25v3h-6.25zM444.36 243.15h2.52v3h-2.52zM396.25 298.35h3.75v3h-3.75zM401.25 312.15h3.75v3h-3.75zM399.66 321.35h1.69v3h-1.69zM394.5 325.95h3.5v3h-3.5zM385.73 339.75h2.34v3h-2.34zM431.13 339.75h2.56v3h-2.56zM419.32 348.95h1.84v3h-1.84zM396.25 353.55h2.2v3h-2.2zM441.31 353.55h2.1v3h-2.1z"/>
<path fill="#5a0a64" stroke="#000" stroke-width="0.45" d="M411.25 105.15h3.75v3h-3.75zM391 109.75h3v3h-3zM404.66 123.55h1.64v3h-1.64zM448.95 123.55h1.8v3h-1.8zM393.55 128.15h2.1v3h-2.1zM439.15 128.15h1.94v3h-1.94zM419.27 132.75h2.13v3h-2.13zM465.22 132.75h1.98v3h-1.98zM450.35 137.35h1.69v3h-1.69zM450.64 141.95h2.58v3h-2.58zM467.69 146.55h2.39v3h-2.39zM445.76 151.15h1.78v3h-1.78zM380.5 183.35h0.7v3h-0.7zM397.5 215.55h1.75v3h-1.75zM400.77 224.75h2.22v3h-2.22zM448.31 224.75h1.63v3h-1.63zM454.77 229.35h2.04v3h-2.04zM392.11 233.95h2.46v3h-2.46zM434.44 233.95h2.6v3h-2.6zM441.25 238.55h6.25v3h-6.25zM446.87 243.15h1.92v3h-1.92zM400 298.35h2.5v3h-2.5zM405 312.15h1.5v3h-1.5zM401.35 321.35h1.66v3h-1.66zM398 325.95h3.25v3h-3.25zM388.07 339.75h1.61v3h-1.61zM433.69 339.75h2.12v3h-2.12zM421.16 348.95h1.56v3h-1.56zM398.45 353.55h2.06v3h-2.06zM443.41 353.55h1.64v3h-1.64z"/>
<path fill="#b40a0a" stroke="#000" stroke-width="0.45" d="M415 105.15h2.3v3h-2.3zM394 109.75h3v3h-3zM406.31 123.55h1.91v3h-1.91zM395.65 128.15h1.91v3h-1.91zM441.09 128.15h1.68v3h-1.68zM421.4 132.75h2.49v3h-2.49zM467.2 132.75h2.01v3h-2.01zM452.04 137.35h2.49v3h-2.49zM453.22 141.95h2.46v3h-2.46zM470.07 146.55h2.58v3h-2.58zM447.54 151.15h2.42v3h-2.42zM381.2 183.35h0.8v3h-0.8zM399.25 215.55h1.75v3h-1.75zM402.99 224.75h2.09v3h-2.09zM449.94 224.75h2.25v3h-2.25zM456.81 229.35h0.94v3h-0.94zM394.57 233.95h1.98v3h-1.98zM437.03 233.95h1.83v3h-1.83zM447.5 238.55h5.5v3h-5.5zM448.79 243.15h1.72v3h-1.72zM402.5 298.35h1.5v3h-1.5zM406.5 312.15h1.5v3h-1.5zM403.02 321.35h1.8v3h-1.8zM401.25 325.95h3.75v3h-3.75zM389.69 339.75h2.38v3h-2.38zM435.81 339.75h1.19v3h-1.19zM422.72 348.95h1.62v3h-1.62zM400.51 353.55h1.6v3h-1.6zM445.05 353.55h2.39v3h-2.39z"/>
<path fill="#0a640a" stroke="#000" stroke-width="0.45" d="M417.3 105.15h1.7v3h-1.7zM397 109.75h3v3h-3zM408.22 123.55h2.5v3h-2.5zM397.56 128.15h2.39v3h-2.39zM442.76 128.15h2.05v3h-2.05zM423.89 132.75h1.79v3h-1.79zM469.22 132.75h2.42v3h-2.42zM454.53 137.35h1.85v3h-1.85zM455.68 141.95h1.99v3h-1.99zM472.65 146.55h1.67v3h-1.67zM449.96 151.15h1.79v3h-1.79zM405.08 224.75h1.75v3h-1.75zM452.19 224.75h2.81v3h-2.81zM396.55 233.95h2.2v3h-2.2zM438.86 233.95h2.36v3h-2.36zM453 238.55h6.5v3h-6.5zM450.51 243.15h2.03v3h-2.03zM404.82 321.35h2.42v3h-2.42zM405 325.95h2v3h-2zM392.07 339.75h1.95v3h-1.95zM424.34 348.95h1.97v3h-1.97zM402.12 353.55h2.07v3h-2.07zM447.44 353.55h1.52v3h-1.52z"/>
<path fill="#ffc896" stroke="#000" stroke-width="0.45" d="M419 105.15h1.5v3h-1.5zM400 109.75h2.15v3h-2.15zM410.72 123.55h1.52v3h-1.52zM399.95 128.15h2.41v3h-2.41zM444.81 128.15h2.5v3h-2.5zM425.68 132.75h1.88v3h-1.88zM471.64 132.75h2.28v3h-2.28zM456.38 137.35h2.21v3h-2.21zM457.67 141.95h2.48v3h-2.48zM474.33 146.55h1.84v3h-1.84zM451.75 151.15h1.7v3h-1.7zM406.82 224.75h1.96v3h-1.96zM398.75 233.95h2.53v3h-2.53zM441.22 233.95h2.51v3h-2.51zM459.5 238.55h6v3h-6zM452.54 243.15h2.28v3h-2.28zM407.24 321.35h1.64v3h-1.64zM407 325.95h3v3h-3zM394.01 339.75h2.06v3h-2.06zM426.31 348.95h2.13v3h-2.13zM404.18 353.55h1.87v3h-1.87zM448.96 353.55h1.78v3h-1.78z"/>
<path fill="#14f014" stroke="#000" stroke-width="0.45" d="M402.15 109.75h2.26v3h-2.26zM412.24 123.55h2.29v3h-2.29zM402.36 128.15h2.53v3h-2.53zM447.31 128.15h2.53v3h-2.53zM427.57 132.75h1.63v3h-1.63zM473.92 132.75h0.58v3h-0.58zM458.59 137.35h1.98v3h-1.98zM460.15 141.95h2.21v3h-2.21zM476.16 146.55h1.78v3h-1.78zM453.45 151.15h1.5v3h-1.5zM408.78 224.75h2.18v3h-2.18zM401.28 233.95h1.66v3h-1.66zM443.73 233.95h2.28v3h-2.28zM465.5 238.55h6.25v3h-6.25zM454.82 243.15h1.92v3h-1.92zM408.87 321.35h1.52v3h-1.52zM410 325.95h3.75v3h-3.75zM396.07 339.75h2.4v3h-2.4zM428.44 348.95h1.74v3h-1.74zM406.06 353.55h1.91v3h-1.91zM450.74 353.55h2.27v3h-2.27z"/>
<path fill="#9cc8ff" stroke="#000" stroke-width="0.45" d="M404.41 109.75h2.06v3h-2.06zM414.54 123.55h1.56v3h-1.56zM404.9 128.15h1.74v3h-1.74zM449.84 128.15h1.67v3h-1.67zM429.2 132.75h1.81v3h-1.81zM460.57 137.35h1.81v3h-1.81zM462.36 141.95h1.61v3h-1.61zM477.94 146.55h0.81v3h-0.81zM454.95 151.15h2.51v3h-2.51zM410.96 224.75h2.39v3h-2.39zM402.93 233.95h1.93v3h-1.93zM446 233.95h2.18v3h-2.18zM471.75 238.55h6v3h-6zM456.74 243.15h2.07v3h-2.07zM410.39 321.35h1.59v3h-1.59zM413.75 325.95h2.75v3h-2.75zM398.47 339.75h2.39v3h-2.39zM430.18 348.95h2.42v3h-2.42zM407.96 353.55h1.85v3h-1.85zM453.02 353.55h1.9v3h-1.9z"/>
<path fill="#dcd2ff" stroke="#000" stroke-width="0.45" d="M406.47 109.75h1.66v3h-1.66zM416.09 123.55h2.27v3h-2.27zM406.64 128.15h1.8v3h-1.8zM451.51 128.15h2.34v3h-2.34zM431.01 132.75h2.15v3h-2.15zM462.37 137.35h1.61v3h-1.61zM463.97 141.95h1.98v3h-1.98zM457.46 151.15h1.75v3h-1.75zM413.35 224.75h2.32v3h-2.32zM404.87 233.95h1.5v3h-1.5zM448.18 233.95h2.2v3h-2.2zM458.81 243.15h2.11v3h-2.11zM411.98 321.35h2.18v3h-2.18zM416.5 325.95h2.5v3h-2.5zM400.86 339.75h1.9v3h-1.9zM432.6 348.95h2.45v3h-2.45zM409.81 353.55h2.42v3h-2.42zM454.91 353.55h2.26v3h-2.26z"/>
<path fill="#7890b4" stroke="#000" stroke-width="0.45" d="M408.13 109.75h2.39v3h-2.39zM418.36 123.55h2.24v3h-2.24zM408.44 128.15h2.55v3h-2.55zM453.85 128.15h1.97v3h-1.97zM433.16 132.75h2.43v3h-2.43zM463.98 137.35h2.29v3h-2.29zM465.95 141.95h2.44v3h-2.44zM459.2 151.15h1.77v3h-1.77zM415.67 224.75h2.24v3h-2.24zM406.37 233.95h1.83v3h-1.83zM450.38 233.95h2.31v3h-2.31zM460.92 243.15h2.42v3h-2.42zM414.16 321.35h2.23v3h-2.23zM419 325.95h2v3h-2zM402.76 339.75h2.38v3h-2.38zM435.05 348.95h2.25v3h-2.25zM412.23 353.55h1.82v3h-1.82zM457.17 353.55h0.83v3h-0.83z"/>
<path fill="#ffff14" stroke="#000" stroke-width="0.45" d="M410.52 109.75h1.58v3h-1.58zM420.6 123.55h1.83v3h-1.83zM410.99 128.15h2.06v3h-2.06zM455.82 128.15h1.7v3h-1.7zM435.59 132.75h1.85v3h-1.85zM466.28 137.35h2.42v3h-2.42zM468.38 141.95h2.58v3h-2.58zM460.97 151.15h2.47v3h-2.47zM417.92 224.75h2.14v3h-2.14zM408.2 233.95h1.92v3h-1.92zM452.7 233.95h2.48v3h-2.48zM463.34 243.15h2.14v3h-2.14zM416.39 321.35h2.37v3h-2.37zM421 325.95h2.75v3h-2.75zM405.14 339.75h1.6v3h-1.6zM437.3 348.95h1.82v3h-1.82zM414.05 353.55h1.84v3h-1.84z"/>
<path fill="#ff9632" stroke="#000" stroke-width="0.45" d="M412.1 109.75h2.5v3h-2.5zM422.43 123.55h2.31v3h-2.31zM413.05 128.15h1.65v3h-1.65zM457.52 128.15h2.57v3h-2.57zM437.44 132.75h2.39v3h-2.39zM468.7 137.35h1.68v3h-1.68zM470.97 141.95h2.19v3h-2.19zM463.43 151.15h1.95v3h-1.95zM420.06 224.75h2.08v3h-2.08zM410.12 233.95h2.29v3h-2.29zM455.18 233.95h1.63v3h-1.63zM465.49 243.15h2.22v3h-2.22zM418.75 321.35h0.75v3h-0.75zM406.74 339.75h1.53v3h-1.53zM439.11 348.95h2.13v3h-2.13zM415.89 353.55h1.77v3h-1.77z"/>
<path fill="#b4b4c8" stroke="#000" stroke-width="0.45" d="M414.6 109.75h2.54v3h-2.54zM424.74 123.55h1.6v3h-1.6zM414.69 128.15h1.84v3h-1.84zM460.09 128.15h1.73v3h-1.73zM439.82 132.75h2.46v3h-2.46zM470.38 137.35h2.15v3h-2.15zM473.16 141.95h2.15v3h-2.15zM465.39 151.15h2.33v3h-2.33zM422.15 224.75h2.33v3h-2.33zM412.41 233.95h2.07v3h-2.07zM456.81 233.95h2.01v3h-2.01zM467.7 243.15h1.79v3h-1.79zM408.27 339.75h2.05v3h-2.05zM441.25 348.95h1.52v3h-1.52zM417.66 353.55h2.51v3h-2.51z"/>
<path fill="#14a0a0" stroke="#000" stroke-width="0.45" d="M417.14 109.75h1.53v3h-1.53zM426.34 123.55h1.73v3h-1.73zM416.53 128.15h1.55v3h-1.55zM461.82 128.15h2.54v3h-2.54zM442.28 132.75h1.83v3h-1.83zM472.52 137.35h1.71v3h-1.71zM475.32 141.95h0.93v3h-0.93zM467.72 151.15h2.45v3h-2.45zM424.48 224.75h1.8v3h-1.8zM414.48 233.95h1.75v3h-1.75zM458.82 233.95h1.93v3h-1.93zM469.49 243.15h2.52v3h-2.52zM410.32 339.75h2.2v3h-2.2zM442.77 348.95h2v3h-2zM420.16 353.55h2.06v3h-2.06z"/>
<path fill="#f5f014" stroke="#000" stroke-width="0.45" d="M418.67 109.75h2.18v3h-2.18zM428.06 123.55h2.56v3h-2.56zM418.08 128.15h1.6v3h-1.6zM464.36 128.15h1.39v3h-1.39zM444.12 132.75h2.37v3h-2.37zM474.23 137.35h2.02v3h-2.02zM470.17 151.15h1.63v3h-1.63zM426.28 224.75h2.41v3h-2.41zM416.23 233.95h1.57v3h-1.57zM472.01 243.15h1.67v3h-1.67zM412.52 339.75h2.4v3h-2.4zM444.77 348.95h1.86v3h-1.86zM422.23 353.55h2.15v3h-2.15z"/>
<path fill="#c83296" stroke="#000" stroke-width="0.45" d="M420.85 109.75h1.75v3h-1.75zM430.62 123.55h2.16v3h-2.16zM419.68 128.15h1.98v3h-1.98zM446.49 132.75h1.65v3h-1.65zM471.79 151.15h2.32v3h-2.32zM428.69 224.75h2.5v3h-2.5zM417.81 233.95h1.55v3h-1.55zM473.68 243.15h1.93v3h-1.93zM414.92 339.75h2.11v3h-2.11zM446.63 348.95h1.87v3h-1.87zM424.38 353.55h2.16v3h-2.16z"/>
<path fill="#2f55b0" d="M494.3 10.8h4.8v6h-4.8z"/>
<path fill="#ee1020" d="M494.3 19.2h4.8v6h-4.8z"/>
<path fill="#1faa44" d="M494.3 27.5h4.8v6h-4.8z"/>
<path fill="#8c44b0" d="M494.3 36h4.8v6h-4.8z"/>
<path fill="#ff7a14" d="M494.3 44.5h4.8v6h-4.8z"/>
<path fill="#000" d="M494.3 52.7h4.8v6h-4.8z"/>
<path fill="#8b5a1e" d="M494.3 61.7h4.8v6h-4.8z"/>
<path fill="#1c2a80" d="M494.3 68.8h4.8v6h-4.8z"/>
<path fill="#5a0a5e" d="M494.3 75.9h4.8v6h-4.8z"/>
<path fill="#a81014" d="M494.3 83.3h4.8v6h-4.8z"/>
<path fill="none" stroke="#555" stroke-width="0.5" d="M47.6 6.3L47.6 362M208.6 8.5L208.6 362.5"/>
<path fill="none" stroke="#555" stroke-width="0.3" d="M46.6 10.25L47.8 10.25M46.6 12.29L47.8 12.29M46.6 14.33L47.8 14.33M46.6 16.37L47.8 16.37M46.6 18.41L47.8 18.41M46.6 20.45L47.8 20.45M46.6 22.49L47.8 22.49M46.6 24.53L47.8 24.53M46.6 26.57L47.8 26.57M46.6 28.61L47.8 28.61M46.6 30.65L47.8 30.65M46.6 32.69L47.8 32.69M46.6 34.73L47.8 34.73M46.6 36.77L47.8 36.77M46.6 38.81L47.8 38.81M46.6 40.85L47.8 40.85M46.6 42.89L47.8 42.89M46.6 44.93L47.8 44.93M46.6 46.97L47.8 46.97M46.6 49.01L47.8 49.01M46.6 51.05L47.8 51.05M46.6 53.09L47.8 53.09M46.6 55.13L47.8 55.13M46.6 57.17L47.8 57.17M46.6 59.21L47.8 59.21M46.6 61.25L47.8 61.25M46.6 63.29L47.8 63.29M46.6 65.33L47.8 65.33M46.6 67.37L47.8 67.37M46.6 69.41L47.8 69.41M46.6 71.45L47.8 71.45M46.6 73.49L47.8 73.49M46.6 75.53L47.8 75.53M46.6 77.57L47.8 77.57M46.6 79.61L47.8 79.61M46.6 81.65L47.8 81.65M46.6 83.69L47.8 83.69M46.6 85.73L47.8 85.73M46.6 87.77L47.8 87.77M46.6 89.81L47.8 89.81M46.6 91.85L47.8 91.85M46.6 93.89L47.8 93.89M46.6 95.93L47.8 95.93M46.6 97.97L47.8 97.97M46.6 100.01L47.8 100.01M46.6 102.05L47.8 102.05M46.6 104.09L47.8 104.09M46.6 106.13L47.8 106.13M46.6 108.17L47.8 108.17M46.6 110.21L47.8 110.21M46.6 112.25L47.8 112.25M46.6 114.29L47.8 114.29M46.6 116.33L47.8 116.33M46.6 118.37L47.8 118.37M46.6 120.41L47.8 120.41M46.6 122.45L47.8 122.45M46.6 124.49L47.8 124.49M46.6 126.53L47.8 126.53M46.6 128.57L47.8 128.57M46.6 130.61L47.8 130.61M46.6 132.65L47.8 132.65M46.6 134.69L47.8 134.69M46.6 136.73L47.8 136.73M46.6 138.77L47.8 138.77M46.6 140.81L47.8 140.81M46.6 142.85L47.8 142.85M46.6 144.89L47.8 144.89M46.6 146.93L47.8 146.93M46.6 148.97L47.8 148.97M46.6 151.01L47.8 151.01M46.6 153.05L47.8 153.05M46.6 155.09L47.8 155.09M46.6 157.13L47.8 157.13M46.6 159.17L47.8 159.17M46.6 161.21L47.8 161.21M46.6 163.25L47.8 163.25M46.6 165.29L47.8 165.29M46.6 167.33L47.8 167.33M46.6 169.37L47.8 169.37M46.6 171.41L47.8 171.41M46.6 173.45L47.8 173.45M46.6 175.49L47.8 175.49M46.6 177.53L47.8 177.53M46.6 179.57L47.8 179.57M46.6 181.61L47.8 181.61M46.6 183.65L47.8 183.65M46.6 185.69L47.8 185.69M46.6 187.73L47.8 187.73M46.6 189.77L47.8 189.77M46.6 191.81L47.8 191.81M46.6 193.85L47.8 193.85M46.6 195.89L47.8 195.89M46.6 197.93L47.8 197.93M46.6 199.97L47.8 199.97M46.6 202.01L47.8 202.01M46.6 204.05L47.8 204.05M46.6 206.09L47.8 206.09M46.6 208.13L47.8 208.13M46.6 210.17L47.8 210.17M46.6 212.21L47.8 212.21M46.6 214.25L47.8 214.25M46.6 216.29L47.8 216.29M46.6 218.33L47.8 218.33M46.6 220.37L47.8 220.37M46.6 222.41L47.8 222.41M46.6 224.45L47.8 224.45M46.6 226.49L47.8 226.49M46.6 228.53L47.8 228.53M46.6 230.57L47.8 230.57M46.6 232.61L47.8 232.61M46.6 234.65L47.8 234.65M46.6 236.69L47.8 236.69M46.6 238.73L47.8 238.73M46.6 240.77L47.8 240.77M46.6 242.81L47.8 242.81M46.6 244.85L47.8 244.85M46.6 246.89L47.8 246.89M46.6 248.93L47.8 248.93M46.6 250.97L47.8 250.97M46.6 253.01L47.8 253.01M46.6 255.05L47.8 255.05M46.6 257.09L47.8 257.09M46.6 259.13L47.8 259.13M46.6 261.17L47.8 261.17M46.6 263.21L47.8 263.21M46.6 265.25L47.8 265.25M46.6 267.29L47.8 267.29M46.6 269.33L47.8 269.33M46.6 271.37L47.8 271.37M46.6 273.41L47.8 273.41M46.6 275.45L47.8 275.45M46.6 277.49L47.8 277.49M46.6 279.53L47.8 279.53M46.6 281.57L47.8 281.57M46.6 283.61L47.8 283.61M46.6 285.65L47.8 285.65M46.6 287.69L47.8 287.69M46.6 289.73L47.8 289.73M46.6 291.77L47.8 291.77M46.6 293.81L47.8 293.81M46.6 295.85L47.8 295.85M46.6 297.89L47.8 297.89M46.6 299.93L47.8 299.93M46.6 301.97L47.8 301.97M46.6 304.01L47.8 304.01M46.6 306.05L47.8 306.05M46.6 308.09L47.8 308.09M46.6 310.13L47.8 310.13M46.6 312.17L47.8 312.17M46.6 314.21L47.8 314.21M46.6 316.25L47.8 316.25M46.6 318.29L47.8 318.29M46.6 320.33L47.8 320.33M46.6 322.37L47.8 322.37M46.6 324.41L47.8 324.41M46.6 326.45L47.8 326.45M46.6 328.49L47.8 328.49M46.6 330.53L47.8 330.53M46.6 332.57L47.8 332.57M46.6 334.61L47.8 334.61M46.6 336.65L47.8 336.65M46.6 338.69L47.8 338.69M46.6 340.73L47.8 340.73M46.6 342.77L47.8 342.77M46.6 344.81L47.8 344.81M46.6 346.85L47.8 346.85M46.6 348.89L47.8 348.89M46.6 350.93L47.8 350.93M46.6 352.97L47.8 352.97M46.6 355.01L47.8 355.01M46.6 357.05L47.8 357.05M46.6 359.09L47.8 359.09M46.6 361.13L47.8 361.13M207.6 12.5L208.8 12.5M207.6 15.23L208.8 15.23M207.6 17.97L208.8 17.97M207.6 20.7L208.8 20.7M207.6 23.44L208.8 23.44M207.6 26.17L208.8 26.17M207.6 28.91L208.8 28.91M207.6 31.64L208.8 31.64M207.6 34.38L208.8 34.38M207.6 37.11L208.8 37.11M207.6 39.85L208.8 39.85M207.6 42.58L208.8 42.58M207.6 45.32L208.8 45.32M207.6 48.05L208.8 48.05M207.6 50.79L208.8 50.79M207.6 53.52L208.8 53.52M207.6 56.26L208.8 56.26M207.6 58.99L208.8 58.99M207.6 61.73L208.8 61.73M207.6 64.47L208.8 64.47M207.6 67.2L208.8 67.2M207.6 69.94L208.8 69.94M207.6 72.67L208.8 72.67M207.6 75.41L208.8 75.41M207.6 78.14L208.8 78.14M207.6 80.88L208.8 80.88M207.6 83.61L208.8 83.61M207.6 86.34L208.8 86.34M207.6 89.08L208.8 89.08M207.6 91.81L208.8 91.81M207.6 94.55L208.8 94.55M207.6 97.28L208.8 97.28M207.6 100.02L208.8 100.02M207.6 102.75L208.8 102.75M207.6 105.49L208.8 105.49M207.6 108.22L208.8 108.22M207.6 110.96L208.8 110.96M207.6 113.69L208.8 113.69M207.6 116.43L208.8 116.43M207.6 119.16L208.8 119.16M207.6 121.9L208.8 121.9M207.6 124.63L208.8 124.63M207.6 127.37L208.8 127.37M207.6 130.1L208.8 130.1M207.6 132.84L208.8 132.84M207.6 135.57L208.8 135.57M207.6 138.31L208.8 138.31M207.6 141.04L208.8 141.04M207.6 143.78L208.8 143.78M207.6 146.51L208.8 146.51M207.6 149.25L208.8 149.25M207.6 151.98L208.8 151.98M207.6 154.72L208.8 154.72M207.6 157.45L208.8 157.45M207.6 160.19L208.8 160.19M207.6 162.92L208.8 162.92M207.6 165.66L208.8 165.66M207.6 168.39L208.8 168.39M207.6 171.13L208.8 171.13M207.6 173.86L208.8 173.86M207.6 176.6L208.8 176.6M207.6 179.33L208.8 179.33M207.6 182.07L208.8 182.07M207.6 184.8L208.8 184.8M207.6 187.54L208.8 187.54M207.6 190.28L208.8 190.28M207.6 193.01L208.8 193.01M207.6 195.75L208.8 195.75M207.6 198.48L208.8 198.48M207.6 201.22L208.8 201.22M207.6 203.95L208.8 203.95M207.6 206.69L208.8 206.69M207.6 209.42L208.8 209.42M207.6 212.16L208.8 212.16M207.6 214.89L208.8 214.89M207.6 217.62L208.8 217.62M207.6 220.36L208.8 220.36M207.6 223.09L208.8 223.09M207.6 225.83L208.8 225.83M207.6 228.56L208.8 228.56M207.6 231.3L208.8 231.3M207.6 234.03L208.8 234.03M207.6 236.77L208.8 236.77M207.6 239.5L208.8 239.5M207.6 242.24L208.8 242.24M207.6 244.97L208.8 244.97M207.6 247.71L208.8 247.71M207.6 250.44L208.8 250.44M207.6 253.18L208.8 253.18M207.6 255.91L208.8 255.91M207.6 258.65L208.8 258.65M207.6 261.38L208.8 261.38M207.6 264.12L208.8 264.12M207.6 266.86L208.8 266.86M207.6 269.59L208.8 269.59M207.6 272.32L208.8 272.32M207.6 275.06L208.8 275.06M207.6 277.8L208.8 277.8M207.6 280.53L208.8 280.53M207.6 283.26L208.8 283.26M207.6 286L208.8 286M207.6 288.74L208.8 288.74M207.6 291.47L208.8 291.47M207.6 294.2L208.8 294.2M207.6 296.94L208.8 296.94M207.6 299.68L208.8 299.68M207.6 302.41L208.8 302.41M207.6 305.14L208.8 305.14M207.6 307.88L208.8 307.88M207.6 310.62L208.8 310.62M207.6 313.35L208.8 313.35M207.6 316.08L208.8 316.08M207.6 318.82L208.8 318.82M207.6 321.56L208.8 321.56M207.6 324.29L208.8 324.29M207.6 327.02L208.8 327.02M207.6 329.76L208.8 329.76M207.6 332.5L208.8 332.5M207.6 335.23L208.8 335.23M207.6 337.96L208.8 337.96M207.6 340.7L208.8 340.7M207.6 343.44L208.8 343.44M207.6 346.17L208.8 346.17M207.6 348.9L208.8 348.9M207.6 351.64L208.8 351.64M207.6 354.38L208.8 354.38M207.6 357.11L208.8 357.11M207.6 359.84L208.8 359.84"/>
<path fill="none" stroke="#222" stroke-width="0.75" d="M47.5 362.2L142.5 362.2M208.5 362.5L310 362.5M361 362.9L488 362.9"/>
<path fill="none" stroke="#333" stroke-width="0.45" d="M47.8 362.2L47.8 364.2M49.64 362.2L49.64 363.7M51.48 362.2L51.48 363.7M53.32 362.2L53.32 363.7M55.16 362.2L55.16 363.7M57 362.2L57 363.7M58.84 362.2L58.84 363.7M60.68 362.2L60.68 363.7M62.52 362.2L62.52 363.7M64.36 362.2L64.36 363.7M66.2 362.2L66.2 364.2M68.04 362.2L68.04 363.7M69.88 362.2L69.88 363.7M71.72 362.2L71.72 363.7M73.56 362.2L73.56 363.7M75.4 362.2L75.4 363.7M77.24 362.2L77.24 363.7M79.08 362.2L79.08 363.7M80.92 362.2L80.92 363.7M82.76 362.2L82.76 363.7M84.6 362.2L84.6 364.2M86.44 362.2L86.44 363.7M88.28 362.2L88.28 363.7M90.12 362.2L90.12 363.7M91.96 362.2L91.96 363.7M93.8 362.2L93.8 363.7M95.64 362.2L95.64 363.7M97.48 362.2L97.48 363.7M99.32 362.2L99.32 363.7M101.16 362.2L101.16 363.7M103 362.2L103 364.2M104.84 362.2L104.84 363.7M106.68 362.2L106.68 363.7M108.52 362.2L108.52 363.7M110.36 362.2L110.36 363.7M112.2 362.2L112.2 363.7M114.04 362.2L114.04 363.7M115.88 362.2L115.88 363.7M117.72 362.2L117.72 363.7M119.56 362.2L119.56 363.7M121.4 362.2L121.4 364.2M123.24 362.2L123.24 363.7M125.08 362.2L125.08 363.7M126.92 362.2L126.92 363.7M128.76 362.2L128.76 363.7M130.6 362.2L130.6 363.7M132.44 362.2L132.44 363.7M134.28 362.2L134.28 363.7M136.12 362.2L136.12 363.7M137.96 362.2L137.96 363.7M139.8 362.2L139.8 364.2M208.8 362.5L208.8 364.5M210.74 362.5L210.74 364M212.68 362.5L212.68 364M214.61 362.5L214.61 364M216.55 362.5L216.55 364M218.49 362.5L218.49 364M220.43 362.5L220.43 364M222.37 362.5L222.37 364M224.3 362.5L224.3 364M226.24 362.5L226.24 364M228.18 362.5L228.18 364.5M230.12 362.5L230.12 364M232.06 362.5L232.06 364M233.99 362.5L233.99 364M235.93 362.5L235.93 364M237.87 362.5L237.87 364M239.81 362.5L239.81 364M241.75 362.5L241.75 364M243.68 362.5L243.68 364M245.62 362.5L245.62 364M247.56 362.5L247.56 364.5M249.5 362.5L249.5 364M251.44 362.5L251.44 364M253.37 362.5L253.37 364M255.31 362.5L255.31 364M257.25 362.5L257.25 364M259.19 362.5L259.19 364M261.13 362.5L261.13 364M263.06 362.5L263.06 364M265 362.5L265 364M266.94 362.5L266.94 364.5M268.88 362.5L268.88 364M270.82 362.5L270.82 364M272.75 362.5L272.75 364M274.69 362.5L274.69 364M276.63 362.5L276.63 364M278.57 362.5L278.57 364M280.51 362.5L280.51 364M282.44 362.5L282.44 364M284.38 362.5L284.38 364M286.32 362.5L286.32 364.5M288.26 362.5L288.26 364M290.2 362.5L290.2 364M292.13 362.5L292.13 364M294.07 362.5L294.07 364M296.01 362.5L296.01 364M297.95 362.5L297.95 364M299.89 362.5L299.89 364M301.82 362.5L301.82 364M303.76 362.5L303.76 364M305.7 362.5L305.7 364.5M361.3 362.9L361.3 364.9M363.76 362.9L363.76 364.4M366.21 362.9L366.21 364.4M368.67 362.9L368.67 364.4M371.12 362.9L371.12 364.4M373.58 362.9L373.58 364.4M376.04 362.9L376.04 364.4M378.49 362.9L378.49 364.4M380.95 362.9L380.95 364.4M383.4 362.9L383.4 364.4M385.86 362.9L385.86 364.9M388.32 362.9L388.32 364.4M390.77 362.9L390.77 364.4M393.23 362.9L393.23 364.4M395.68 362.9L395.68 364.4M398.14 362.9L398.14 364.4M400.6 362.9L400.6 364.4M403.05 362.9L403.05 364.4M405.51 362.9L405.51 364.4M407.96 362.9L407.96 364.4M410.42 362.9L410.42 364.9M412.88 362.9L412.88 364.4M415.33 362.9L415.33 364.4M417.79 362.9L417.79 364.4M420.24 362.9L420.24 364.4M422.7 362.9L422.7 364.4M425.16 362.9L425.16 364.4M427.61 362.9L427.61 364.4M430.07 362.9L430.07 364.4M432.52 362.9L432.52 364.4M434.98 362.9L434.98 364.9M437.44 362.9L437.44 364.4M439.89 362.9L439.89 364.4M442.35 362.9L442.35 364.4M444.8 362.9L444.8 364.4M447.26 362.9L447.26 364.4M449.72 362.9L449.72 364.4M452.17 362.9L452.17 364.4M454.63 362.9L454.63 364.4M457.08 362.9L457.08 364.4M459.54 362.9L459.54 364.9M462 362.9L462 364.4M464.45 362.9L464.45 364.4M466.91 362.9L466.91 364.4M469.36 362.9L469.36 364.4M471.82 362.9L471.82 364.4M474.28 362.9L474.28 364.4M476.73 362.9L476.73 364.4M479.19 362.9L479.19 364.4M481.64 362.9L481.64 364.4M484.1 362.9L484.1 364.9"/>
<path fill="none" stroke="#111" stroke-width="1.1" d="M22.9 109.4L28.4 109.4M22.9 289L28.4 289M182.4 74.1L187.9 74.1M182.4 249.4L187.9 249.4M336.4 41L341.9 41M336.4 109L341.9 109M336.4 198.8L341.9 198.8M336.4 305L341.9 305"/>
<path fill="none" stroke="#444" stroke-width="0.6" d="M361.1 15.5L361.1 363.4"/>
<path fill="none" stroke="#444" stroke-width="0.4" d="M359.8 19.25L361.3 19.25M359.8 23.85L361.3 23.85M359.8 28.45L361.3 28.45M359.8 33.05L361.3 33.05M359.8 37.65L361.3 37.65M359.8 42.25L361.3 42.25M359.8 46.85L361.3 46.85M359.8 51.45L361.3 51.45M359.8 56.05L361.3 56.05M359.8 60.65L361.3 60.65M359.8 65.25L361.3 65.25M359.8 69.85L361.3 69.85M359.8 74.45L361.3 74.45M359.8 79.05L361.3 79.05M359.8 83.65L361.3 83.65M359.8 88.25L361.3 88.25M359.8 92.85L361.3 92.85M359.8 97.45L361.3 97.45M359.8 102.05L361.3 102.05M359.8 106.65L361.3 106.65M359.8 111.25L361.3 111.25M359.8 115.85L361.3 115.85M359.8 120.45L361.3 120.45M359.8 125.05L361.3 125.05M359.8 129.65L361.3 129.65M359.8 134.25L361.3 134.25M359.8 138.85L361.3 138.85M359.8 143.45L361.3 143.45M359.8 148.05L361.3 148.05M359.8 152.65L361.3 152.65M359.8 157.25L361.3 157.25M359.8 161.85L361.3 161.85M359.8 166.45L361.3 166.45M359.8 171.05L361.3 171.05M359.8 175.65L361.3 175.65M359.8 180.25L361.3 180.25M359.8 184.85L361.3 184.85M359.8 189.45L361.3 189.45M359.8 194.05L361.3 194.05M359.8 198.65L361.3 198.65M359.8 203.25L361.3 203.25M359.8 207.85L361.3 207.85M359.8 212.45L361.3 212.45M359.8 217.05L361.3 217.05M359.8 221.65L361.3 221.65M359.8 226.25L361.3 226.25M359.8 230.85L361.3 230.85M359.8 235.45L361.3 235.45M359.8 240.05L361.3 240.05M359.8 244.65L361.3 244.65M359.8 249.25L361.3 249.25M359.8 253.85L361.3 253.85M359.8 258.45L361.3 258.45M359.8 263.05L361.3 263.05M359.8 267.65L361.3 267.65M359.8 272.25L361.3 272.25M359.8 276.85L361.3 276.85M359.8 281.45L361.3 281.45M359.8 286.05L361.3 286.05M359.8 290.65L361.3 290.65M359.8 295.25L361.3 295.25M359.8 299.85L361.3 299.85M359.8 304.45L361.3 304.45M359.8 309.05L361.3 309.05M359.8 313.65L361.3 313.65M359.8 318.25L361.3 318.25M359.8 322.85L361.3 322.85M359.8 327.45L361.3 327.45M359.8 332.05L361.3 332.05M359.8 336.65L361.3 336.65M359.8 341.25L361.3 341.25M359.8 345.85L361.3 345.85M359.8 350.45L361.3 350.45M359.8 355.05L361.3 355.05M359.8 359.65L361.3 359.65"/>
<g text-anchor="end" transform="rotate(0.03)"><text x="46.40" y="11.05" font-size="2.3" font-weight="bold" fill="#000">S3</text><text x="46.40" y="13.09" font-size="2.3" font-weight="bold" fill="#000">S1</text><text x="46.40" y="15.13" font-size="2.3" font-weight="bold" fill="#000">S9</text><text x="46.40" y="17.17" font-size="2.3" font-weight="bold" fill="#000">S1</text><text x="46.40" y="19.21" font-size="2.3" font-weight="bold" fill="#000">ST23_1</text><text x="46.40" y="21.25" font-size="2.3" font-weight="bold" fill="#000">S7</text><text x="46.40" y="23.29" font-size="2.3" font-weight="bold" fill="#000">S2</text><text x="46.40" y="25.33" font-size="2.3" font-weight="bold" fill="#000">S1</text><text x="46.40" y="27.37" font-size="2.3" font-weight="bold" fill="#000">ST17_1</text><text x="46.40" y="29.41" font-size="2.3" font-weight="bold" fill="#000">S1</text><text x="46.40" y="31.45" font-size="2.3" font-weight="bold" fill="#000">S7</text><text x="46.40" y="33.49" font-size="2.3" font-weight="bold" fill="#000">S4</text><text x="46.40" y="35.53" font-size="2.3" font-weight="bold" fill="#000">S3</text><text x="46.40" y="37.57" font-size="2.3" font-weight="bold" fill="#000">S3</text><text x="46.40" y="39.61" font-size="2.3" font-weight="bold" fill="#000">S5</text><text x="46.40" y="41.65" font-size="2.3" font-weight="bold" fill="#000">S3</text><text x="46.40" y="43.69" font-size="2.3" font-weight="bold" fill="#000">S4</text><text x="46.40" y="45.73" font-size="2.3" font-weight="bold" fill="#000">S9</text><text x="46.40" y="47.77" font-size="2.3" font-weight="bold" fill="#000">S4</text><text x="46.40" y="49.81" font-size="2.3" font-weight="bold" fill="#000">S7</text><text x="46.40" y="51.85" font-size="2.3" font-weight="bold" fill="#000">SS62</text><text x="46.40" y="53.89" font-size="2.3" font-weight="bold" fill="#000">S1</text><text x="46.40" y="55.93" font-size="2.3" font-weight="bold" fill="#000">S2</text><text x="46.40" y="57.97" font-size="2.3" font-weight="bold" fill="#000">S7</text><text x="46.40" y="60.01" font-size="2.3" font-weight="bold" fill="#000">S5</text><text x="46.40" y="62.05" font-size="2.3" font-weight="bold" fill="#000">S1</text><text x="46.40" y="64.09" font-size="2.3" font-weight="bold" fill="#000">S4</text><text x="46.40" y="66.13" font-size="2.3" font-weight="bold" fill="#000">S4</text><text x="46.40" y="68.17" font-size="2.3" font-weight="bold" fill="#000">S2</text><text x="46.40" y="70.21" font-size="2.3" font-weight="bold" fill="#000">ST58_3</text><text x="46.40" y="72.25" font-size="2.3" font-weight="bold" fill="#000">SS58</text><text x="46.40" y="74.29" font-size="2.3" font-weight="bold" fill="#000">S6</text><text x="46.40" y="76.33" font-size="2.3" font-weight="bold" fill="#000">SS58</text><text x="46.40" y="78.37" font-size="2.3" font-weight="bold" fill="#000">S8</text><text x="46.40" y="80.41" font-size="2.3" font-weight="bold" fill="#000">S9</text><text x="46.40" y="82.45" font-size="2.3" font-weight="bold" fill="#000">S3</text><text x="46.40" y="84.49" font-size="2.3" font-weight="bold" fill="#000">SS48</text><text x="46.40" y="86.53" font-size="2.3" font-weight="bold" fill="#000">S2</text><text x="46.40" y="88.57" font-size="2.3" font-weight="bold" fill="#000">ST18_2</text><text x="46.40" y="90.61" font-size="2.3" font-weight="bold" fill="#000">ST63_1</text><text x="46.40" y="92.65" font-size="2.3" font-weight="bold" fill="#000">S5</text><text x="46.40" y="94.69" font-size="2.3" font-weight="bold" fill="#000">S2</text><text x="46.40" y="96.73" font-size="2.3" font-weight="bold" fill="#000">S2</text><text x="46.40" y="98.77" font-size="2.3" font-weight="bold" fill="#000">S9</text><text x="46.40" y="100.81" font-size="2.3" font-weight="bold" fill="#000">S5</text><text x="46.40" y="102.85" font-size="2.3" font-weight="bold" fill="#000">S2</text><text x="46.40" y="104.89" font-size="2.3" font-weight="bold" fill="#000">S9</text><text x="46.40" y="106.93" font-size="2.3" font-weight="bold" fill="#000">SS40</text><text x="46.40" y="108.97" font-size="2.3" font-weight="bold" fill="#000">S3</text><text x="46.40" y="111.01" font-size="2.3" font-weight="bold" fill="#000">ST38_2</text><text x="46.40" y="113.05" font-size="2.3" font-weight="bold" fill="#000">S6</text><text x="46.40" y="115.09" font-size="2.3" font-weight="bold" fill="#000">S9</text><text x="46.40" y="117.13" font-size="2.3" font-weight="bold" fill="#000">S3</text><text x="46.40" y="119.17" font-size="2.3" font-weight="bold" fill="#000">S7</text><text x="46.40" y="121.21" font-size="2.3" font-weight="bold" fill="#000">S2</text><text x="46.40" y="123.25" font-size="2.3" font-weight="bold" fill="#000">SS33</text><text x="46.40" y="125.29" font-size="2.3" font-weight="bold" fill="#000">ST56_1</text><text x="46.40" y="127.33" font-size="2.3" font-weight="bold" fill="#000">S1</text><text x="46.40" y="129.37" font-size="2.3" font-weight="bold" fill="#000">S6</text><text x="46.40" y="131.41" font-size="2.3" font-weight="bold" fill="#000">S3</text><text x="46.40" y="133.45" font-size="2.3" font-weight="bold" fill="#000">S2</text><text x="46.40" y="135.49" font-size="2.3" font-weight="bold" fill="#000">S9</text><text x="46.40" y="137.53" font-size="2.3" font-weight="bold" fill="#000">S3</text><text x="46.40" y="139.57" font-size="2.3" font-weight="bold" fill="#000">S4</text><text x="46.40" y="141.61" font-size="2.3" font-weight="bold" fill="#000">S2</text><text x="46.40" y="143.65" font-size="2.3" font-weight="bold" fill="#000">S6</text><text x="46.40" y="145.69" font-size="2.3" font-weight="bold" fill="#000">S9</text><text x="46.40" y="147.73" font-size="2.3" font-weight="bold" fill="#000">S6</text><text x="46.40" y="149.77" font-size="2.3" font-weight="bold" fill="#000">ST26_3</text><text x="46.40" y="151.81" font-size="2.3" font-weight="bold" fill="#000">S3</text><text x="46.40" y="153.85" font-size="2.3" font-weight="bold" fill="#000">S7</text><text x="46.40" y="155.89" font-size="2.3" font-weight="bold" fill="#000">ST45_1</text><text x="46.40" y="157.93" font-size="2.3" font-weight="bold" fill="#000">S6</text><text x="46.40" y="159.97" font-size="2.3" font-weight="bold" fill="#000">S7</text><text x="46.40" y="162.01" font-size="2.3" font-weight="bold" fill="#000">S1</text><text x="46.40" y="164.05" font-size="2.3" font-weight="bold" fill="#000">ST61_2</text><text x="46.40" y="166.09" font-size="2.3" font-weight="bold" fill="#000">S2</text><text x="46.40" y="168.13" font-size="2.3" font-weight="bold" fill="#000">S9</text><text x="46.40" y="170.17" font-size="2.3" font-weight="bold" fill="#000">S2</text><text x="46.40" y="172.21" font-size="2.3" font-weight="bold" fill="#000">S4</text><text x="46.40" y="174.25" font-size="2.3" font-weight="bold" fill="#000">S2</text><text x="46.40" y="176.29" font-size="2.3" font-weight="bold" fill="#000">S9</text><text x="46.40" y="178.33" font-size="2.3" font-weight="bold" fill="#000">S6</text><text x="46.40" y="180.37" font-size="2.3" font-weight="bold" fill="#000">S1</text><text x="46.40" y="182.41" font-size="2.3" font-weight="bold" fill="#000">S6</text><text x="46.40" y="184.45" font-size="2.3" font-weight="bold" fill="#000">S5</text><text x="46.40" y="186.49" font-size="2.3" font-weight="bold" fill="#000">S9</text><text x="46.40" y="188.53" font-size="2.3" font-weight="bold" fill="#000">S4</text><text x="46.40" y="190.57" font-size="2.3" font-weight="bold" fill="#000">S7</text><text x="46.40" y="192.61" font-size="2.3" font-weight="bold" fill="#000">S5</text><text x="46.40" y="194.65" font-size="2.3" font-weight="bold" fill="#000">ST62_3</text><text x="46.40" y="196.69" font-size="2.3" font-weight="bold" fill="#000">ST48_1</text><text x="46.40" y="198.73" font-size="2.3" font-weight="bold" fill="#000">ST42_2</text><text x="46.40" y="200.77" font-size="2.3" font-weight="bold" fill="#000">S4</text><text x="46.40" y="202.81" font-size="2.3" font-weight="bold" fill="#000">S3</text><text x="46.40" y="204.85" font-size="2.3" font-weight="bold" fill="#000">S9</text><text x="46.40" y="206.89" font-size="2.3" font-weight="bold" fill="#000">ST56_1</text><text x="46.40" y="208.93" font-size="2.3" font-weight="bold" fill="#000">S8</text><text x="46.40" y="210.97" font-size="2.3" font-weight="bold" fill="#000">MF53_2</text><text x="46.40" y="213.01" font-size="2.3" font-weight="bold" fill="#000">MF42_2</text><text x="46.40" y="215.05" font-size="2.3" font-weight="bold" fill="#000">MF22_1</text><text x="46.40" y="217.09" font-size="2.3" font-weight="bold" fill="#000">MF45_3</text><text x="46.40" y="219.13" font-size="2.3" font-weight="bold" fill="#000">MF21</text><text x="46.40" y="221.17" font-size="2.3" font-weight="bold" fill="#000">MF50_2</text><text x="46.40" y="223.21" font-size="2.3" font-weight="bold" fill="#000">MF25_1</text><text x="46.40" y="225.25" font-size="2.3" font-weight="bold" fill="#000">MF45</text><text x="46.40" y="227.29" font-size="2.3" font-weight="bold" fill="#000">MF22_3</text><text x="46.40" y="229.33" font-size="2.3" font-weight="bold" fill="#000">MF88</text><text x="46.40" y="231.37" font-size="2.3" font-weight="bold" fill="#000">MF52_4</text><text x="46.40" y="233.41" font-size="2.3" font-weight="bold" fill="#000">MF31</text><text x="46.40" y="235.45" font-size="2.3" font-weight="bold" fill="#000">MF89</text><text x="46.40" y="237.49" font-size="2.3" font-weight="bold" fill="#000">MF51_3</text><text x="46.40" y="239.53" font-size="2.3" font-weight="bold" fill="#000">MF18_2</text><text x="46.40" y="241.57" font-size="2.3" font-weight="bold" fill="#000">MF25_3</text><text x="46.40" y="243.61" font-size="2.3" font-weight="bold" fill="#000">MF17_4</text><text x="46.40" y="245.65" font-size="2.3" font-weight="bold" fill="#000">MF20_2</text><text x="46.40" y="247.69" font-size="2.3" font-weight="bold" fill="#000">MF39_4</text><text x="46.40" y="249.73" font-size="2.3" font-weight="bold" fill="#000">MF17_3</text><text x="46.40" y="251.77" font-size="2.3" font-weight="bold" fill="#000">MF63</text><text x="46.40" y="253.81" font-size="2.3" font-weight="bold" fill="#000">MF8</text><text x="46.40" y="255.85" font-size="2.3" font-weight="bold" fill="#000">MF26_1</text><text x="46.40" y="257.89" font-size="2.3" font-weight="bold" fill="#000">MF51</text><text x="46.40" y="259.93" font-size="2.3" font-weight="bold" fill="#000">MF33_3</text><text x="46.40" y="261.97" font-size="2.3" font-weight="bold" fill="#000">MF41_2</text><text x="46.40" y="264.01" font-size="2.3" font-weight="bold" fill="#000">MF10</text><text x="46.40" y="266.05" font-size="2.3" font-weight="bold" fill="#000">MF19_4</text><text x="46.40" y="268.09" font-size="2.3" font-weight="bold" fill="#000">MF87</text><text x="46.40" y="270.13" font-size="2.3" font-weight="bold" fill="#000">MF59</text><text x="46.40" y="272.17" font-size="2.3" font-weight="bold" fill="#000">MF59_1</text><text x="46.40" y="274.21" font-size="2.3" font-weight="bold" fill="#000">MF26_1</text><text x="46.40" y="276.25" font-size="2.3" font-weight="bold" fill="#000">MF14_3</text><text x="46.40" y="278.29" font-size="2.3" font-weight="bold" fill="#000">MF35_4</text><text x="46.40" y="280.33" font-size="2.3" font-weight="bold" fill="#000">MF50_2</text><text x="46.40" y="282.37" font-size="2.3" font-weight="bold" fill="#000">MF37</text><text x="46.40" y="284.41" font-size="2.3" font-weight="bold" fill="#000">MF32_2</text><text x="46.40" y="286.45" font-size="2.3" font-weight="bold" fill="#000">MF22_1</text><text x="46.40" y="288.49" font-size="2.3" font-weight="bold" fill="#000">MF16_2</text><text x="46.40" y="290.53" font-size="2.3" font-weight="bold" fill="#000">MF15_3</text><text x="46.40" y="292.57" font-size="2.3" font-weight="bold" fill="#000">MF80</text><text x="46.40" y="294.61" font-size="2.3" font-weight="bold" fill="#000">MF18</text><text x="46.40" y="296.65" font-size="2.3" font-weight="bold" fill="#000">MF83</text><text x="46.40" y="298.69" font-size="2.3" font-weight="bold" fill="#000">MF25_2</text><text x="46.40" y="300.73" font-size="2.3" font-weight="bold" fill="#000">MF51_4</text><text x="46.40" y="302.77" font-size="2.3" font-weight="bold" fill="#000">MF14_1</text><text x="46.40" y="304.81" font-size="2.3" font-weight="bold" fill="#000">MF19_1</text><text x="46.40" y="306.85" font-size="2.3" font-weight="bold" fill="#000">MF34_2</text><text x="46.40" y="308.89" font-size="2.3" font-weight="bold" fill="#000">MF47_4</text><text x="46.40" y="310.93" font-size="2.3" font-weight="bold" fill="#000">MF12_3</text><text x="46.40" y="312.97" font-size="2.3" font-weight="bold" fill="#000">MF25_3</text><text x="46.40" y="315.01" font-size="2.3" font-weight="bold" fill="#000">MF60_3</text><text x="46.40" y="317.05" font-size="2.3" font-weight="bold" fill="#000">MF55_3</text><text x="46.40" y="319.09" font-size="2.3" font-weight="bold" fill="#000">MF55_3</text><text x="46.40" y="321.13" font-size="2.3" font-weight="bold" fill="#000">MF58_2</text><text x="46.40" y="323.17" font-size="2.3" font-weight="bold" fill="#000">MF36_1</text><text x="46.40" y="325.21" font-size="2.3" font-weight="bold" fill="#000">MF41_2</text><text x="46.40" y="327.25" font-size="2.3" font-weight="bold" fill="#000">MF45_2</text><text x="46.40" y="329.29" font-size="2.3" font-weight="bold" fill="#000">MF12_1</text><text x="46.40" y="331.33" font-size="2.3" font-weight="bold" fill="#000">MF33</text><text x="46.40" y="333.37" font-size="2.3" font-weight="bold" fill="#000">MF12_2</text><text x="46.40" y="335.41" font-size="2.3" font-weight="bold" fill="#000">MF13_4</text><text x="46.40" y="337.45" font-size="2.3" font-weight="bold" fill="#000">MF34_4</text><text x="46.40" y="339.49" font-size="2.3" font-weight="bold" fill="#000">MF42_2</text><text x="46.40" y="341.53" font-size="2.3" font-weight="bold" fill="#000">MF57_4</text><text x="46.40" y="343.57" font-size="2.3" font-weight="bold" fill="#000">MF41_1</text><text x="46.40" y="345.61" font-size="2.3" font-weight="bold" fill="#000">MF20_3</text><text x="46.40" y="347.65" font-size="2.3" font-weight="bold" fill="#000">MF35_4</text><text x="46.40" y="349.69" font-size="2.3" font-weight="bold" fill="#000">MF51_4</text><text x="46.40" y="351.73" font-size="2.3" font-weight="bold" fill="#000">MF46_1</text><text x="46.40" y="353.77" font-size="2.3" font-weight="bold" fill="#000">MF54_3</text><text x="46.40" y="355.81" font-size="2.3" font-weight="bold" fill="#000">MF32_3</text><text x="46.40" y="357.85" font-size="2.3" font-weight="bold" fill="#000">MF22_4</text><text x="46.40" y="359.89" font-size="2.3" font-weight="bold" fill="#000">MF24_1</text><text x="46.40" y="361.93" font-size="2.3" font-weight="bold" fill="#000">MF23_4</text><text x="207.20" y="13.50" font-size="2.85" font-weight="bold" fill="#000">SP14</text><text x="207.20" y="16.23" font-size="2.85" font-weight="bold" fill="#000">GP552</text><text x="207.20" y="18.97" font-size="2.85" font-weight="bold" fill="#000">GP578</text><text x="207.20" y="21.70" font-size="2.85" font-weight="bold" fill="#000">GP573</text><text x="207.20" y="24.44" font-size="2.85" font-weight="bold" fill="#000">GP583</text><text x="207.20" y="27.17" font-size="2.85" font-weight="bold" fill="#000">GP517</text><text x="207.20" y="29.91" font-size="2.85" font-weight="bold" fill="#000">GP597</text><text x="207.20" y="32.64" font-size="2.85" font-weight="bold" fill="#000">GP543</text><text x="207.20" y="35.38" font-size="2.85" font-weight="bold" fill="#000">GP580</text><text x="207.20" y="38.11" font-size="2.85" font-weight="bold" fill="#000">GP526</text><text x="207.20" y="40.85" font-size="2.85" font-weight="bold" fill="#000">GP571</text><text x="207.20" y="43.58" font-size="2.85" font-weight="bold" fill="#000">GP593</text><text x="207.20" y="46.32" font-size="2.85" font-weight="bold" fill="#000">GP507</text><text x="207.20" y="49.05" font-size="2.85" font-weight="bold" fill="#000">GP514</text><text x="207.20" y="51.79" font-size="2.85" font-weight="bold" fill="#000">GP560</text><text x="207.20" y="54.52" font-size="2.85" font-weight="bold" fill="#000">GP556</text><text x="207.20" y="57.26" font-size="2.85" font-weight="bold" fill="#000">GP527</text><text x="207.20" y="59.99" font-size="2.85" font-weight="bold" fill="#000">GP565</text><text x="207.20" y="62.73" font-size="2.85" font-weight="bold" fill="#000">GP583</text><text x="207.20" y="65.47" font-size="2.85" font-weight="bold" fill="#000">GP595</text><text x="207.20" y="68.20" font-size="2.85" font-weight="bold" fill="#000">GP520</text><text x="207.20" y="70.94" font-size="2.85" font-weight="bold" fill="#000">GP574</text><text x="207.20" y="73.67" font-size="2.85" font-weight="bold" fill="#000">GP512</text><text x="207.20" y="76.41" font-size="2.85" font-weight="bold" fill="#000">GP514</text><text x="207.20" y="79.14" font-size="2.85" font-weight="bold" fill="#000">GP532</text><text x="207.20" y="81.88" font-size="2.85" font-weight="bold" fill="#000">GP543</text><text x="207.20" y="84.61" font-size="2.85" font-weight="bold" fill="#000">GP528</text><text x="207.20" y="87.34" font-size="2.85" font-weight="bold" fill="#000">GP540</text><text x="207.20" y="90.08" font-size="2.85" font-weight="bold" fill="#000">GP598</text><text x="207.20" y="92.81" font-size="2.85" font-weight="bold" fill="#000">GP522</text><text x="207.20" y="95.55" font-size="2.85" font-weight="bold" fill="#000">GP507</text><text x="207.20" y="98.28" font-size="2.85" font-weight="bold" fill="#000">GP588</text><text x="207.20" y="101.02" font-size="2.85" font-weight="bold" fill="#000">GP527</text><text x="207.20" y="103.75" font-size="2.85" font-weight="bold" fill="#000">GP539</text><text x="207.20" y="106.49" font-size="2.85" font-weight="bold" fill="#000">GP540</text><text x="207.20" y="109.22" font-size="2.85" font-weight="bold" fill="#000">GP587</text><text x="207.20" y="111.96" font-size="2.85" font-weight="bold" fill="#000">GP557</text><text x="207.20" y="114.69" font-size="2.85" font-weight="bold" fill="#000">GP508</text><text x="207.20" y="117.43" font-size="2.85" font-weight="bold" fill="#000">GP513</text><text x="207.20" y="120.16" font-size="2.85" font-weight="bold" fill="#000">GP549</text><text x="207.20" y="122.90" font-size="2.85" font-weight="bold" fill="#000">GP541</text><text x="207.20" y="125.63" font-size="2.85" font-weight="bold" fill="#000">GP546</text><text x="207.20" y="128.37" font-size="2.85" font-weight="bold" fill="#000">GP506</text><text x="207.20" y="131.10" font-size="2.85" font-weight="bold" fill="#000">GP595</text><text x="207.20" y="133.84" font-size="2.85" font-weight="bold" fill="#000">GP531</text><text x="207.20" y="136.57" font-size="2.85" font-weight="bold" fill="#000">GP508</text><text x="207.20" y="139.31" font-size="2.85" font-weight="bold" fill="#000">GP512</text><text x="207.20" y="142.04" font-size="2.85" font-weight="bold" fill="#000">ATL016_2</text><text x="207.20" y="144.78" font-size="2.85" font-weight="bold" fill="#000">ATL004_1</text><text x="207.20" y="147.51" font-size="2.85" font-weight="bold" fill="#000">ATL030_2</text><text x="207.20" y="150.25" font-size="2.85" font-weight="bold" fill="#000">ATL010_3</text><text x="207.20" y="152.98" font-size="2.85" font-weight="bold" fill="#000">ATL009_2</text><text x="207.20" y="155.72" font-size="2.85" font-weight="bold" fill="#000">ATL095_1</text><text x="207.20" y="158.45" font-size="2.85" font-weight="bold" fill="#000">ATL026_2</text><text x="207.20" y="161.19" font-size="2.85" font-weight="bold" fill="#000">ATL082_2</text><text x="207.20" y="163.92" font-size="2.85" font-weight="bold" fill="#000">ATL040_2</text><text x="207.20" y="166.66" font-size="2.85" font-weight="bold" fill="#000">ATL049_2</text><text x="207.20" y="169.39" font-size="2.85" font-weight="bold" fill="#000">ATL082_3</text><text x="207.20" y="172.13" font-size="2.85" font-weight="bold" fill="#000">ATL074_2</text><text x="207.20" y="174.86" font-size="2.85" font-weight="bold" fill="#000">ATL041_2</text><text x="207.20" y="177.60" font-size="2.85" font-weight="bold" fill="#000">ATL094_2</text><text x="207.20" y="180.33" font-size="2.85" font-weight="bold" fill="#000">ATL095_2</text><text x="207.20" y="183.07" font-size="2.85" font-weight="bold" fill="#000">ATL074_1</text><text x="207.20" y="185.80" font-size="2.85" font-weight="bold" fill="#000">ATL077_3</text><text x="207.20" y="188.54" font-size="2.85" font-weight="bold" fill="#000">ATL067_1</text><text x="207.20" y="191.28" font-size="2.85" font-weight="bold" fill="#000">ATL062_2</text><text x="207.20" y="194.01" font-size="2.85" font-weight="bold" fill="#000">ATL054_1</text><text x="207.20" y="196.75" font-size="2.85" font-weight="bold" fill="#000">ATL086_1</text><text x="207.20" y="199.48" font-size="2.85" font-weight="bold" fill="#000">ATL027_1</text><text x="207.20" y="202.22" font-size="2.85" font-weight="bold" fill="#000">ATL047_3</text><text x="207.20" y="204.95" font-size="2.85" font-weight="bold" fill="#000">ATL047_3</text><text x="207.20" y="207.69" font-size="2.85" font-weight="bold" fill="#000">ATL090_1</text><text x="207.20" y="210.42" font-size="2.85" font-weight="bold" fill="#000">ATL084_3</text><text x="207.20" y="213.16" font-size="2.85" font-weight="bold" fill="#000">ATL005_2</text><text x="207.20" y="215.89" font-size="2.85" font-weight="bold" fill="#000">ATL076_3</text><text x="207.20" y="218.62" font-size="2.85" font-weight="bold" fill="#000">ATL056_1</text><text x="207.20" y="221.36" font-size="2.85" font-weight="bold" fill="#000">ATL096_2</text><text x="207.20" y="224.09" font-size="2.85" font-weight="bold" fill="#000">ATL095_2</text><text x="207.20" y="226.83" font-size="2.85" font-weight="bold" fill="#000">ATL021_2</text><text x="207.20" y="229.56" font-size="2.85" font-weight="bold" fill="#000">ATL082_3</text><text x="207.20" y="232.30" font-size="2.85" font-weight="bold" fill="#000">ATL043_3</text><text x="207.20" y="235.03" font-size="2.85" font-weight="bold" fill="#000">ATL094_1</text><text x="207.20" y="237.77" font-size="2.85" font-weight="bold" fill="#000">ATL022_1</text><text x="207.20" y="240.50" font-size="2.85" font-weight="bold" fill="#000">ATL007_1</text><text x="207.20" y="243.24" font-size="2.85" font-weight="bold" fill="#000">ATL028_3</text><text x="207.20" y="245.97" font-size="2.85" font-weight="bold" fill="#000">ATL007_1</text><text x="207.20" y="248.71" font-size="2.85" font-weight="bold" fill="#000">ATL015_3</text><text x="207.20" y="251.44" font-size="2.85" font-weight="bold" fill="#000">ATL009_3</text><text x="207.20" y="254.18" font-size="2.85" font-weight="bold" fill="#000">ATL028_2</text><text x="207.20" y="256.91" font-size="2.85" font-weight="bold" fill="#000">ATL011_1</text><text x="207.20" y="259.65" font-size="2.85" font-weight="bold" fill="#000">ATL061_3</text><text x="207.20" y="262.38" font-size="2.85" font-weight="bold" fill="#000">ATL074_3</text><text x="207.20" y="265.12" font-size="2.85" font-weight="bold" fill="#000">ATL071_3</text><text x="207.20" y="267.86" font-size="2.85" font-weight="bold" fill="#000">ATL045_3</text><text x="207.20" y="270.59" font-size="2.85" font-weight="bold" fill="#000">ATL069_2</text><text x="207.20" y="273.32" font-size="2.85" font-weight="bold" fill="#000">ATL025_1</text><text x="207.20" y="276.06" font-size="2.85" font-weight="bold" fill="#000">ATL096_2</text><text x="207.20" y="278.80" font-size="2.85" font-weight="bold" fill="#000">ATL015_2</text><text x="207.20" y="281.53" font-size="2.85" font-weight="bold" fill="#000">ATL074_1</text><text x="207.20" y="284.26" font-size="2.85" font-weight="bold" fill="#000">ATL019_1</text><text x="207.20" y="287.00" font-size="2.85" font-weight="bold" fill="#000">ATL049_1</text><text x="207.20" y="289.74" font-size="2.85" font-weight="bold" fill="#000">ATL018_1</text><text x="207.20" y="292.47" font-size="2.85" font-weight="bold" fill="#000">ATL009_3</text><text x="207.20" y="295.20" font-size="2.85" font-weight="bold" fill="#000">ATL065_1</text><text x="207.20" y="297.94" font-size="2.85" font-weight="bold" fill="#000">ATL034_2</text><text x="207.20" y="300.68" font-size="2.85" font-weight="bold" fill="#000">ATL022_1</text><text x="207.20" y="303.41" font-size="2.85" font-weight="bold" fill="#000">ATL013_3</text><text x="207.20" y="306.14" font-size="2.85" font-weight="bold" fill="#000">ATL015_1</text><text x="207.20" y="308.88" font-size="2.85" font-weight="bold" fill="#000">ATL088_3</text><text x="207.20" y="311.62" font-size="2.85" font-weight="bold" fill="#000">ATL027_3</text><text x="207.20" y="314.35" font-size="2.85" font-weight="bold" fill="#000">ATL092_3</text><text x="207.20" y="317.08" font-size="2.85" font-weight="bold" fill="#000">ATL080_3</text><text x="207.20" y="319.82" font-size="2.85" font-weight="bold" fill="#000">ATL097_1</text><text x="207.20" y="322.56" font-size="2.85" font-weight="bold" fill="#000">ATL012_2</text><text x="207.20" y="325.29" font-size="2.85" font-weight="bold" fill="#000">ATL043_1</text><text x="207.20" y="328.02" font-size="2.85" font-weight="bold" fill="#000">ATL063_2</text><text x="207.20" y="330.76" font-size="2.85" font-weight="bold" fill="#000">ATL062_2</text><text x="207.20" y="333.50" font-size="2.85" font-weight="bold" fill="#000">ATL090_2</text><text x="207.20" y="336.23" font-size="2.85" font-weight="bold" fill="#000">ATL076_2</text><text x="207.20" y="338.96" font-size="2.85" font-weight="bold" fill="#000">ATL067_2</text><text x="207.20" y="341.70" font-size="2.85" font-weight="bold" fill="#000">ATL008_2</text><text x="207.20" y="344.44" font-size="2.85" font-weight="bold" fill="#000">ATL014_3</text><text x="207.20" y="347.17" font-size="2.85" font-weight="bold" fill="#000">ATL077_2</text><text x="207.20" y="349.90" font-size="2.85" font-weight="bold" fill="#000">ATL031_1</text><text x="207.20" y="352.64" font-size="2.85" font-weight="bold" fill="#000">ATL098_3</text><text x="207.20" y="355.38" font-size="2.85" font-weight="bold" fill="#000">ATL069_3</text><text x="207.20" y="358.11" font-size="2.85" font-weight="bold" fill="#000">ATL066_2</text><text x="207.20" y="360.84" font-size="2.85" font-weight="bold" fill="#000">ATL080_1</text><text x="359.40" y="20.35" font-size="3.3" font-weight="bold" fill="#000">SP1</text><text x="359.40" y="24.95" font-size="3.3" font-weight="bold" fill="#000">SP7</text><text x="359.40" y="29.55" font-size="3.3" font-weight="bold" fill="#000">SP8</text><text x="359.40" y="34.15" font-size="3.3" font-weight="bold" fill="#000">SP14</text><text x="359.40" y="38.75" font-size="3.3" font-weight="bold" fill="#000">SP4</text><text x="359.40" y="43.35" font-size="3.3" font-weight="bold" fill="#000">SP10</text><text x="359.40" y="47.95" font-size="3.3" font-weight="bold" fill="#000">SP15</text><text x="359.40" y="52.55" font-size="3.3" font-weight="bold" fill="#000">SP12</text><text x="359.40" y="57.15" font-size="3.3" font-weight="bold" fill="#000">SP13</text><text x="359.40" y="61.75" font-size="3.3" font-weight="bold" fill="#000">SP3</text><text x="359.40" y="66.35" font-size="3.3" font-weight="bold" fill="#000">Pt26</text><text x="359.40" y="70.95" font-size="3.3" font-weight="bold" fill="#000">26T</text><text x="359.40" y="75.55" font-size="3.3" font-weight="bold" fill="#000">4T</text><text x="359.40" y="80.15" font-size="3.3" font-weight="bold" fill="#000">11T</text><text x="359.40" y="84.75" font-size="3.3" font-weight="bold" fill="#000">6T</text><text x="359.40" y="89.35" font-size="3.3" font-weight="bold" fill="#000">28T</text><text x="359.40" y="93.95" font-size="3.3" font-weight="bold" fill="#000">31T</text><text x="359.40" y="98.55" font-size="3.3" font-weight="bold" fill="#000">1T</text><text x="359.40" y="103.15" font-size="3.3" font-weight="bold" fill="#000">Pt12</text><text x="359.40" y="107.75" font-size="3.3" font-weight="bold" fill="#000">24T</text><text x="359.40" y="112.35" font-size="3.3" font-weight="bold" fill="#000">Pt17</text><text x="359.40" y="116.95" font-size="3.3" font-weight="bold" fill="#000">2T</text><text x="359.40" y="121.55" font-size="3.3" font-weight="bold" fill="#000">Pt19_2</text><text x="359.40" y="126.15" font-size="3.3" font-weight="bold" fill="#000">Pt21</text><text x="359.40" y="130.75" font-size="3.3" font-weight="bold" fill="#000">25T</text><text x="359.40" y="135.35" font-size="3.3" font-weight="bold" fill="#000">29T</text><text x="359.40" y="139.95" font-size="3.3" font-weight="bold" fill="#000">Pt10</text><text x="359.40" y="144.55" font-size="3.3" font-weight="bold" fill="#000">Pt19_1</text><text x="359.40" y="149.15" font-size="3.3" font-weight="bold" fill="#000">32T</text><text x="359.40" y="153.75" font-size="3.3" font-weight="bold" fill="#000">Pt11</text><text x="359.40" y="158.35" font-size="3.3" font-weight="bold" fill="#000">NU6T</text><text x="359.40" y="162.95" font-size="3.3" font-weight="bold" fill="#000">NU12T</text><text x="359.40" y="167.55" font-size="3.3" font-weight="bold" fill="#000">PAT4</text><text x="359.40" y="172.15" font-size="3.3" font-weight="bold" fill="#000">PAT12</text><text x="359.40" y="176.75" font-size="3.3" font-weight="bold" fill="#000">NU16T</text><text x="359.40" y="181.35" font-size="3.3" font-weight="bold" fill="#000">NU21T</text><text x="359.40" y="185.95" font-size="3.3" font-weight="bold" fill="#000">NU3T</text><text x="359.40" y="190.55" font-size="3.3" font-weight="bold" fill="#000">Pt4</text><text x="359.40" y="195.15" font-size="3.3" font-weight="bold" fill="#000">PAT1</text><text x="359.40" y="199.75" font-size="3.3" font-weight="bold" fill="#000">NU1T</text><text x="359.40" y="204.35" font-size="3.3" font-weight="bold" fill="#000">PAT5</text><text x="359.40" y="208.95" font-size="3.3" font-weight="bold" fill="#000">Pt13</text><text x="359.40" y="213.55" font-size="3.3" font-weight="bold" fill="#000">PAT11</text><text x="359.40" y="218.15" font-size="3.3" font-weight="bold" fill="#000">NU17T</text><text x="359.40" y="222.75" font-size="3.3" font-weight="bold" fill="#000">PAT10</text><text x="359.40" y="227.35" font-size="3.3" font-weight="bold" fill="#000">NU13T</text><text x="359.40" y="231.95" font-size="3.3" font-weight="bold" fill="#000">NU14T</text><text x="359.40" y="236.55" font-size="3.3" font-weight="bold" fill="#000">PAT3</text><text x="359.40" y="241.15" font-size="3.3" font-weight="bold" fill="#000">Pt6</text><text x="359.40" y="245.75" font-size="3.3" font-weight="bold" fill="#000">Pt14</text><text x="359.40" y="250.35" font-size="3.3" font-weight="bold" fill="#000">L11A</text><text x="359.40" y="254.95" font-size="3.3" font-weight="bold" fill="#000">L04A</text><text x="359.40" y="259.55" font-size="3.3" font-weight="bold" fill="#000">L19A</text><text x="359.40" y="264.15" font-size="3.3" font-weight="bold" fill="#000">L10A</text><text x="359.40" y="268.75" font-size="3.3" font-weight="bold" fill="#000">L25A</text><text x="359.40" y="273.35" font-size="3.3" font-weight="bold" fill="#000">L06A</text><text x="359.40" y="277.95" font-size="3.3" font-weight="bold" fill="#000">L16A</text><text x="359.40" y="282.55" font-size="3.3" font-weight="bold" fill="#000">L17A</text><text x="359.40" y="287.15" font-size="3.3" font-weight="bold" fill="#000">L05A</text><text x="359.40" y="291.75" font-size="3.3" font-weight="bold" fill="#000">L09A</text><text x="359.40" y="296.35" font-size="3.3" font-weight="bold" fill="#000">L23A</text><text x="359.40" y="300.95" font-size="3.3" font-weight="bold" fill="#000">L21A</text><text x="359.40" y="305.55" font-size="3.3" font-weight="bold" fill="#000">L07A</text><text x="359.40" y="310.15" font-size="3.3" font-weight="bold" fill="#000">L13A</text><text x="359.40" y="314.75" font-size="3.3" font-weight="bold" fill="#000">L18A</text><text x="359.40" y="319.35" font-size="3.3" font-weight="bold" fill="#000">L01A</text><text x="359.40" y="323.95" font-size="3.3" font-weight="bold" fill="#000">L14A</text><text x="359.40" y="328.55" font-size="3.3" font-weight="bold" fill="#000">L24A</text><text x="359.40" y="333.15" font-size="3.3" font-weight="bold" fill="#000">L12A</text><text x="359.40" y="337.75" font-size="3.3" font-weight="bold" fill="#000">L02A</text><text x="359.40" y="342.35" font-size="3.3" font-weight="bold" fill="#000">L15A</text><text x="359.40" y="346.95" font-size="3.3" font-weight="bold" fill="#000">L03A</text><text x="359.40" y="351.55" font-size="3.3" font-weight="bold" fill="#000">L22A</text><text x="359.40" y="356.15" font-size="3.3" font-weight="bold" fill="#000">L20A</text><text x="359.40" y="360.75" font-size="3.3" font-weight="bold" fill="#000">L08A</text></g>
<text x="6.70" y="14.75" font-size="10.1" text-anchor="start" font-weight="bold" fill="#000" textLength="8.0" lengthAdjust="spacingAndGlyphs">A</text>
<text x="151.30" y="14.75" font-size="10.1" text-anchor="start" font-weight="bold" fill="#000" textLength="8.0" lengthAdjust="spacingAndGlyphs">B</text>
<text x="309.60" y="14.85" font-size="10.1" text-anchor="start" font-weight="bold" fill="#000" textLength="7.9" lengthAdjust="spacingAndGlyphs">C</text>
<path d="M0 0H520V392H0Z M1.25 1.05V390.15H518.7V1.05Z" fill="#000" fill-rule="evenodd"/>
</svg>
</body></html>
